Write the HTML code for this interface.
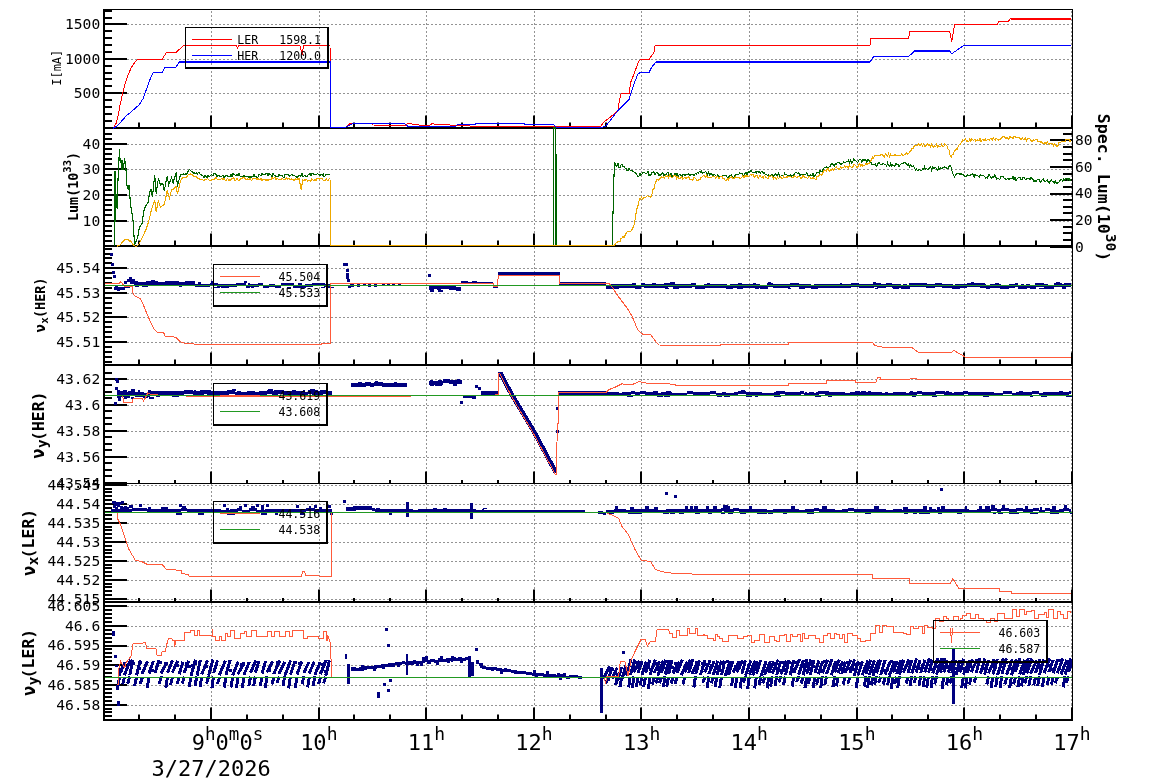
<!DOCTYPE html>
<html><head><meta charset="utf-8"><title>SuperKEKB</title>
<style>html,body{margin:0;padding:0;background:#fff;width:1154px;height:782px;overflow:hidden}svg{display:block}</style>
</head><body>
<svg width="1154" height="782" viewBox="0 0 1154 782" font-family="'DejaVu Sans Mono','Liberation Mono',monospace">
<rect width="1154" height="782" fill="#fff"/>
<g>
<line x1="211.5" y1="10" x2="211.5" y2="128.0" stroke="#939393" stroke-width="1" stroke-dasharray="2,2" stroke-dashoffset="3"/>
<line x1="319.5" y1="10" x2="319.5" y2="128.0" stroke="#939393" stroke-width="1" stroke-dasharray="2,2" stroke-dashoffset="3"/>
<line x1="426.5" y1="10" x2="426.5" y2="128.0" stroke="#939393" stroke-width="1" stroke-dasharray="2,2" stroke-dashoffset="3"/>
<line x1="534.5" y1="10" x2="534.5" y2="128.0" stroke="#939393" stroke-width="1" stroke-dasharray="2,2" stroke-dashoffset="3"/>
<line x1="641.5" y1="10" x2="641.5" y2="128.0" stroke="#939393" stroke-width="1" stroke-dasharray="2,2" stroke-dashoffset="3"/>
<line x1="749.5" y1="10" x2="749.5" y2="128.0" stroke="#939393" stroke-width="1" stroke-dasharray="2,2" stroke-dashoffset="3"/>
<line x1="857.5" y1="10" x2="857.5" y2="128.0" stroke="#939393" stroke-width="1" stroke-dasharray="2,2" stroke-dashoffset="3"/>
<line x1="964.5" y1="10" x2="964.5" y2="128.0" stroke="#939393" stroke-width="1" stroke-dasharray="2,2" stroke-dashoffset="3"/>
<line x1="1071.5" y1="10" x2="1071.5" y2="128.0" stroke="#939393" stroke-width="1" stroke-dasharray="2,2" stroke-dashoffset="3"/>
<line x1="104" y1="93.5" x2="1072" y2="93.5" stroke="#939393" stroke-width="1" stroke-dasharray="2,2" stroke-dashoffset="1"/>
<line x1="104" y1="59.5" x2="1072" y2="59.5" stroke="#939393" stroke-width="1" stroke-dasharray="2,2" stroke-dashoffset="1"/>
<line x1="104" y1="24.5" x2="1072" y2="24.5" stroke="#939393" stroke-width="1" stroke-dasharray="2,2" stroke-dashoffset="1"/>
<line x1="211.5" y1="128" x2="211.5" y2="246.0" stroke="#939393" stroke-width="1" stroke-dasharray="2,2" stroke-dashoffset="1"/>
<line x1="319.5" y1="128" x2="319.5" y2="246.0" stroke="#939393" stroke-width="1" stroke-dasharray="2,2" stroke-dashoffset="1"/>
<line x1="426.5" y1="128" x2="426.5" y2="246.0" stroke="#939393" stroke-width="1" stroke-dasharray="2,2" stroke-dashoffset="1"/>
<line x1="534.5" y1="128" x2="534.5" y2="246.0" stroke="#939393" stroke-width="1" stroke-dasharray="2,2" stroke-dashoffset="1"/>
<line x1="641.5" y1="128" x2="641.5" y2="246.0" stroke="#939393" stroke-width="1" stroke-dasharray="2,2" stroke-dashoffset="1"/>
<line x1="749.5" y1="128" x2="749.5" y2="246.0" stroke="#939393" stroke-width="1" stroke-dasharray="2,2" stroke-dashoffset="1"/>
<line x1="857.5" y1="128" x2="857.5" y2="246.0" stroke="#939393" stroke-width="1" stroke-dasharray="2,2" stroke-dashoffset="1"/>
<line x1="964.5" y1="128" x2="964.5" y2="246.0" stroke="#939393" stroke-width="1" stroke-dasharray="2,2" stroke-dashoffset="1"/>
<line x1="1071.5" y1="128" x2="1071.5" y2="246.0" stroke="#939393" stroke-width="1" stroke-dasharray="2,2" stroke-dashoffset="1"/>
<line x1="104" y1="221.5" x2="1072" y2="221.5" stroke="#939393" stroke-width="1" stroke-dasharray="2,2" stroke-dashoffset="1"/>
<line x1="104" y1="195.5" x2="1072" y2="195.5" stroke="#939393" stroke-width="1" stroke-dasharray="2,2" stroke-dashoffset="1"/>
<line x1="104" y1="169.5" x2="1072" y2="169.5" stroke="#939393" stroke-width="1" stroke-dasharray="2,2" stroke-dashoffset="1"/>
<line x1="104" y1="144.5" x2="1072" y2="144.5" stroke="#939393" stroke-width="1" stroke-dasharray="2,2" stroke-dashoffset="1"/>
<line x1="211.5" y1="246" x2="211.5" y2="365.0" stroke="#939393" stroke-width="1" stroke-dasharray="2,2" stroke-dashoffset="3"/>
<line x1="319.5" y1="246" x2="319.5" y2="365.0" stroke="#939393" stroke-width="1" stroke-dasharray="2,2" stroke-dashoffset="3"/>
<line x1="426.5" y1="246" x2="426.5" y2="365.0" stroke="#939393" stroke-width="1" stroke-dasharray="2,2" stroke-dashoffset="3"/>
<line x1="534.5" y1="246" x2="534.5" y2="365.0" stroke="#939393" stroke-width="1" stroke-dasharray="2,2" stroke-dashoffset="3"/>
<line x1="641.5" y1="246" x2="641.5" y2="365.0" stroke="#939393" stroke-width="1" stroke-dasharray="2,2" stroke-dashoffset="3"/>
<line x1="749.5" y1="246" x2="749.5" y2="365.0" stroke="#939393" stroke-width="1" stroke-dasharray="2,2" stroke-dashoffset="3"/>
<line x1="857.5" y1="246" x2="857.5" y2="365.0" stroke="#939393" stroke-width="1" stroke-dasharray="2,2" stroke-dashoffset="3"/>
<line x1="964.5" y1="246" x2="964.5" y2="365.0" stroke="#939393" stroke-width="1" stroke-dasharray="2,2" stroke-dashoffset="3"/>
<line x1="1071.5" y1="246" x2="1071.5" y2="365.0" stroke="#939393" stroke-width="1" stroke-dasharray="2,2" stroke-dashoffset="3"/>
<line x1="104" y1="342.5" x2="1072" y2="342.5" stroke="#939393" stroke-width="1" stroke-dasharray="2,2" stroke-dashoffset="1"/>
<line x1="104" y1="317.5" x2="1072" y2="317.5" stroke="#939393" stroke-width="1" stroke-dasharray="2,2" stroke-dashoffset="1"/>
<line x1="104" y1="293.5" x2="1072" y2="293.5" stroke="#939393" stroke-width="1" stroke-dasharray="2,2" stroke-dashoffset="1"/>
<line x1="104" y1="268.5" x2="1072" y2="268.5" stroke="#939393" stroke-width="1" stroke-dasharray="2,2" stroke-dashoffset="1"/>
<line x1="211.5" y1="365" x2="211.5" y2="484.0" stroke="#939393" stroke-width="1" stroke-dasharray="2,2" stroke-dashoffset="2"/>
<line x1="319.5" y1="365" x2="319.5" y2="484.0" stroke="#939393" stroke-width="1" stroke-dasharray="2,2" stroke-dashoffset="2"/>
<line x1="426.5" y1="365" x2="426.5" y2="484.0" stroke="#939393" stroke-width="1" stroke-dasharray="2,2" stroke-dashoffset="2"/>
<line x1="534.5" y1="365" x2="534.5" y2="484.0" stroke="#939393" stroke-width="1" stroke-dasharray="2,2" stroke-dashoffset="2"/>
<line x1="641.5" y1="365" x2="641.5" y2="484.0" stroke="#939393" stroke-width="1" stroke-dasharray="2,2" stroke-dashoffset="2"/>
<line x1="749.5" y1="365" x2="749.5" y2="484.0" stroke="#939393" stroke-width="1" stroke-dasharray="2,2" stroke-dashoffset="2"/>
<line x1="857.5" y1="365" x2="857.5" y2="484.0" stroke="#939393" stroke-width="1" stroke-dasharray="2,2" stroke-dashoffset="2"/>
<line x1="964.5" y1="365" x2="964.5" y2="484.0" stroke="#939393" stroke-width="1" stroke-dasharray="2,2" stroke-dashoffset="2"/>
<line x1="1071.5" y1="365" x2="1071.5" y2="484.0" stroke="#939393" stroke-width="1" stroke-dasharray="2,2" stroke-dashoffset="2"/>
<line x1="104" y1="457.5" x2="1072" y2="457.5" stroke="#939393" stroke-width="1" stroke-dasharray="2,2" stroke-dashoffset="1"/>
<line x1="104" y1="431.5" x2="1072" y2="431.5" stroke="#939393" stroke-width="1" stroke-dasharray="2,2" stroke-dashoffset="1"/>
<line x1="104" y1="405.5" x2="1072" y2="405.5" stroke="#939393" stroke-width="1" stroke-dasharray="2,2" stroke-dashoffset="1"/>
<line x1="104" y1="379.5" x2="1072" y2="379.5" stroke="#939393" stroke-width="1" stroke-dasharray="2,2" stroke-dashoffset="1"/>
<line x1="211.5" y1="484" x2="211.5" y2="602.0" stroke="#939393" stroke-width="1" stroke-dasharray="2,2" stroke-dashoffset="1"/>
<line x1="319.5" y1="484" x2="319.5" y2="602.0" stroke="#939393" stroke-width="1" stroke-dasharray="2,2" stroke-dashoffset="1"/>
<line x1="426.5" y1="484" x2="426.5" y2="602.0" stroke="#939393" stroke-width="1" stroke-dasharray="2,2" stroke-dashoffset="1"/>
<line x1="534.5" y1="484" x2="534.5" y2="602.0" stroke="#939393" stroke-width="1" stroke-dasharray="2,2" stroke-dashoffset="1"/>
<line x1="641.5" y1="484" x2="641.5" y2="602.0" stroke="#939393" stroke-width="1" stroke-dasharray="2,2" stroke-dashoffset="1"/>
<line x1="749.5" y1="484" x2="749.5" y2="602.0" stroke="#939393" stroke-width="1" stroke-dasharray="2,2" stroke-dashoffset="1"/>
<line x1="857.5" y1="484" x2="857.5" y2="602.0" stroke="#939393" stroke-width="1" stroke-dasharray="2,2" stroke-dashoffset="1"/>
<line x1="964.5" y1="484" x2="964.5" y2="602.0" stroke="#939393" stroke-width="1" stroke-dasharray="2,2" stroke-dashoffset="1"/>
<line x1="1071.5" y1="484" x2="1071.5" y2="602.0" stroke="#939393" stroke-width="1" stroke-dasharray="2,2" stroke-dashoffset="1"/>
<line x1="104" y1="599.5" x2="1072" y2="599.5" stroke="#939393" stroke-width="1" stroke-dasharray="2,2" stroke-dashoffset="1"/>
<line x1="104" y1="580.5" x2="1072" y2="580.5" stroke="#939393" stroke-width="1" stroke-dasharray="2,2" stroke-dashoffset="1"/>
<line x1="104" y1="561.5" x2="1072" y2="561.5" stroke="#939393" stroke-width="1" stroke-dasharray="2,2" stroke-dashoffset="1"/>
<line x1="104" y1="542.5" x2="1072" y2="542.5" stroke="#939393" stroke-width="1" stroke-dasharray="2,2" stroke-dashoffset="1"/>
<line x1="104" y1="523.5" x2="1072" y2="523.5" stroke="#939393" stroke-width="1" stroke-dasharray="2,2" stroke-dashoffset="1"/>
<line x1="104" y1="504.5" x2="1072" y2="504.5" stroke="#939393" stroke-width="1" stroke-dasharray="2,2" stroke-dashoffset="1"/>
<line x1="104" y1="485.5" x2="1072" y2="485.5" stroke="#939393" stroke-width="1" stroke-dasharray="2,2" stroke-dashoffset="1"/>
<line x1="211.5" y1="602" x2="211.5" y2="720.0" stroke="#939393" stroke-width="1" stroke-dasharray="2,2" stroke-dashoffset="3"/>
<line x1="319.5" y1="602" x2="319.5" y2="720.0" stroke="#939393" stroke-width="1" stroke-dasharray="2,2" stroke-dashoffset="3"/>
<line x1="426.5" y1="602" x2="426.5" y2="720.0" stroke="#939393" stroke-width="1" stroke-dasharray="2,2" stroke-dashoffset="3"/>
<line x1="534.5" y1="602" x2="534.5" y2="720.0" stroke="#939393" stroke-width="1" stroke-dasharray="2,2" stroke-dashoffset="3"/>
<line x1="641.5" y1="602" x2="641.5" y2="720.0" stroke="#939393" stroke-width="1" stroke-dasharray="2,2" stroke-dashoffset="3"/>
<line x1="749.5" y1="602" x2="749.5" y2="720.0" stroke="#939393" stroke-width="1" stroke-dasharray="2,2" stroke-dashoffset="3"/>
<line x1="857.5" y1="602" x2="857.5" y2="720.0" stroke="#939393" stroke-width="1" stroke-dasharray="2,2" stroke-dashoffset="3"/>
<line x1="964.5" y1="602" x2="964.5" y2="720.0" stroke="#939393" stroke-width="1" stroke-dasharray="2,2" stroke-dashoffset="3"/>
<line x1="1071.5" y1="602" x2="1071.5" y2="720.0" stroke="#939393" stroke-width="1" stroke-dasharray="2,2" stroke-dashoffset="3"/>
<line x1="104" y1="705.5" x2="1072" y2="705.5" stroke="#939393" stroke-width="1" stroke-dasharray="2,2" stroke-dashoffset="1"/>
<line x1="104" y1="685.5" x2="1072" y2="685.5" stroke="#939393" stroke-width="1" stroke-dasharray="2,2" stroke-dashoffset="1"/>
<line x1="104" y1="665.5" x2="1072" y2="665.5" stroke="#939393" stroke-width="1" stroke-dasharray="2,2" stroke-dashoffset="1"/>
<line x1="104" y1="646.5" x2="1072" y2="646.5" stroke="#939393" stroke-width="1" stroke-dasharray="2,2" stroke-dashoffset="1"/>
<line x1="104" y1="626.5" x2="1072" y2="626.5" stroke="#939393" stroke-width="1" stroke-dasharray="2,2" stroke-dashoffset="1"/>
<line x1="104" y1="606.5" x2="1072" y2="606.5" stroke="#939393" stroke-width="1" stroke-dasharray="2,2" stroke-dashoffset="1"/>
</g>
<g>
<rect x="104.0" y="127.0" width="8.0" height="2.0" fill="#000"/>
<rect x="104.0" y="120.0" width="8.0" height="2.0" fill="#000"/>
<rect x="104.0" y="113.0" width="8.0" height="2.0" fill="#000"/>
<rect x="104.0" y="106.0" width="8.0" height="2.0" fill="#000"/>
<rect x="104.0" y="99.0" width="8.0" height="2.0" fill="#000"/>
<rect x="104.0" y="92.0" width="8.0" height="2.0" fill="#000"/>
<rect x="104.0" y="85.0" width="8.0" height="2.0" fill="#000"/>
<rect x="104.0" y="78.0" width="8.0" height="2.0" fill="#000"/>
<rect x="104.0" y="72.0" width="8.0" height="2.0" fill="#000"/>
<rect x="104.0" y="65.0" width="8.0" height="2.0" fill="#000"/>
<rect x="104.0" y="58.0" width="8.0" height="2.0" fill="#000"/>
<rect x="104.0" y="51.0" width="8.0" height="2.0" fill="#000"/>
<rect x="104.0" y="44.0" width="8.0" height="2.0" fill="#000"/>
<rect x="104.0" y="37.0" width="8.0" height="2.0" fill="#000"/>
<rect x="104.0" y="30.0" width="8.0" height="2.0" fill="#000"/>
<rect x="104.0" y="23.0" width="8.0" height="2.0" fill="#000"/>
<rect x="104.0" y="17.0" width="8.0" height="2.0" fill="#000"/>
<rect x="104.0" y="10.0" width="8.0" height="2.0" fill="#000"/>
<rect x="104.0" y="92.0" width="23.0" height="2.0" fill="#000"/>
<rect x="104.0" y="58.0" width="23.0" height="2.0" fill="#000"/>
<rect x="104.0" y="23.0" width="23.0" height="2.0" fill="#000"/>
<rect x="138.0" y="122.5" width="2.0" height="5.0" fill="#000"/>
<rect x="174.0" y="122.5" width="2.0" height="5.0" fill="#000"/>
<rect x="210.0" y="115.5" width="2.0" height="12.0" fill="#000"/>
<rect x="246.0" y="122.5" width="2.0" height="5.0" fill="#000"/>
<rect x="282.0" y="122.5" width="2.0" height="5.0" fill="#000"/>
<rect x="318.0" y="115.5" width="2.0" height="12.0" fill="#000"/>
<rect x="353.0" y="122.5" width="2.0" height="5.0" fill="#000"/>
<rect x="389.0" y="122.5" width="2.0" height="5.0" fill="#000"/>
<rect x="425.0" y="115.5" width="2.0" height="12.0" fill="#000"/>
<rect x="461.0" y="122.5" width="2.0" height="5.0" fill="#000"/>
<rect x="497.0" y="122.5" width="2.0" height="5.0" fill="#000"/>
<rect x="533.0" y="115.5" width="2.0" height="12.0" fill="#000"/>
<rect x="569.0" y="122.5" width="2.0" height="5.0" fill="#000"/>
<rect x="605.0" y="122.5" width="2.0" height="5.0" fill="#000"/>
<rect x="640.0" y="115.5" width="2.0" height="12.0" fill="#000"/>
<rect x="676.0" y="122.5" width="2.0" height="5.0" fill="#000"/>
<rect x="712.0" y="122.5" width="2.0" height="5.0" fill="#000"/>
<rect x="748.0" y="115.5" width="2.0" height="12.0" fill="#000"/>
<rect x="784.0" y="122.5" width="2.0" height="5.0" fill="#000"/>
<rect x="820.0" y="122.5" width="2.0" height="5.0" fill="#000"/>
<rect x="856.0" y="115.5" width="2.0" height="12.0" fill="#000"/>
<rect x="891.0" y="122.5" width="2.0" height="5.0" fill="#000"/>
<rect x="927.0" y="122.5" width="2.0" height="5.0" fill="#000"/>
<rect x="963.0" y="115.5" width="2.0" height="12.0" fill="#000"/>
<rect x="999.0" y="122.5" width="2.0" height="5.0" fill="#000"/>
<rect x="1035.0" y="122.5" width="2.0" height="5.0" fill="#000"/>
<rect x="1071.0" y="115.5" width="2.0" height="12.0" fill="#000"/>
<rect x="104.0" y="245.0" width="8.0" height="2.0" fill="#000"/>
<rect x="104.0" y="240.0" width="8.0" height="2.0" fill="#000"/>
<rect x="104.0" y="235.0" width="8.0" height="2.0" fill="#000"/>
<rect x="104.0" y="230.0" width="8.0" height="2.0" fill="#000"/>
<rect x="104.0" y="225.0" width="8.0" height="2.0" fill="#000"/>
<rect x="104.0" y="220.0" width="8.0" height="2.0" fill="#000"/>
<rect x="104.0" y="214.0" width="8.0" height="2.0" fill="#000"/>
<rect x="104.0" y="209.0" width="8.0" height="2.0" fill="#000"/>
<rect x="104.0" y="204.0" width="8.0" height="2.0" fill="#000"/>
<rect x="104.0" y="199.0" width="8.0" height="2.0" fill="#000"/>
<rect x="104.0" y="194.0" width="8.0" height="2.0" fill="#000"/>
<rect x="104.0" y="189.0" width="8.0" height="2.0" fill="#000"/>
<rect x="104.0" y="184.0" width="8.0" height="2.0" fill="#000"/>
<rect x="104.0" y="179.0" width="8.0" height="2.0" fill="#000"/>
<rect x="104.0" y="174.0" width="8.0" height="2.0" fill="#000"/>
<rect x="104.0" y="168.0" width="8.0" height="2.0" fill="#000"/>
<rect x="104.0" y="163.0" width="8.0" height="2.0" fill="#000"/>
<rect x="104.0" y="158.0" width="8.0" height="2.0" fill="#000"/>
<rect x="104.0" y="153.0" width="8.0" height="2.0" fill="#000"/>
<rect x="104.0" y="148.0" width="8.0" height="2.0" fill="#000"/>
<rect x="104.0" y="143.0" width="8.0" height="2.0" fill="#000"/>
<rect x="104.0" y="138.0" width="8.0" height="2.0" fill="#000"/>
<rect x="104.0" y="133.0" width="8.0" height="2.0" fill="#000"/>
<rect x="104.0" y="127.0" width="8.0" height="2.0" fill="#000"/>
<rect x="104.0" y="220.0" width="23.0" height="2.0" fill="#000"/>
<rect x="104.0" y="194.0" width="23.0" height="2.0" fill="#000"/>
<rect x="104.0" y="168.0" width="23.0" height="2.0" fill="#000"/>
<rect x="104.0" y="143.0" width="23.0" height="2.0" fill="#000"/>
<rect x="138.0" y="240.5" width="2.0" height="5.0" fill="#000"/>
<rect x="174.0" y="240.5" width="2.0" height="5.0" fill="#000"/>
<rect x="210.0" y="233.5" width="2.0" height="12.0" fill="#000"/>
<rect x="246.0" y="240.5" width="2.0" height="5.0" fill="#000"/>
<rect x="282.0" y="240.5" width="2.0" height="5.0" fill="#000"/>
<rect x="318.0" y="233.5" width="2.0" height="12.0" fill="#000"/>
<rect x="353.0" y="240.5" width="2.0" height="5.0" fill="#000"/>
<rect x="389.0" y="240.5" width="2.0" height="5.0" fill="#000"/>
<rect x="425.0" y="233.5" width="2.0" height="12.0" fill="#000"/>
<rect x="461.0" y="240.5" width="2.0" height="5.0" fill="#000"/>
<rect x="497.0" y="240.5" width="2.0" height="5.0" fill="#000"/>
<rect x="533.0" y="233.5" width="2.0" height="12.0" fill="#000"/>
<rect x="569.0" y="240.5" width="2.0" height="5.0" fill="#000"/>
<rect x="605.0" y="240.5" width="2.0" height="5.0" fill="#000"/>
<rect x="640.0" y="233.5" width="2.0" height="12.0" fill="#000"/>
<rect x="676.0" y="240.5" width="2.0" height="5.0" fill="#000"/>
<rect x="712.0" y="240.5" width="2.0" height="5.0" fill="#000"/>
<rect x="748.0" y="233.5" width="2.0" height="12.0" fill="#000"/>
<rect x="784.0" y="240.5" width="2.0" height="5.0" fill="#000"/>
<rect x="820.0" y="240.5" width="2.0" height="5.0" fill="#000"/>
<rect x="856.0" y="233.5" width="2.0" height="12.0" fill="#000"/>
<rect x="891.0" y="240.5" width="2.0" height="5.0" fill="#000"/>
<rect x="927.0" y="240.5" width="2.0" height="5.0" fill="#000"/>
<rect x="963.0" y="233.5" width="2.0" height="12.0" fill="#000"/>
<rect x="999.0" y="240.5" width="2.0" height="5.0" fill="#000"/>
<rect x="1035.0" y="240.5" width="2.0" height="5.0" fill="#000"/>
<rect x="1071.0" y="233.5" width="2.0" height="12.0" fill="#000"/>
<rect x="104.0" y="361.0" width="8.0" height="2.0" fill="#000"/>
<rect x="104.0" y="356.0" width="8.0" height="2.0" fill="#000"/>
<rect x="104.0" y="351.0" width="8.0" height="2.0" fill="#000"/>
<rect x="104.0" y="346.0" width="8.0" height="2.0" fill="#000"/>
<rect x="104.0" y="341.0" width="8.0" height="2.0" fill="#000"/>
<rect x="104.0" y="336.0" width="8.0" height="2.0" fill="#000"/>
<rect x="104.0" y="331.0" width="8.0" height="2.0" fill="#000"/>
<rect x="104.0" y="326.0" width="8.0" height="2.0" fill="#000"/>
<rect x="104.0" y="321.0" width="8.0" height="2.0" fill="#000"/>
<rect x="104.0" y="316.0" width="8.0" height="2.0" fill="#000"/>
<rect x="104.0" y="312.0" width="8.0" height="2.0" fill="#000"/>
<rect x="104.0" y="307.0" width="8.0" height="2.0" fill="#000"/>
<rect x="104.0" y="302.0" width="8.0" height="2.0" fill="#000"/>
<rect x="104.0" y="297.0" width="8.0" height="2.0" fill="#000"/>
<rect x="104.0" y="292.0" width="8.0" height="2.0" fill="#000"/>
<rect x="104.0" y="287.0" width="8.0" height="2.0" fill="#000"/>
<rect x="104.0" y="282.0" width="8.0" height="2.0" fill="#000"/>
<rect x="104.0" y="277.0" width="8.0" height="2.0" fill="#000"/>
<rect x="104.0" y="272.0" width="8.0" height="2.0" fill="#000"/>
<rect x="104.0" y="267.0" width="8.0" height="2.0" fill="#000"/>
<rect x="104.0" y="262.0" width="8.0" height="2.0" fill="#000"/>
<rect x="104.0" y="257.0" width="8.0" height="2.0" fill="#000"/>
<rect x="104.0" y="253.0" width="8.0" height="2.0" fill="#000"/>
<rect x="104.0" y="248.0" width="8.0" height="2.0" fill="#000"/>
<rect x="104.0" y="341.0" width="23.0" height="2.0" fill="#000"/>
<rect x="104.0" y="316.0" width="23.0" height="2.0" fill="#000"/>
<rect x="104.0" y="292.0" width="23.0" height="2.0" fill="#000"/>
<rect x="104.0" y="267.0" width="23.0" height="2.0" fill="#000"/>
<rect x="138.0" y="359.5" width="2.0" height="5.0" fill="#000"/>
<rect x="174.0" y="359.5" width="2.0" height="5.0" fill="#000"/>
<rect x="210.0" y="352.5" width="2.0" height="12.0" fill="#000"/>
<rect x="246.0" y="359.5" width="2.0" height="5.0" fill="#000"/>
<rect x="282.0" y="359.5" width="2.0" height="5.0" fill="#000"/>
<rect x="318.0" y="352.5" width="2.0" height="12.0" fill="#000"/>
<rect x="353.0" y="359.5" width="2.0" height="5.0" fill="#000"/>
<rect x="389.0" y="359.5" width="2.0" height="5.0" fill="#000"/>
<rect x="425.0" y="352.5" width="2.0" height="12.0" fill="#000"/>
<rect x="461.0" y="359.5" width="2.0" height="5.0" fill="#000"/>
<rect x="497.0" y="359.5" width="2.0" height="5.0" fill="#000"/>
<rect x="533.0" y="352.5" width="2.0" height="12.0" fill="#000"/>
<rect x="569.0" y="359.5" width="2.0" height="5.0" fill="#000"/>
<rect x="605.0" y="359.5" width="2.0" height="5.0" fill="#000"/>
<rect x="640.0" y="352.5" width="2.0" height="12.0" fill="#000"/>
<rect x="676.0" y="359.5" width="2.0" height="5.0" fill="#000"/>
<rect x="712.0" y="359.5" width="2.0" height="5.0" fill="#000"/>
<rect x="748.0" y="352.5" width="2.0" height="12.0" fill="#000"/>
<rect x="784.0" y="359.5" width="2.0" height="5.0" fill="#000"/>
<rect x="820.0" y="359.5" width="2.0" height="5.0" fill="#000"/>
<rect x="856.0" y="352.5" width="2.0" height="12.0" fill="#000"/>
<rect x="891.0" y="359.5" width="2.0" height="5.0" fill="#000"/>
<rect x="927.0" y="359.5" width="2.0" height="5.0" fill="#000"/>
<rect x="963.0" y="352.5" width="2.0" height="12.0" fill="#000"/>
<rect x="999.0" y="359.5" width="2.0" height="5.0" fill="#000"/>
<rect x="1035.0" y="359.5" width="2.0" height="5.0" fill="#000"/>
<rect x="1071.0" y="352.5" width="2.0" height="12.0" fill="#000"/>
<rect x="104.0" y="482.0" width="8.0" height="2.0" fill="#000"/>
<rect x="104.0" y="475.0" width="8.0" height="2.0" fill="#000"/>
<rect x="104.0" y="469.0" width="8.0" height="2.0" fill="#000"/>
<rect x="104.0" y="462.0" width="8.0" height="2.0" fill="#000"/>
<rect x="104.0" y="456.0" width="8.0" height="2.0" fill="#000"/>
<rect x="104.0" y="449.0" width="8.0" height="2.0" fill="#000"/>
<rect x="104.0" y="443.0" width="8.0" height="2.0" fill="#000"/>
<rect x="104.0" y="436.0" width="8.0" height="2.0" fill="#000"/>
<rect x="104.0" y="430.0" width="8.0" height="2.0" fill="#000"/>
<rect x="104.0" y="423.0" width="8.0" height="2.0" fill="#000"/>
<rect x="104.0" y="417.0" width="8.0" height="2.0" fill="#000"/>
<rect x="104.0" y="410.0" width="8.0" height="2.0" fill="#000"/>
<rect x="104.0" y="404.0" width="8.0" height="2.0" fill="#000"/>
<rect x="104.0" y="397.0" width="8.0" height="2.0" fill="#000"/>
<rect x="104.0" y="391.0" width="8.0" height="2.0" fill="#000"/>
<rect x="104.0" y="384.0" width="8.0" height="2.0" fill="#000"/>
<rect x="104.0" y="378.0" width="8.0" height="2.0" fill="#000"/>
<rect x="104.0" y="372.0" width="8.0" height="2.0" fill="#000"/>
<rect x="104.0" y="482.0" width="23.0" height="2.0" fill="#000"/>
<rect x="104.0" y="456.0" width="23.0" height="2.0" fill="#000"/>
<rect x="104.0" y="430.0" width="23.0" height="2.0" fill="#000"/>
<rect x="104.0" y="404.0" width="23.0" height="2.0" fill="#000"/>
<rect x="104.0" y="378.0" width="23.0" height="2.0" fill="#000"/>
<rect x="138.0" y="480.0" width="2.0" height="3.5" fill="#000"/>
<rect x="174.0" y="480.0" width="2.0" height="3.5" fill="#000"/>
<rect x="210.0" y="471.5" width="2.0" height="12.0" fill="#000"/>
<rect x="246.0" y="480.0" width="2.0" height="3.5" fill="#000"/>
<rect x="282.0" y="480.0" width="2.0" height="3.5" fill="#000"/>
<rect x="318.0" y="471.5" width="2.0" height="12.0" fill="#000"/>
<rect x="353.0" y="480.0" width="2.0" height="3.5" fill="#000"/>
<rect x="389.0" y="480.0" width="2.0" height="3.5" fill="#000"/>
<rect x="425.0" y="471.5" width="2.0" height="12.0" fill="#000"/>
<rect x="461.0" y="480.0" width="2.0" height="3.5" fill="#000"/>
<rect x="497.0" y="480.0" width="2.0" height="3.5" fill="#000"/>
<rect x="533.0" y="471.5" width="2.0" height="12.0" fill="#000"/>
<rect x="569.0" y="480.0" width="2.0" height="3.5" fill="#000"/>
<rect x="605.0" y="480.0" width="2.0" height="3.5" fill="#000"/>
<rect x="640.0" y="471.5" width="2.0" height="12.0" fill="#000"/>
<rect x="676.0" y="480.0" width="2.0" height="3.5" fill="#000"/>
<rect x="712.0" y="480.0" width="2.0" height="3.5" fill="#000"/>
<rect x="748.0" y="471.5" width="2.0" height="12.0" fill="#000"/>
<rect x="784.0" y="480.0" width="2.0" height="3.5" fill="#000"/>
<rect x="820.0" y="480.0" width="2.0" height="3.5" fill="#000"/>
<rect x="856.0" y="471.5" width="2.0" height="12.0" fill="#000"/>
<rect x="891.0" y="480.0" width="2.0" height="3.5" fill="#000"/>
<rect x="927.0" y="480.0" width="2.0" height="3.5" fill="#000"/>
<rect x="963.0" y="471.5" width="2.0" height="12.0" fill="#000"/>
<rect x="999.0" y="480.0" width="2.0" height="3.5" fill="#000"/>
<rect x="1035.0" y="480.0" width="2.0" height="3.5" fill="#000"/>
<rect x="1071.0" y="471.5" width="2.0" height="12.0" fill="#000"/>
<rect x="104.0" y="598.0" width="8.0" height="2.0" fill="#000"/>
<rect x="104.0" y="594.0" width="8.0" height="2.0" fill="#000"/>
<rect x="104.0" y="590.0" width="8.0" height="2.0" fill="#000"/>
<rect x="104.0" y="586.0" width="8.0" height="2.0" fill="#000"/>
<rect x="104.0" y="583.0" width="8.0" height="2.0" fill="#000"/>
<rect x="104.0" y="579.0" width="8.0" height="2.0" fill="#000"/>
<rect x="104.0" y="575.0" width="8.0" height="2.0" fill="#000"/>
<rect x="104.0" y="571.0" width="8.0" height="2.0" fill="#000"/>
<rect x="104.0" y="567.0" width="8.0" height="2.0" fill="#000"/>
<rect x="104.0" y="564.0" width="8.0" height="2.0" fill="#000"/>
<rect x="104.0" y="560.0" width="8.0" height="2.0" fill="#000"/>
<rect x="104.0" y="556.0" width="8.0" height="2.0" fill="#000"/>
<rect x="104.0" y="552.0" width="8.0" height="2.0" fill="#000"/>
<rect x="104.0" y="549.0" width="8.0" height="2.0" fill="#000"/>
<rect x="104.0" y="545.0" width="8.0" height="2.0" fill="#000"/>
<rect x="104.0" y="541.0" width="8.0" height="2.0" fill="#000"/>
<rect x="104.0" y="537.0" width="8.0" height="2.0" fill="#000"/>
<rect x="104.0" y="533.0" width="8.0" height="2.0" fill="#000"/>
<rect x="104.0" y="529.0" width="8.0" height="2.0" fill="#000"/>
<rect x="104.0" y="526.0" width="8.0" height="2.0" fill="#000"/>
<rect x="104.0" y="522.0" width="8.0" height="2.0" fill="#000"/>
<rect x="104.0" y="518.0" width="8.0" height="2.0" fill="#000"/>
<rect x="104.0" y="514.0" width="8.0" height="2.0" fill="#000"/>
<rect x="104.0" y="511.0" width="8.0" height="2.0" fill="#000"/>
<rect x="104.0" y="507.0" width="8.0" height="2.0" fill="#000"/>
<rect x="104.0" y="503.0" width="8.0" height="2.0" fill="#000"/>
<rect x="104.0" y="499.0" width="8.0" height="2.0" fill="#000"/>
<rect x="104.0" y="495.0" width="8.0" height="2.0" fill="#000"/>
<rect x="104.0" y="491.0" width="8.0" height="2.0" fill="#000"/>
<rect x="104.0" y="488.0" width="8.0" height="2.0" fill="#000"/>
<rect x="104.0" y="484.0" width="8.0" height="2.0" fill="#000"/>
<rect x="104.0" y="598.0" width="23.0" height="2.0" fill="#000"/>
<rect x="104.0" y="579.0" width="23.0" height="2.0" fill="#000"/>
<rect x="104.0" y="560.0" width="23.0" height="2.0" fill="#000"/>
<rect x="104.0" y="541.0" width="23.0" height="2.0" fill="#000"/>
<rect x="104.0" y="522.0" width="23.0" height="2.0" fill="#000"/>
<rect x="104.0" y="503.0" width="23.0" height="2.0" fill="#000"/>
<rect x="104.0" y="484.0" width="23.0" height="2.0" fill="#000"/>
<rect x="138.0" y="598.0" width="2.0" height="3.5" fill="#000"/>
<rect x="174.0" y="598.0" width="2.0" height="3.5" fill="#000"/>
<rect x="210.0" y="589.5" width="2.0" height="12.0" fill="#000"/>
<rect x="246.0" y="598.0" width="2.0" height="3.5" fill="#000"/>
<rect x="282.0" y="598.0" width="2.0" height="3.5" fill="#000"/>
<rect x="318.0" y="589.5" width="2.0" height="12.0" fill="#000"/>
<rect x="353.0" y="598.0" width="2.0" height="3.5" fill="#000"/>
<rect x="389.0" y="598.0" width="2.0" height="3.5" fill="#000"/>
<rect x="425.0" y="589.5" width="2.0" height="12.0" fill="#000"/>
<rect x="461.0" y="598.0" width="2.0" height="3.5" fill="#000"/>
<rect x="497.0" y="598.0" width="2.0" height="3.5" fill="#000"/>
<rect x="533.0" y="589.5" width="2.0" height="12.0" fill="#000"/>
<rect x="569.0" y="598.0" width="2.0" height="3.5" fill="#000"/>
<rect x="605.0" y="598.0" width="2.0" height="3.5" fill="#000"/>
<rect x="640.0" y="589.5" width="2.0" height="12.0" fill="#000"/>
<rect x="676.0" y="598.0" width="2.0" height="3.5" fill="#000"/>
<rect x="712.0" y="598.0" width="2.0" height="3.5" fill="#000"/>
<rect x="748.0" y="589.5" width="2.0" height="12.0" fill="#000"/>
<rect x="784.0" y="598.0" width="2.0" height="3.5" fill="#000"/>
<rect x="820.0" y="598.0" width="2.0" height="3.5" fill="#000"/>
<rect x="856.0" y="589.5" width="2.0" height="12.0" fill="#000"/>
<rect x="891.0" y="598.0" width="2.0" height="3.5" fill="#000"/>
<rect x="927.0" y="598.0" width="2.0" height="3.5" fill="#000"/>
<rect x="963.0" y="589.5" width="2.0" height="12.0" fill="#000"/>
<rect x="999.0" y="598.0" width="2.0" height="3.5" fill="#000"/>
<rect x="1035.0" y="598.0" width="2.0" height="3.5" fill="#000"/>
<rect x="1071.0" y="589.5" width="2.0" height="12.0" fill="#000"/>
<rect x="104.0" y="719.0" width="8.0" height="2.0" fill="#000"/>
<rect x="104.0" y="715.0" width="8.0" height="2.0" fill="#000"/>
<rect x="104.0" y="711.0" width="8.0" height="2.0" fill="#000"/>
<rect x="104.0" y="708.0" width="8.0" height="2.0" fill="#000"/>
<rect x="104.0" y="704.0" width="8.0" height="2.0" fill="#000"/>
<rect x="104.0" y="700.0" width="8.0" height="2.0" fill="#000"/>
<rect x="104.0" y="696.0" width="8.0" height="2.0" fill="#000"/>
<rect x="104.0" y="692.0" width="8.0" height="2.0" fill="#000"/>
<rect x="104.0" y="688.0" width="8.0" height="2.0" fill="#000"/>
<rect x="104.0" y="684.0" width="8.0" height="2.0" fill="#000"/>
<rect x="104.0" y="680.0" width="8.0" height="2.0" fill="#000"/>
<rect x="104.0" y="676.0" width="8.0" height="2.0" fill="#000"/>
<rect x="104.0" y="672.0" width="8.0" height="2.0" fill="#000"/>
<rect x="104.0" y="668.0" width="8.0" height="2.0" fill="#000"/>
<rect x="104.0" y="664.0" width="8.0" height="2.0" fill="#000"/>
<rect x="104.0" y="660.0" width="8.0" height="2.0" fill="#000"/>
<rect x="104.0" y="656.0" width="8.0" height="2.0" fill="#000"/>
<rect x="104.0" y="652.0" width="8.0" height="2.0" fill="#000"/>
<rect x="104.0" y="648.0" width="8.0" height="2.0" fill="#000"/>
<rect x="104.0" y="645.0" width="8.0" height="2.0" fill="#000"/>
<rect x="104.0" y="641.0" width="8.0" height="2.0" fill="#000"/>
<rect x="104.0" y="637.0" width="8.0" height="2.0" fill="#000"/>
<rect x="104.0" y="633.0" width="8.0" height="2.0" fill="#000"/>
<rect x="104.0" y="629.0" width="8.0" height="2.0" fill="#000"/>
<rect x="104.0" y="625.0" width="8.0" height="2.0" fill="#000"/>
<rect x="104.0" y="621.0" width="8.0" height="2.0" fill="#000"/>
<rect x="104.0" y="617.0" width="8.0" height="2.0" fill="#000"/>
<rect x="104.0" y="613.0" width="8.0" height="2.0" fill="#000"/>
<rect x="104.0" y="609.0" width="8.0" height="2.0" fill="#000"/>
<rect x="104.0" y="605.0" width="8.0" height="2.0" fill="#000"/>
<rect x="104.0" y="601.0" width="8.0" height="2.0" fill="#000"/>
<rect x="104.0" y="704.0" width="23.0" height="2.0" fill="#000"/>
<rect x="104.0" y="684.0" width="23.0" height="2.0" fill="#000"/>
<rect x="104.0" y="664.0" width="23.0" height="2.0" fill="#000"/>
<rect x="104.0" y="645.0" width="23.0" height="2.0" fill="#000"/>
<rect x="104.0" y="625.0" width="23.0" height="2.0" fill="#000"/>
<rect x="104.0" y="605.0" width="23.0" height="2.0" fill="#000"/>
<rect x="138.0" y="714.5" width="2.0" height="5.0" fill="#000"/>
<rect x="174.0" y="714.5" width="2.0" height="5.0" fill="#000"/>
<rect x="210.0" y="707.5" width="2.0" height="12.0" fill="#000"/>
<rect x="246.0" y="714.5" width="2.0" height="5.0" fill="#000"/>
<rect x="282.0" y="714.5" width="2.0" height="5.0" fill="#000"/>
<rect x="318.0" y="707.5" width="2.0" height="12.0" fill="#000"/>
<rect x="353.0" y="714.5" width="2.0" height="5.0" fill="#000"/>
<rect x="389.0" y="714.5" width="2.0" height="5.0" fill="#000"/>
<rect x="425.0" y="707.5" width="2.0" height="12.0" fill="#000"/>
<rect x="461.0" y="714.5" width="2.0" height="5.0" fill="#000"/>
<rect x="497.0" y="714.5" width="2.0" height="5.0" fill="#000"/>
<rect x="533.0" y="707.5" width="2.0" height="12.0" fill="#000"/>
<rect x="569.0" y="714.5" width="2.0" height="5.0" fill="#000"/>
<rect x="605.0" y="714.5" width="2.0" height="5.0" fill="#000"/>
<rect x="640.0" y="707.5" width="2.0" height="12.0" fill="#000"/>
<rect x="676.0" y="714.5" width="2.0" height="5.0" fill="#000"/>
<rect x="712.0" y="714.5" width="2.0" height="5.0" fill="#000"/>
<rect x="748.0" y="707.5" width="2.0" height="12.0" fill="#000"/>
<rect x="784.0" y="714.5" width="2.0" height="5.0" fill="#000"/>
<rect x="820.0" y="714.5" width="2.0" height="5.0" fill="#000"/>
<rect x="856.0" y="707.5" width="2.0" height="12.0" fill="#000"/>
<rect x="891.0" y="714.5" width="2.0" height="5.0" fill="#000"/>
<rect x="927.0" y="714.5" width="2.0" height="5.0" fill="#000"/>
<rect x="963.0" y="707.5" width="2.0" height="12.0" fill="#000"/>
<rect x="999.0" y="714.5" width="2.0" height="5.0" fill="#000"/>
<rect x="1035.0" y="714.5" width="2.0" height="5.0" fill="#000"/>
<rect x="1071.0" y="707.5" width="2.0" height="12.0" fill="#000"/>
<rect x="1050.0" y="246.0" width="22.0" height="2.0" fill="#000"/>
<rect x="1063.0" y="239.0" width="9.0" height="2.0" fill="#000"/>
<rect x="1063.0" y="232.0" width="9.0" height="2.0" fill="#000"/>
<rect x="1063.0" y="226.0" width="9.0" height="2.0" fill="#000"/>
<rect x="1050.0" y="219.0" width="22.0" height="2.0" fill="#000"/>
<rect x="1063.0" y="212.0" width="9.0" height="2.0" fill="#000"/>
<rect x="1063.0" y="206.0" width="9.0" height="2.0" fill="#000"/>
<rect x="1063.0" y="199.0" width="9.0" height="2.0" fill="#000"/>
<rect x="1050.0" y="193.0" width="22.0" height="2.0" fill="#000"/>
<rect x="1063.0" y="186.0" width="9.0" height="2.0" fill="#000"/>
<rect x="1063.0" y="179.0" width="9.0" height="2.0" fill="#000"/>
<rect x="1063.0" y="173.0" width="9.0" height="2.0" fill="#000"/>
<rect x="1050.0" y="166.0" width="22.0" height="2.0" fill="#000"/>
<rect x="1063.0" y="159.0" width="9.0" height="2.0" fill="#000"/>
<rect x="1063.0" y="153.0" width="9.0" height="2.0" fill="#000"/>
<rect x="1063.0" y="146.0" width="9.0" height="2.0" fill="#000"/>
<rect x="1050.0" y="139.0" width="22.0" height="2.0" fill="#000"/>
<rect x="1063.0" y="133.0" width="9.0" height="2.0" fill="#000"/>
<rect x="103.0" y="9.0" width="2.0" height="712.0" fill="#000"/>
<rect x="103.0" y="9.0" width="970.0" height="1.0" fill="#000"/>
<rect x="1072.0" y="9.0" width="1.0" height="712.0" fill="#000"/>
<rect x="103.0" y="127.0" width="970.0" height="2.0" fill="#000"/>
<rect x="103.0" y="245.0" width="970.0" height="2.0" fill="#000"/>
<rect x="103.0" y="364.0" width="970.0" height="2.0" fill="#000"/>
<rect x="103.0" y="601.0" width="970.0" height="2.0" fill="#000"/>
<rect x="103.0" y="719.0" width="970.0" height="2.0" fill="#000"/>
<rect x="103.0" y="483.0" width="970.0" height="1.0" fill="#000"/>
</g>
<defs><clipPath id="pc"><rect x="105" y="10" width="967" height="710"/></clipPath></defs>
<g clip-path="url(#pc)">
<g>
<polyline points="113.5,128.0 116.5,122.5 118.4,114.0 120.2,104.3 122.6,93.3 125.0,83.6 128.1,75.1 131.1,67.8 134.8,62.3 137.8,59.3 162.1,59.3 166.4,52.6 176.1,52.6 182.8,46.0 195.0,45.6 236.5,45.6 237.5,48.0 238.5,45.6 300.0,45.6 302.0,55.0 303.5,45.6 330.0,45.6 330.6,127.0 346.0,127.0 350.0,123.5 372.0,123.5 373.0,125.0 405.0,125.5 408.0,123.5 415.0,124.5 423.0,125.5 429.0,125.5 432.0,123.8 440.0,124.5 480.0,126.5 600.0,127.0 604.0,121.9 610.9,116.7 617.9,110.6 619.6,99.3 621.3,93.3 629.1,93.3 630.8,82.0 634.3,73.3 638.6,61.2 640.4,59.5 649.0,59.5 653.9,52.5 655.1,45.7 869.9,45.7 870.9,38.5 908.8,38.5 909.5,31.3 949.7,31.3 951.7,41.9 954.6,24.9 997.5,24.9 998.5,21.3 1008.5,21.3 1010.5,18.0 1071.0,18.0" fill="none" stroke="#ff0000" stroke-width="1" shape-rendering="crispEdges"/>
<polyline points="1010.5,18.5 1071.0,18.5" fill="none" stroke="#ff0000" stroke-width="2" shape-rendering="crispEdges"/>
<polyline points="112.9,128.3 117.2,126.1 126.3,115.8 133.0,110.3 139.6,104.3 143.3,98.2 146.3,89.7 149.3,81.2 153.0,72.9 162.1,72.9 164.5,67.8 176.1,67.2 179.1,61.9 330.3,61.9 330.6,127.0 346.0,127.0 353.0,123.3 405.0,124.0 408.0,126.5 455.0,126.5 458.0,124.5 467.0,124.8 483.0,123.3 524.3,123.3 525.0,124.5 553.7,124.5 556.3,127.2 602.3,127.2 605.7,126.2 617.9,110.6 629.1,99.3 633.4,85.5 637.8,74.2 640.4,72.5 649.0,72.5 651.6,67.3 656.0,62.1 869.9,62.1 873.9,56.4 908.8,56.4 914.8,50.8 949.7,50.8 951.7,53.8 963.6,45.5 1071.0,45.5" fill="none" stroke="#0000ff" stroke-width="1" shape-rendering="crispEdges"/>
<polyline points="914.8,51.0 949.7,51.0" fill="none" stroke="#0000ff" stroke-width="2" shape-rendering="crispEdges"/>
<polyline points="179.1,62.0 330.3,62.0" fill="none" stroke="#0000ff" stroke-width="2" shape-rendering="crispEdges"/>
<polyline points="656.0,62.3 869.9,62.3" fill="none" stroke="#0000ff" stroke-width="2" shape-rendering="crispEdges"/>
</g>
<g shape-rendering="crispEdges">
<polyline points="114.3,246.0 114.3,171.8 115.0,171.8 115.8,221.8 115.8,190.0 116.5,205.6 117.2,208.5 118.0,179.0 118.7,165.9 119.4,149.0 120.2,163.0 120.9,158.5 121.6,170.3 122.4,160.0 123.1,170.3 124.6,158.5 125.8,165.9 126.8,185.0 128.3,189.4 129.0,185.0 130.5,204.1 131.9,213.0 133.4,223.2 134.1,238.0 134.9,243.8 136.4,240.9 137.8,236.5 139.3,227.6 140.8,225.1 142.2,223.2 143.7,211.5 145.2,207.1 146.6,204.3 148.1,202.6 149.6,192.4 151.0,189.4 152.5,196.8 153.6,186.0 154.7,174.7 156.2,193.8 157.3,185.4 158.4,178.4 159.5,181.8 160.6,185.0 161.7,184.0 162.8,183.5 164.3,190.9 165.8,182.8 167.2,176.2 168.7,185.0 170.1,181.3 171.6,177.6 173.1,183.5 174.1,179.1 175.1,176.1 176.1,172.5 177.5,186.5 178.5,181.9 179.5,178.0 180.5,174.7 181.9,174.2 183.4,174.0 184.4,174.8 185.4,173.9 186.4,174.7 187.9,171.7 189.3,169.6 190.8,170.9 192.2,171.8 193.2,173.0 194.2,172.9 195.2,173.2 196.3,173.0 197.4,174.0 198.5,172.5 199.6,173.2 200.7,174.9 201.8,175.1 202.9,175.9 204.0,177.6" fill="none" stroke="#006400" stroke-width="1.1" />
<polyline points="204.0,177.6 205.0,175.7 206.0,176.2 207.0,177.9 208.0,175.0 209.0,176.3 210.0,176.2 211.0,174.8 212.0,175.0 213.0,175.4 214.0,173.6 215.0,173.8 216.0,174.6 217.0,176.7 218.0,175.8 219.0,175.6 220.0,176.5 221.0,176.7 222.0,176.1 223.0,175.4 224.0,177.3 225.0,176.8 226.0,174.9 227.0,176.1 228.0,175.8 229.0,177.1 230.0,176.4 231.0,174.6 232.0,177.2 233.0,173.7 234.0,174.8 235.0,175.0 236.0,176.1 237.0,173.8 238.0,175.3 239.0,173.6 240.0,176.2 241.0,176.7 242.0,176.0 243.0,177.3 244.0,175.2 245.0,176.8 246.0,176.5 247.0,176.5 248.0,176.1 249.0,177.8 250.0,176.5 251.0,178.2 252.0,176.2 253.0,176.9 254.0,174.3 255.0,176.8 256.0,176.5 257.0,177.8 258.0,177.0 259.0,174.7 260.0,175.0 261.0,176.1 262.0,173.4 263.0,175.0 264.0,173.8 265.0,175.0 266.0,173.5 267.0,173.3 268.0,176.2 269.0,173.7 270.0,174.2 271.0,174.8 272.0,176.7 273.0,173.6 274.0,175.1 275.0,175.5 276.0,176.9 277.0,176.7 278.0,176.9 279.0,174.6 280.0,175.5 281.0,175.2 282.0,175.0 283.0,177.1 284.0,177.5 285.0,174.3 286.0,174.4 287.0,174.7 288.0,174.7 289.0,175.7 290.0,176.2 291.0,174.9 292.0,173.9 293.0,175.6 294.0,175.4 295.0,176.0 296.0,176.2 297.0,177.6 298.0,176.5 299.0,175.7 300.0,176.0 301.0,176.1 302.0,173.5 303.0,176.8 304.0,176.2 305.0,175.0 306.0,176.6 307.0,176.3 308.0,174.8 309.0,174.9 310.0,173.7 311.0,175.9 312.0,173.7 313.0,173.8 314.0,174.4 315.0,174.3 316.0,175.1 317.0,174.0 318.0,173.9 319.0,174.5 320.0,176.0 321.0,174.3 322.1,175.3 323.1,173.8 324.1,177.1 325.1,176.0 326.2,174.0 327.2,174.3 328.2,174.6 329.3,174.6 330.3,175.0" fill="none" stroke="#006400" stroke-width="1.1" />
<polyline points="117.2,246.8 118.3,245.3 119.4,245.5 120.5,244.8 121.6,243.0 122.7,242.1 123.8,240.6 124.9,239.7 126.0,239.4 127.1,239.5 128.2,239.8 129.4,241.1 130.5,240.9 131.9,242.6 133.4,245.3 134.5,245.3 135.6,246.8 136.8,246.5 138.1,244.8 139.3,243.8 140.4,241.0 141.5,239.5 142.6,236.4 143.7,235.0 144.8,232.1 145.9,229.9 147.0,226.7 148.1,223.2 149.6,217.7 151.0,211.5 152.2,207.2 153.5,203.4 154.7,199.7 156.2,211.5 157.3,205.8 158.4,201.2 159.5,204.6 160.6,207.1 161.8,206.2 163.1,205.5 164.3,204.1 165.8,197.2 167.2,190.9 168.3,194.1 169.4,198.2 170.5,194.3 171.6,189.4 172.7,189.5 173.8,188.5 175.0,187.7 176.1,186.5 177.5,193.8 178.5,189.9 179.5,185.4 180.5,180.6 181.9,178.4 183.0,177.8 184.2,178.0 185.3,177.6 186.4,177.6 187.6,175.6 188.8,174.4 190.0,174.0 191.0,174.1 192.1,174.5 193.1,175.6 194.2,176.5 195.2,176.2 196.4,176.7 197.6,178.1 198.7,178.7 199.9,179.2 201.1,179.1 202.6,179.6 204.0,180.6" fill="none" stroke="#eea800" stroke-width="1.1" />
<polyline points="204.0,180.6 205.0,179.5 206.0,179.3 207.0,179.0 208.0,178.8 209.0,180.1 210.0,180.8 211.0,180.4 212.0,179.0 213.0,179.4 214.0,179.7 215.0,178.5 216.0,177.2 217.0,179.2 218.0,180.1 219.0,179.7 220.0,179.7 221.0,178.8 222.0,177.9 223.0,180.0 224.0,178.5 225.0,180.2 226.0,180.8 227.0,178.9 228.0,179.0 229.0,181.0 230.0,179.5 231.0,180.2 232.0,178.2 233.0,178.0 234.0,178.0 235.0,180.5 236.0,180.1 237.0,177.8 238.0,180.1 239.0,180.5 240.0,179.4 241.0,178.3 242.0,178.9 243.0,177.4 244.0,176.9 245.0,178.5 246.0,180.2 247.0,179.1 248.0,178.8 249.0,180.2 250.0,178.6 251.0,180.2 252.0,180.1 253.0,178.1 254.0,178.3 255.0,178.5 256.0,178.4 257.0,179.6 258.0,178.5 259.0,179.2 260.0,179.5 261.0,178.2 262.0,180.8 263.0,178.9 264.0,179.3 265.0,179.7 266.0,180.7 267.0,179.1 268.0,180.7 269.0,179.3 270.0,179.4 271.0,179.3 272.0,177.6 273.0,179.0 274.0,178.1 275.0,177.4 276.0,180.1 277.0,178.0 278.0,179.0 279.0,179.8 280.0,179.0 281.0,179.2 282.1,178.4 283.1,179.1 284.1,179.2 285.1,180.0 286.2,177.7 287.2,179.2 288.2,178.1 289.2,178.2 290.3,179.9 291.3,179.0 292.3,179.2 293.3,179.9 294.4,180.4 295.4,178.8 296.4,179.4 297.4,179.0 298.5,179.0 299.5,179.0 300.5,187.0 301.5,189.5 302.5,180.0 303.5,180.6 304.6,179.8 305.6,180.0 306.7,179.8 307.7,181.3 308.8,180.4 309.8,181.0 310.8,181.2 311.9,178.8 312.9,179.8 314.0,181.0 315.0,179.5 316.0,180.7 317.0,178.3 318.1,178.2 319.1,179.3 320.1,178.0 321.1,178.6 322.1,178.0 323.2,180.1 324.2,180.5 325.2,180.8 326.2,178.3 327.2,180.2 328.3,180.0 329.3,178.3 330.3,179.5" fill="none" stroke="#eea800" stroke-width="1.1" />
<polyline points="330.5,179.5 330.5,246.0" fill="none" stroke="#eea800" stroke-width="1.1" />
<polyline points="553.5,246.0 553.5,128.0 555.5,128.0 555.5,246.0" fill="none" stroke="#006400" stroke-width="1.1" shape-rendering="crispEdges"/>
<polyline points="556.5,246.0 556.5,154.0" fill="none" stroke="#006400" stroke-width="1.1" shape-rendering="crispEdges"/>
<polyline points="612.1,246.0 614.4,161.9" fill="none" stroke="#006400" stroke-width="1.1" />
<polyline points="614.4,161.9 616.0,166.0 617.0,166.0 618.0,163.0 619.0,167.4 620.0,168.0 621.0,164.9 622.0,164.0 623.0,167.1 624.0,166.3 625.0,168.0 626.0,168.3 627.0,170.8 628.0,170.5 629.0,168.2 630.0,170.0 631.0,170.2 632.0,171.1 633.0,170.9 634.0,172.0 635.3,172.2 636.5,174.1 637.8,176.3 638.8,176.7 639.9,173.4 640.9,175.1 641.9,174.2 642.9,172.0 644.0,172.8 645.0,173.0 646.0,173.6 647.0,173.2 648.0,171.5 649.0,175.2 650.0,174.5 651.0,175.3 652.0,171.9 653.0,172.6 654.0,171.8 655.0,174.8 656.0,172.8 657.0,172.3 658.0,173.6 659.0,175.6 660.0,174.0 661.0,175.3 662.0,173.1 663.0,172.8 664.0,175.9 665.0,174.6 666.0,175.1 667.0,172.8 668.0,172.7 669.0,175.3 670.0,174.3 671.0,172.9 672.0,176.4 673.0,175.3 674.0,176.0 675.0,173.2 676.0,176.3 677.0,173.2 678.0,176.5 679.0,174.9 680.0,174.5 681.0,175.4 682.0,177.0 683.0,174.4 684.0,173.9 685.0,175.5 686.0,174.4 687.0,174.0 688.0,174.2 689.0,173.8 690.0,175.7 691.0,174.2 692.1,174.4 693.1,174.1 694.2,175.7 695.2,173.6 696.2,174.1 697.3,172.6 698.3,173.0 699.3,171.4 700.4,172.1 701.4,170.9 702.5,173.5 703.5,172.3 704.5,172.7 705.6,171.5 706.6,172.9 707.6,174.9 708.7,171.8 709.7,174.9 710.7,173.6 711.7,174.1 712.8,175.6 713.8,174.1 714.8,174.8 715.9,175.7 716.9,177.1 717.9,174.8 719.0,177.0 720.0,176.7 721.0,176.6 722.0,175.9 723.1,175.9 724.1,175.0 725.1,175.5 726.2,175.5 727.2,177.4 728.2,178.1 729.3,175.9 730.3,175.3 731.4,174.8 732.4,177.6 733.5,177.4 734.5,176.4 735.5,174.6 736.6,174.2 737.6,174.1 738.7,174.6 739.7,173.1 740.8,174.0 741.8,173.1 742.8,175.6 743.9,175.4 744.9,173.5 746.0,172.0 747.0,174.6 748.1,171.8 749.1,172.3 750.1,171.8 751.1,170.5 752.1,172.2 753.2,172.6 754.2,172.9 755.2,171.8 756.2,173.1 757.2,171.2 758.2,172.3 759.3,171.7 760.3,173.1 761.3,171.8 762.3,171.8 763.3,173.0 764.3,172.9 765.4,174.4 766.4,174.3 767.4,175.2 768.4,175.0 769.4,175.3 770.4,176.1 771.5,174.2 772.5,174.1 773.5,176.8 774.5,175.0 775.5,173.6 776.5,175.8 777.5,175.5 778.6,173.0 779.6,176.2 780.6,176.4 781.6,175.3 782.6,175.7 783.6,175.9 784.6,173.2 785.6,174.7 786.7,174.6 787.7,175.9 788.7,175.8 789.7,175.8 790.7,174.8 791.7,176.0 792.7,175.1 793.8,175.1 794.8,173.3 795.8,172.4 796.8,172.8 797.8,173.7 798.8,172.6 799.8,175.5 800.8,174.4 801.9,174.6 802.9,174.6 803.9,174.8 804.9,174.0 805.9,174.1 806.9,172.4 807.9,175.7 808.9,175.7 810.0,174.9 811.0,175.2 812.0,175.8 813.0,173.6 814.0,176.5 815.0,175.7 816.0,173.9 817.0,172.3 818.1,172.2 819.1,173.2 820.1,170.3 821.1,171.6 822.1,171.7 823.2,168.9 824.2,167.6 825.2,167.2 826.2,166.9 827.2,167.4 828.2,167.5 829.3,166.7 830.3,166.5 831.3,164.0 832.3,164.0 833.3,164.2 834.3,165.9 835.4,163.9 836.4,164.7 837.4,162.2 838.4,162.2 839.4,162.8 840.4,164.1 841.4,164.0 842.5,163.7 843.5,161.9 844.5,162.5 845.5,162.2 846.5,161.9 847.5,161.7 848.5,160.2 849.5,163.1 850.5,160.1 851.6,163.1 852.6,162.8 853.6,158.9 854.6,160.5 855.6,160.5 856.6,161.8 857.7,162.4 858.7,160.3 859.8,159.6 860.8,159.3 861.8,162.3 862.9,159.3 863.9,160.8 864.9,159.1 866.0,160.6 867.0,162.3 868.1,159.0 869.1,160.5 870.1,162.7 871.1,162.3 872.2,164.7 873.2,164.8 874.2,164.9 875.2,163.8 876.3,166.5 877.3,164.8 878.3,163.0 879.4,162.9 880.4,164.9 881.4,164.7 882.5,164.1 883.5,163.5 884.5,164.3 885.6,164.2 886.6,166.3 887.6,162.9 888.7,165.9 889.7,166.3 890.7,163.4 891.8,166.6 892.8,164.9 893.8,165.7 894.9,166.4 895.9,163.8 897.0,164.1 898.0,164.1 899.0,166.4 900.1,164.7 901.1,163.7 902.1,163.9 903.2,163.2 904.2,162.2 905.3,162.4 906.3,163.9 907.3,165.7 908.3,164.0 909.3,167.1 910.3,164.9 911.3,165.5 912.4,166.9 913.4,166.2 914.4,167.4 915.4,170.2 916.4,168.9 917.4,170.4 918.4,170.1 919.4,169.4 920.5,170.5 921.5,170.6 922.5,169.0 923.5,169.6 924.5,166.9 925.5,169.6 926.5,168.5 927.5,169.7 928.6,169.2 929.6,167.8 930.6,166.8 931.6,170.3 932.6,167.1 933.6,168.4 934.6,167.9 935.7,167.7 936.7,169.5 937.7,170.4 938.7,167.5 939.7,169.1 940.7,167.6 941.7,168.6 942.7,168.0 943.8,167.0 944.8,167.0 945.8,167.2 946.8,168.3 947.9,169.0 949.1,166.5 950.2,165.6 951.3,167.6 952.5,173.5 953.6,175.0 954.6,177.0 955.7,174.9 956.7,173.6 957.7,173.9 958.8,173.5 959.8,174.6 960.8,173.6 961.8,174.2 962.9,174.3 963.9,175.6 964.9,176.9 966.0,176.4 967.0,175.0 968.0,175.1 969.1,175.6 970.1,175.0 971.1,174.9 972.1,173.8 973.2,174.7 974.2,177.5 975.2,174.1 976.3,175.7 977.3,175.7 978.3,176.3 979.3,177.3 980.4,174.8 981.4,175.1 982.4,175.1 983.4,175.8 984.4,176.1 985.5,178.2 986.5,177.8 987.5,178.0 988.5,174.7 989.6,174.8 990.6,177.6 991.6,178.4 992.6,176.8 993.6,177.4 994.7,175.1 995.7,176.7 996.7,179.0 997.7,178.6 998.7,178.8 999.8,179.4 1000.8,176.6 1001.8,176.1 1002.8,176.4 1003.9,177.9 1004.9,178.6 1005.9,179.8 1006.9,179.0 1007.9,178.7 1009.0,179.3 1010.0,178.1 1011.0,178.4 1012.0,178.6 1013.0,176.6 1014.0,179.6 1015.0,177.5 1016.0,180.3 1017.0,179.2 1018.0,177.9 1019.0,177.2 1020.0,177.7 1021.0,179.3 1022.0,179.6 1023.0,177.3 1024.0,177.1 1025.0,179.0 1026.0,179.3 1027.0,178.5 1028.0,179.0 1029.0,178.0 1030.0,179.6 1031.0,177.4 1032.1,178.7 1033.1,179.4 1034.1,181.5 1035.1,180.4 1036.1,181.5 1037.1,180.0 1038.1,179.1 1039.1,179.3 1040.2,182.2 1041.2,181.3 1042.2,179.9 1043.2,178.8 1044.2,180.9 1045.2,181.7 1046.2,180.8 1047.3,180.2 1048.3,182.0 1049.3,183.2 1050.3,180.5 1051.3,179.8 1052.3,181.2 1053.3,181.6 1054.3,182.8 1055.4,180.9 1056.4,183.5 1057.4,183.3 1058.4,182.5 1059.5,181.6 1060.6,179.5 1061.7,179.7 1062.7,181.5 1063.8,178.8 1064.8,180.7 1065.8,178.3 1066.9,178.2 1067.9,180.3 1068.9,178.3 1070.0,180.9 1071.0,179.0" fill="none" stroke="#006400" stroke-width="1.1" />
<polyline points="613.7,246.0 614.7,245.0 615.8,243.0 616.8,242.2 617.8,241.9 618.8,241.8 619.9,241.9 620.9,238.2 621.9,238.1 622.9,236.5 624.0,238.2 625.0,235.6 626.0,233.4 627.0,232.1 628.0,231.1 629.0,231.2 630.0,232.0 631.0,230.9 632.0,229.4 633.0,227.6 634.1,224.5 635.1,219.4 636.2,212.6 637.3,207.3 638.3,205.0 639.4,198.7 640.4,199.4 641.4,196.8 642.5,198.8 643.5,197.7 644.5,197.5 645.5,197.3 646.5,196.6 647.5,195.8 648.6,196.6 649.6,196.7 650.6,197.1 651.7,195.7 652.7,190.0 653.8,189.9 654.9,184.4 655.9,181.9 657.0,179.5 658.1,180.2 659.1,179.9 660.2,178.2 661.3,176.5 662.3,177.6 663.4,176.9 664.5,178.4 665.5,175.6 666.6,176.3 667.6,175.9 668.6,177.8 669.6,175.0 670.6,176.4 671.7,177.8 672.7,177.8 673.7,175.4 674.7,175.5 675.7,175.7 676.7,178.7 677.7,176.5 678.7,178.3 679.8,178.9 680.8,177.1 681.8,177.0 682.8,179.4 683.8,178.3 684.8,177.2 685.8,178.9 686.8,177.6 687.9,177.6 688.9,176.7 689.9,179.4 690.9,180.0 691.9,179.2 692.9,180.3 693.9,177.3 694.9,178.1 696.0,179.0 697.0,180.8 698.0,180.8 699.0,179.0 700.0,179.5 701.2,177.4 702.3,176.7 703.5,175.7 704.5,175.8 705.6,177.4 706.6,175.1 707.6,177.3 708.7,177.2 709.7,177.7 710.7,177.6 711.7,177.2 712.8,176.4 713.8,176.5 714.8,176.8 715.9,178.4 716.9,176.1 717.9,176.7 719.0,178.7 720.0,177.1 721.0,176.7 722.0,176.7 723.1,178.6 724.1,178.0 725.1,180.3 726.2,180.2 727.2,179.0 728.2,180.5 729.3,177.9 730.3,177.1 731.4,177.0 732.4,178.2 733.5,178.8 734.5,177.7 735.5,176.8 736.6,177.3 737.6,177.8 738.7,177.9 739.7,178.0 740.8,178.1 741.8,177.4 742.8,175.4 743.9,177.6 744.9,175.6 746.0,176.4 747.0,175.6 748.1,176.7 749.1,175.7 750.1,174.7 751.1,175.0 752.1,175.0 753.2,174.8 754.2,177.3 755.2,176.4 756.2,175.6 757.2,175.9 758.2,178.0 759.3,176.4 760.3,175.5 761.3,177.6 762.3,177.1 763.3,178.3 764.3,175.4 765.4,176.7 766.4,177.9 767.4,178.1 768.4,178.4 769.4,175.5 770.4,176.4 771.5,175.9 772.5,176.2 773.5,178.9 774.5,177.4 775.5,177.7 776.5,178.9 777.5,177.0 778.6,178.6 779.6,177.2 780.6,176.6 781.6,178.3 782.6,178.9 783.6,176.1 784.6,177.7 785.6,177.8 786.7,176.4 787.7,177.0 788.7,176.2 789.7,176.4 790.7,176.6 791.7,177.7 792.7,177.9 793.8,176.4 794.8,175.7 795.8,176.8 796.8,178.0 797.8,176.3 798.8,176.8 799.8,176.4 800.8,178.4 801.9,177.6 802.9,175.9 803.9,176.0 804.9,177.4 805.9,177.2 806.9,177.9 807.9,178.4 808.9,176.6 810.0,177.1 811.0,179.0 812.0,178.2 813.0,177.9 814.0,178.2 815.0,179.0 816.0,179.7 817.0,176.7 818.1,176.7 819.1,175.2 820.1,174.5 821.1,175.2 822.1,174.8 823.2,171.8 824.2,170.4 825.2,170.6 826.2,171.2 827.2,169.3 828.2,168.4 829.3,171.3 830.3,169.5 831.3,170.7 832.3,169.1 833.3,170.5 834.3,168.9 835.4,167.8 836.4,167.1 837.4,168.7 838.4,168.9 839.4,169.6 840.4,166.7 841.4,168.3 842.5,167.3 843.5,167.6 844.5,166.2 845.5,167.2 846.5,166.3 847.5,167.0 848.5,168.2 849.5,165.2 850.5,166.4 851.6,167.3 852.6,167.7 853.6,164.9 854.6,164.5 855.6,165.6 856.6,167.0 857.7,167.0 858.7,165.1 859.8,163.6 860.8,166.4 861.8,164.4 862.9,166.1 863.9,165.0 864.9,165.5 866.0,163.1 867.0,165.1 868.1,163.1 869.1,163.9 870.2,161.3 871.4,160.5 872.5,157.1 873.6,157.9 874.8,155.5 875.9,155.3 877.0,155.6 878.2,155.7 879.3,155.4 880.3,155.0 881.4,154.1 882.4,154.5 883.4,156.2 884.4,156.8 885.5,153.8 886.5,155.6 887.5,156.3 888.5,153.8 889.6,156.5 890.6,154.1 891.6,155.7 892.6,155.6 893.7,155.8 894.7,154.7 895.7,155.1 896.7,155.7 897.8,155.1 898.8,155.9 899.8,155.2 900.8,155.2 901.9,153.8 902.9,155.4 904.0,155.2 905.2,154.2 906.3,152.8 907.4,154.0 908.6,153.5 909.7,152.0 910.8,150.7 911.9,148.7 913.0,148.6 914.2,146.2 915.3,145.2 916.4,145.3 917.4,145.1 918.4,143.9 919.4,145.1 920.5,145.3 921.5,143.7 922.5,145.8 923.5,143.9 924.5,146.1 925.5,146.2 926.5,145.3 927.5,143.8 928.6,145.3 929.6,144.9 930.6,146.8 931.6,144.1 932.6,146.5 933.6,147.0 934.6,146.1 935.7,146.4 936.7,144.3 937.7,146.9 938.7,145.3 939.7,146.9 940.7,146.7 941.7,144.2 942.7,146.3 943.8,146.8 944.8,143.8 945.8,144.8 946.8,145.3 947.9,149.1 949.0,150.0 950.1,155.5 951.2,157.1 952.2,154.6 953.2,154.8 954.3,150.8 955.3,150.3 956.3,149.0 957.4,149.2 958.5,145.5 959.5,144.4 960.5,144.0 961.6,142.1 962.7,139.9 963.7,140.2 964.7,139.1 965.7,139.0 966.8,141.6 967.8,140.7 968.8,141.4 969.8,138.9 970.8,140.9 971.8,138.6 972.9,140.0 973.9,140.3 974.9,139.4 975.9,141.1 976.9,140.0 977.9,140.0 979.0,141.0 980.0,138.3 981.0,141.3 982.0,140.0 983.0,139.2 984.0,140.5 985.1,138.7 986.1,141.1 987.1,139.7 988.1,138.9 989.1,140.3 990.1,139.1 991.2,138.2 992.2,140.1 993.2,137.7 994.2,139.2 995.2,140.2 996.3,138.2 997.4,139.4 998.4,140.5 999.5,139.1 1000.5,139.2 1001.6,138.0 1002.6,136.8 1003.6,136.8 1004.7,137.1 1005.8,138.6 1006.8,137.9 1007.9,138.1 1008.9,139.3 1010.0,136.6 1011.0,137.8 1012.0,137.0 1013.1,138.5 1014.1,136.5 1015.1,136.5 1016.2,137.8 1017.2,137.1 1018.2,138.0 1019.2,137.7 1020.3,139.0 1021.3,139.1 1022.3,137.9 1023.4,139.5 1024.4,139.1 1025.4,138.0 1026.5,140.8 1027.5,138.6 1028.5,138.4 1029.5,138.3 1030.6,140.3 1031.6,141.1 1032.6,141.0 1033.7,139.8 1034.7,140.2 1035.7,139.7 1036.8,139.1 1037.8,141.5 1038.9,141.5 1039.9,141.0 1040.9,142.3 1042.0,141.8 1043.0,143.8 1044.0,143.3 1045.1,142.0 1046.1,144.4 1047.2,141.8 1048.2,143.6 1049.3,144.0 1050.3,143.9 1051.4,143.6 1052.5,143.3 1053.5,146.0 1054.6,143.7 1055.6,145.9 1056.7,146.0 1057.7,146.5 1058.7,142.9 1059.7,142.1 1060.7,142.5 1061.7,141.2 1062.7,141.1 1063.8,141.5 1064.8,141.9 1065.8,139.6 1066.9,140.0 1067.9,139.9 1068.9,138.9 1070.0,141.6 1071.0,140.2" fill="none" stroke="#eea800" stroke-width="1.1" />
<polyline points="331.0,245.5 613.7,245.5" fill="none" stroke="#eea800" stroke-width="1.2" shape-rendering="crispEdges"/>
</g>
<g shape-rendering="crispEdges">
<rect x="109.8" y="252.9" width="3.0" height="3.0" fill="#000080"/>
<rect x="110.8" y="263.3" width="3.0" height="3.0" fill="#000080"/>
<rect x="111.9" y="270.5" width="3.0" height="3.0" fill="#000080"/>
<rect x="112.9" y="274.7" width="3.0" height="3.0" fill="#000080"/>
<rect x="115.0" y="286.1" width="3.0" height="3.0" fill="#000080"/>
<rect x="114.0" y="287.0" width="3.0" height="3.0" fill="#000080"/>
<rect x="116.5" y="287.5" width="3.0" height="3.0" fill="#000080"/>
<rect x="118.5" y="286.5" width="3.0" height="3.0" fill="#000080"/>
<rect x="128.5" y="276.8" width="3.0" height="3.0" fill="#000080"/>
<rect x="126.5" y="278.5" width="3.0" height="3.0" fill="#000080"/>
<rect x="123.5" y="280.5" width="3.0" height="3.0" fill="#000080"/>
<rect x="117.0" y="287.0" width="8.0" height="3.0" fill="#000080"/>
<rect x="124.7" y="285.0" width="3.3" height="3.0" fill="#000080"/>
<rect x="127.7" y="285.0" width="2.6" height="3.0" fill="#000080"/>
<rect x="130.0" y="280.0" width="3.8" height="4.3" fill="#000080"/>
<rect x="132.1" y="278.5" width="3.2" height="2.1" fill="#000080"/>
<rect x="133.5" y="281.0" width="4.0" height="4.3" fill="#000080"/>
<rect x="134.7" y="285.8" width="4.7" height="1.2" fill="#000080"/>
<rect x="137.2" y="282.0" width="8.0" height="4.3" fill="#000080"/>
<rect x="141.5" y="285.8" width="6.6" height="1.2" fill="#000080"/>
<rect x="145.0" y="282.0" width="3.8" height="4.3" fill="#000080"/>
<rect x="145.5" y="280.5" width="3.1" height="2.1" fill="#000080"/>
<rect x="148.5" y="281.0" width="9.0" height="4.3" fill="#000080"/>
<rect x="150.5" y="279.5" width="4.0" height="2.1" fill="#000080"/>
<rect x="157.1" y="282.0" width="8.4" height="4.3" fill="#000080"/>
<rect x="165.2" y="281.0" width="7.5" height="4.3" fill="#000080"/>
<rect x="172.4" y="281.0" width="6.7" height="4.3" fill="#000080"/>
<rect x="178.9" y="282.0" width="6.8" height="4.3" fill="#000080"/>
<rect x="179.0" y="285.8" width="3.4" height="1.2" fill="#000080"/>
<rect x="185.4" y="281.0" width="8.9" height="4.3" fill="#000080"/>
<rect x="193.9" y="281.0" width="1.4" height="4.3" fill="#000080"/>
<rect x="195.0" y="283.6" width="7.5" height="3.0" fill="#000080"/>
<rect x="197.5" y="282.4" width="3.4" height="1.8" fill="#000080"/>
<rect x="202.2" y="283.6" width="8.2" height="3.0" fill="#000080"/>
<rect x="210.1" y="282.6" width="7.6" height="3.0" fill="#000080"/>
<rect x="211.0" y="281.4" width="2.8" height="1.8" fill="#000080"/>
<rect x="213.8" y="286.6" width="6.2" height="1.4" fill="#000080"/>
<rect x="217.4" y="283.6" width="7.1" height="3.0" fill="#000080"/>
<rect x="220.6" y="286.6" width="5.6" height="1.4" fill="#000080"/>
<rect x="224.2" y="283.6" width="5.1" height="3.0" fill="#000080"/>
<rect x="224.9" y="286.6" width="4.1" height="1.4" fill="#000080"/>
<rect x="228.9" y="283.6" width="7.6" height="3.0" fill="#000080"/>
<rect x="236.2" y="282.6" width="6.9" height="3.0" fill="#000080"/>
<rect x="242.8" y="282.6" width="3.5" height="3.0" fill="#000080"/>
<rect x="243.8" y="281.4" width="2.7" height="1.8" fill="#000080"/>
<rect x="246.0" y="284.6" width="3.6" height="3.0" fill="#000080"/>
<rect x="247.7" y="283.4" width="2.7" height="1.8" fill="#000080"/>
<rect x="249.3" y="283.6" width="4.3" height="3.0" fill="#000080"/>
<rect x="251.1" y="286.6" width="3.2" height="1.4" fill="#000080"/>
<rect x="253.3" y="283.6" width="5.4" height="3.0" fill="#000080"/>
<rect x="258.4" y="282.6" width="4.4" height="3.0" fill="#000080"/>
<rect x="262.5" y="284.6" width="6.4" height="3.0" fill="#000080"/>
<rect x="263.3" y="286.6" width="5.8" height="1.4" fill="#000080"/>
<rect x="268.6" y="283.6" width="6.3" height="3.0" fill="#000080"/>
<rect x="274.6" y="284.6" width="6.2" height="3.0" fill="#000080"/>
<rect x="280.6" y="282.6" width="5.4" height="3.0" fill="#000080"/>
<rect x="285.7" y="282.6" width="7.8" height="3.0" fill="#000080"/>
<rect x="286.6" y="286.6" width="4.1" height="1.4" fill="#000080"/>
<rect x="293.2" y="284.6" width="8.7" height="3.0" fill="#000080"/>
<rect x="298.1" y="283.4" width="4.1" height="1.8" fill="#000080"/>
<rect x="301.6" y="284.6" width="4.1" height="3.0" fill="#000080"/>
<rect x="305.3" y="283.6" width="7.2" height="3.0" fill="#000080"/>
<rect x="312.2" y="282.6" width="8.5" height="3.0" fill="#000080"/>
<rect x="320.4" y="282.6" width="4.3" height="3.0" fill="#000080"/>
<rect x="321.0" y="286.6" width="4.3" height="1.4" fill="#000080"/>
<rect x="324.4" y="283.6" width="6.9" height="3.0" fill="#000080"/>
<rect x="327.4" y="286.6" width="6.3" height="1.4" fill="#000080"/>
<rect x="342.9" y="263.4" width="3.0" height="3.0" fill="#000080"/>
<rect x="345.0" y="263.4" width="3.0" height="3.0" fill="#000080"/>
<rect x="346.1" y="269.1" width="3.0" height="3.0" fill="#000080"/>
<rect x="346.1" y="272.5" width="3.0" height="3.0" fill="#000080"/>
<rect x="346.1" y="275.5" width="3.0" height="3.0" fill="#000080"/>
<rect x="346.5" y="278.8" width="3.0" height="3.0" fill="#000080"/>
<rect x="347.7" y="285.2" width="3.0" height="3.0" fill="#000080"/>
<rect x="349.5" y="283.5" width="3.0" height="3.0" fill="#000080"/>
<rect x="350.7" y="283.7" width="3.0" height="3.0" fill="#000080"/>
<rect x="357.4" y="283.7" width="3.0" height="3.0" fill="#000080"/>
<rect x="362.7" y="283.3" width="3.0" height="3.0" fill="#000080"/>
<rect x="368.0" y="284.0" width="3.0" height="3.0" fill="#000080"/>
<rect x="374.0" y="284.0" width="3.0" height="3.0" fill="#000080"/>
<rect x="381.5" y="283.2" width="3.0" height="3.0" fill="#000080"/>
<rect x="386.8" y="283.2" width="3.0" height="3.0" fill="#000080"/>
<rect x="391.8" y="283.1" width="3.0" height="3.0" fill="#000080"/>
<rect x="398.1" y="283.3" width="3.0" height="3.0" fill="#000080"/>
<rect x="427.9" y="274.0" width="3.0" height="3.0" fill="#000080"/>
<rect x="429.0" y="286.0" width="4.9" height="4.0" fill="#000080"/>
<rect x="429.6" y="290.0" width="4.6" height="1.5" fill="#000080"/>
<rect x="433.6" y="285.0" width="3.5" height="4.0" fill="#000080"/>
<rect x="436.8" y="286.0" width="4.6" height="4.0" fill="#000080"/>
<rect x="438.4" y="290.0" width="4.6" height="1.5" fill="#000080"/>
<rect x="441.2" y="285.0" width="7.7" height="4.0" fill="#000080"/>
<rect x="448.6" y="286.0" width="7.2" height="4.0" fill="#000080"/>
<rect x="455.5" y="287.0" width="5.8" height="4.0" fill="#000080"/>
<rect x="461.0" y="280.5" width="7.1" height="2.5" fill="#000080"/>
<rect x="467.8" y="281.5" width="4.9" height="2.5" fill="#000080"/>
<rect x="472.4" y="280.5" width="4.8" height="2.5" fill="#000080"/>
<rect x="476.9" y="281.5" width="7.1" height="2.5" fill="#000080"/>
<rect x="483.6" y="281.5" width="6.2" height="2.5" fill="#000080"/>
<rect x="489.5" y="281.5" width="3.8" height="2.5" fill="#000080"/>
<rect x="493.0" y="285.5" width="5.3" height="2.5" fill="#000080"/>
<rect x="498.0" y="284.5" width="0.3" height="2.5" fill="#000080"/>
<rect x="498.0" y="272.2" width="8.7" height="2.6" fill="#000080"/>
<rect x="506.4" y="272.2" width="3.9" height="2.6" fill="#000080"/>
<rect x="510.1" y="272.2" width="4.8" height="2.6" fill="#000080"/>
<rect x="514.6" y="272.2" width="4.6" height="2.6" fill="#000080"/>
<rect x="518.9" y="272.2" width="7.6" height="2.6" fill="#000080"/>
<rect x="526.2" y="272.2" width="9.0" height="2.6" fill="#000080"/>
<rect x="534.9" y="272.2" width="4.5" height="2.6" fill="#000080"/>
<rect x="539.1" y="272.2" width="5.4" height="2.6" fill="#000080"/>
<rect x="544.2" y="272.2" width="8.4" height="2.6" fill="#000080"/>
<rect x="552.3" y="272.2" width="6.0" height="2.6" fill="#000080"/>
<rect x="558.0" y="272.2" width="1.8" height="2.6" fill="#000080"/>
<rect x="559.0" y="282.2" width="6.2" height="2.6" fill="#000080"/>
<rect x="564.9" y="282.2" width="3.4" height="2.6" fill="#000080"/>
<rect x="568.0" y="282.2" width="8.1" height="2.6" fill="#000080"/>
<rect x="575.7" y="282.2" width="5.5" height="2.6" fill="#000080"/>
<rect x="580.9" y="282.2" width="5.4" height="2.6" fill="#000080"/>
<rect x="586.0" y="282.2" width="7.8" height="2.6" fill="#000080"/>
<rect x="593.4" y="282.2" width="6.0" height="2.6" fill="#000080"/>
<rect x="599.2" y="282.2" width="7.1" height="2.6" fill="#000080"/>
<rect x="606.0" y="285.2" width="4.4" height="3.8" fill="#000080"/>
<rect x="608.4" y="288.0" width="4.4" height="1.0" fill="#000080"/>
<rect x="610.1" y="284.2" width="3.6" height="3.8" fill="#000080"/>
<rect x="610.3" y="288.0" width="6.7" height="1.0" fill="#000080"/>
<rect x="613.4" y="284.2" width="7.1" height="3.8" fill="#000080"/>
<rect x="614.7" y="288.0" width="4.6" height="1.0" fill="#000080"/>
<rect x="620.2" y="284.2" width="9.0" height="3.8" fill="#000080"/>
<rect x="628.9" y="284.2" width="6.1" height="3.8" fill="#000080"/>
<rect x="631.6" y="283.0" width="4.5" height="1.8" fill="#000080"/>
<rect x="634.7" y="285.2" width="6.1" height="3.8" fill="#000080"/>
<rect x="640.5" y="283.2" width="4.2" height="3.8" fill="#000080"/>
<rect x="644.4" y="284.2" width="6.6" height="3.8" fill="#000080"/>
<rect x="650.7" y="284.2" width="8.0" height="3.8" fill="#000080"/>
<rect x="652.4" y="283.0" width="3.1" height="1.8" fill="#000080"/>
<rect x="658.4" y="284.2" width="4.4" height="3.8" fill="#000080"/>
<rect x="662.5" y="284.2" width="5.4" height="3.8" fill="#000080"/>
<rect x="664.0" y="283.0" width="4.1" height="1.8" fill="#000080"/>
<rect x="665.3" y="288.0" width="3.6" height="1.0" fill="#000080"/>
<rect x="667.7" y="283.2" width="5.1" height="3.8" fill="#000080"/>
<rect x="670.0" y="282.0" width="4.8" height="1.8" fill="#000080"/>
<rect x="672.5" y="284.2" width="4.1" height="3.8" fill="#000080"/>
<rect x="672.5" y="288.0" width="6.8" height="1.0" fill="#000080"/>
<rect x="676.3" y="284.2" width="7.2" height="3.8" fill="#000080"/>
<rect x="683.3" y="284.2" width="8.4" height="3.8" fill="#000080"/>
<rect x="691.4" y="283.2" width="4.2" height="3.8" fill="#000080"/>
<rect x="695.3" y="285.2" width="8.6" height="3.8" fill="#000080"/>
<rect x="699.8" y="288.0" width="5.2" height="1.0" fill="#000080"/>
<rect x="703.6" y="284.2" width="7.1" height="3.8" fill="#000080"/>
<rect x="706.5" y="283.0" width="3.8" height="1.8" fill="#000080"/>
<rect x="710.5" y="284.2" width="5.9" height="3.8" fill="#000080"/>
<rect x="716.1" y="284.2" width="4.7" height="3.8" fill="#000080"/>
<rect x="720.5" y="284.2" width="6.2" height="3.8" fill="#000080"/>
<rect x="726.4" y="285.2" width="4.3" height="3.8" fill="#000080"/>
<rect x="728.4" y="288.0" width="4.9" height="1.0" fill="#000080"/>
<rect x="730.4" y="284.2" width="6.7" height="3.8" fill="#000080"/>
<rect x="736.8" y="284.2" width="5.8" height="3.8" fill="#000080"/>
<rect x="738.0" y="283.0" width="4.1" height="1.8" fill="#000080"/>
<rect x="736.9" y="288.0" width="5.9" height="1.0" fill="#000080"/>
<rect x="742.3" y="284.2" width="9.3" height="3.8" fill="#000080"/>
<rect x="751.3" y="284.2" width="8.7" height="3.8" fill="#000080"/>
<rect x="753.4" y="283.0" width="2.8" height="1.8" fill="#000080"/>
<rect x="754.6" y="288.0" width="4.4" height="1.0" fill="#000080"/>
<rect x="759.7" y="285.2" width="8.0" height="3.8" fill="#000080"/>
<rect x="767.3" y="283.2" width="5.9" height="3.8" fill="#000080"/>
<rect x="767.5" y="282.0" width="3.2" height="1.8" fill="#000080"/>
<rect x="772.9" y="284.2" width="6.3" height="3.8" fill="#000080"/>
<rect x="778.9" y="284.2" width="6.3" height="3.8" fill="#000080"/>
<rect x="784.9" y="284.2" width="5.3" height="3.8" fill="#000080"/>
<rect x="787.9" y="288.0" width="3.4" height="1.0" fill="#000080"/>
<rect x="789.9" y="283.2" width="9.3" height="3.8" fill="#000080"/>
<rect x="798.9" y="284.2" width="6.6" height="3.8" fill="#000080"/>
<rect x="799.1" y="288.0" width="6.3" height="1.0" fill="#000080"/>
<rect x="805.2" y="284.2" width="6.2" height="3.8" fill="#000080"/>
<rect x="811.0" y="285.2" width="7.0" height="3.8" fill="#000080"/>
<rect x="813.7" y="284.0" width="4.2" height="1.8" fill="#000080"/>
<rect x="817.7" y="284.2" width="3.8" height="3.8" fill="#000080"/>
<rect x="821.2" y="284.2" width="7.9" height="3.8" fill="#000080"/>
<rect x="828.8" y="284.2" width="5.8" height="3.8" fill="#000080"/>
<rect x="834.3" y="284.2" width="5.5" height="3.8" fill="#000080"/>
<rect x="839.5" y="284.2" width="4.8" height="3.8" fill="#000080"/>
<rect x="839.6" y="283.0" width="2.6" height="1.8" fill="#000080"/>
<rect x="844.1" y="284.2" width="6.8" height="3.8" fill="#000080"/>
<rect x="850.5" y="283.2" width="8.2" height="3.8" fill="#000080"/>
<rect x="858.5" y="284.2" width="6.0" height="3.8" fill="#000080"/>
<rect x="864.2" y="284.2" width="9.3" height="3.8" fill="#000080"/>
<rect x="873.1" y="283.2" width="3.9" height="3.8" fill="#000080"/>
<rect x="873.4" y="282.0" width="2.5" height="1.8" fill="#000080"/>
<rect x="874.6" y="288.0" width="3.5" height="1.0" fill="#000080"/>
<rect x="876.7" y="284.2" width="9.1" height="3.8" fill="#000080"/>
<rect x="877.4" y="283.0" width="3.7" height="1.8" fill="#000080"/>
<rect x="885.5" y="283.2" width="6.7" height="3.8" fill="#000080"/>
<rect x="891.9" y="284.2" width="3.6" height="3.8" fill="#000080"/>
<rect x="893.2" y="288.0" width="5.8" height="1.0" fill="#000080"/>
<rect x="895.2" y="284.2" width="6.1" height="3.8" fill="#000080"/>
<rect x="895.4" y="288.0" width="3.2" height="1.0" fill="#000080"/>
<rect x="901.0" y="285.2" width="8.6" height="3.8" fill="#000080"/>
<rect x="902.6" y="284.0" width="4.3" height="1.8" fill="#000080"/>
<rect x="909.3" y="283.2" width="8.5" height="3.8" fill="#000080"/>
<rect x="917.5" y="283.2" width="9.0" height="3.8" fill="#000080"/>
<rect x="926.2" y="284.2" width="9.1" height="3.8" fill="#000080"/>
<rect x="935.0" y="283.2" width="7.1" height="3.8" fill="#000080"/>
<rect x="941.7" y="284.2" width="6.0" height="3.8" fill="#000080"/>
<rect x="947.5" y="284.2" width="5.1" height="3.8" fill="#000080"/>
<rect x="952.2" y="285.2" width="8.1" height="3.8" fill="#000080"/>
<rect x="955.1" y="284.0" width="4.9" height="1.8" fill="#000080"/>
<rect x="960.0" y="284.2" width="6.9" height="3.8" fill="#000080"/>
<rect x="966.6" y="283.2" width="4.8" height="3.8" fill="#000080"/>
<rect x="971.1" y="283.2" width="8.7" height="3.8" fill="#000080"/>
<rect x="971.1" y="282.0" width="3.2" height="1.8" fill="#000080"/>
<rect x="979.5" y="284.2" width="6.8" height="3.8" fill="#000080"/>
<rect x="980.0" y="283.0" width="4.7" height="1.8" fill="#000080"/>
<rect x="986.0" y="285.2" width="4.2" height="3.8" fill="#000080"/>
<rect x="989.9" y="284.2" width="5.4" height="3.8" fill="#000080"/>
<rect x="995.0" y="284.2" width="5.6" height="3.8" fill="#000080"/>
<rect x="995.2" y="283.0" width="3.5" height="1.8" fill="#000080"/>
<rect x="1000.3" y="285.2" width="8.9" height="3.8" fill="#000080"/>
<rect x="1008.8" y="284.2" width="6.1" height="3.8" fill="#000080"/>
<rect x="1014.6" y="283.2" width="3.7" height="3.8" fill="#000080"/>
<rect x="1017.9" y="285.2" width="8.6" height="3.8" fill="#000080"/>
<rect x="1020.5" y="284.0" width="3.0" height="1.8" fill="#000080"/>
<rect x="1026.3" y="284.2" width="3.9" height="3.8" fill="#000080"/>
<rect x="1029.8" y="285.2" width="5.7" height="3.8" fill="#000080"/>
<rect x="1035.2" y="283.2" width="8.8" height="3.8" fill="#000080"/>
<rect x="1038.5" y="288.0" width="6.1" height="1.0" fill="#000080"/>
<rect x="1043.8" y="285.2" width="4.2" height="3.8" fill="#000080"/>
<rect x="1044.4" y="284.0" width="4.0" height="1.8" fill="#000080"/>
<rect x="1044.2" y="288.0" width="6.5" height="1.0" fill="#000080"/>
<rect x="1047.7" y="285.2" width="6.7" height="3.8" fill="#000080"/>
<rect x="1054.1" y="283.2" width="8.0" height="3.8" fill="#000080"/>
<rect x="1056.2" y="282.0" width="4.0" height="1.8" fill="#000080"/>
<rect x="1061.8" y="284.2" width="4.1" height="3.8" fill="#000080"/>
<rect x="1064.0" y="283.0" width="3.4" height="1.8" fill="#000080"/>
<rect x="1061.8" y="288.0" width="4.5" height="1.0" fill="#000080"/>
<rect x="1065.6" y="283.2" width="5.7" height="3.8" fill="#000080"/>
<rect x="115.0" y="378.1" width="3.0" height="3.0" fill="#000080"/>
<rect x="116.0" y="380.0" width="3.0" height="3.0" fill="#000080"/>
<rect x="115.4" y="387.4" width="3.0" height="3.0" fill="#000080"/>
<rect x="113.9" y="402.0" width="3.0" height="3.0" fill="#000080"/>
<rect x="118.1" y="397.9" width="3.0" height="3.0" fill="#000080"/>
<rect x="116.5" y="389.5" width="3.0" height="3.0" fill="#000080"/>
<rect x="119.5" y="390.5" width="3.0" height="3.0" fill="#000080"/>
<rect x="123.5" y="395.5" width="3.0" height="3.0" fill="#000080"/>
<rect x="126.5" y="394.5" width="3.0" height="3.0" fill="#000080"/>
<rect x="121.5" y="392.5" width="3.0" height="3.0" fill="#000080"/>
<rect x="117.0" y="392.5" width="3.7" height="5.0" fill="#000080"/>
<rect x="120.4" y="391.5" width="7.5" height="5.0" fill="#000080"/>
<rect x="122.8" y="390.0" width="4.1" height="2.1" fill="#000080"/>
<rect x="127.6" y="390.5" width="7.3" height="5.0" fill="#000080"/>
<rect x="131.2" y="389.0" width="3.4" height="2.1" fill="#000080"/>
<rect x="130.7" y="396.5" width="3.7" height="2.5" fill="#000080"/>
<rect x="134.6" y="391.5" width="9.0" height="5.0" fill="#000080"/>
<rect x="137.5" y="390.0" width="2.6" height="2.1" fill="#000080"/>
<rect x="143.3" y="392.5" width="4.8" height="5.0" fill="#000080"/>
<rect x="147.8" y="391.5" width="2.5" height="5.0" fill="#000080"/>
<rect x="148.3" y="390.0" width="2.5" height="2.1" fill="#000080"/>
<rect x="148.8" y="396.5" width="5.4" height="2.5" fill="#000080"/>
<rect x="150.0" y="391.3" width="5.9" height="3.7" fill="#000080"/>
<rect x="155.6" y="391.3" width="5.6" height="3.7" fill="#000080"/>
<rect x="156.4" y="395.6" width="3.6" height="1.6" fill="#000080"/>
<rect x="161.0" y="391.3" width="7.4" height="3.7" fill="#000080"/>
<rect x="168.1" y="391.3" width="8.1" height="3.7" fill="#000080"/>
<rect x="172.4" y="395.6" width="6.5" height="1.6" fill="#000080"/>
<rect x="175.8" y="391.3" width="8.6" height="3.7" fill="#000080"/>
<rect x="184.2" y="390.3" width="8.9" height="3.7" fill="#000080"/>
<rect x="192.7" y="391.3" width="6.0" height="3.7" fill="#000080"/>
<rect x="193.5" y="390.1" width="2.8" height="1.8" fill="#000080"/>
<rect x="198.4" y="391.3" width="5.3" height="3.7" fill="#000080"/>
<rect x="199.8" y="390.1" width="4.7" height="1.8" fill="#000080"/>
<rect x="203.4" y="390.3" width="4.2" height="3.7" fill="#000080"/>
<rect x="204.1" y="395.6" width="6.4" height="1.6" fill="#000080"/>
<rect x="207.3" y="391.3" width="5.3" height="3.7" fill="#000080"/>
<rect x="207.7" y="390.1" width="3.6" height="1.8" fill="#000080"/>
<rect x="212.3" y="392.3" width="4.2" height="3.7" fill="#000080"/>
<rect x="214.4" y="391.1" width="4.2" height="1.8" fill="#000080"/>
<rect x="213.5" y="395.6" width="4.1" height="1.6" fill="#000080"/>
<rect x="216.3" y="391.3" width="4.8" height="3.7" fill="#000080"/>
<rect x="220.8" y="391.3" width="4.9" height="3.7" fill="#000080"/>
<rect x="221.6" y="395.6" width="6.6" height="1.6" fill="#000080"/>
<rect x="225.4" y="391.3" width="3.6" height="3.7" fill="#000080"/>
<rect x="226.7" y="390.1" width="3.6" height="1.8" fill="#000080"/>
<rect x="228.7" y="390.3" width="6.4" height="3.7" fill="#000080"/>
<rect x="231.8" y="389.1" width="3.8" height="1.8" fill="#000080"/>
<rect x="230.3" y="395.6" width="6.6" height="1.6" fill="#000080"/>
<rect x="234.8" y="392.3" width="4.6" height="3.7" fill="#000080"/>
<rect x="237.0" y="391.1" width="3.8" height="1.8" fill="#000080"/>
<rect x="235.2" y="395.6" width="5.4" height="1.6" fill="#000080"/>
<rect x="239.1" y="392.3" width="8.3" height="3.7" fill="#000080"/>
<rect x="247.1" y="391.3" width="4.4" height="3.7" fill="#000080"/>
<rect x="251.1" y="392.3" width="8.2" height="3.7" fill="#000080"/>
<rect x="251.2" y="391.1" width="4.2" height="1.8" fill="#000080"/>
<rect x="259.0" y="391.3" width="8.3" height="3.7" fill="#000080"/>
<rect x="267.0" y="390.3" width="5.0" height="3.7" fill="#000080"/>
<rect x="268.2" y="389.1" width="4.4" height="1.8" fill="#000080"/>
<rect x="268.9" y="395.6" width="4.0" height="1.6" fill="#000080"/>
<rect x="271.7" y="391.3" width="6.7" height="3.7" fill="#000080"/>
<rect x="274.4" y="390.1" width="3.9" height="1.8" fill="#000080"/>
<rect x="278.1" y="390.3" width="5.4" height="3.7" fill="#000080"/>
<rect x="279.2" y="395.6" width="4.0" height="1.6" fill="#000080"/>
<rect x="283.2" y="391.3" width="8.3" height="3.7" fill="#000080"/>
<rect x="291.2" y="391.3" width="6.8" height="3.7" fill="#000080"/>
<rect x="291.6" y="390.1" width="4.3" height="1.8" fill="#000080"/>
<rect x="297.7" y="392.3" width="3.5" height="3.7" fill="#000080"/>
<rect x="298.1" y="391.1" width="2.7" height="1.8" fill="#000080"/>
<rect x="300.8" y="391.3" width="4.3" height="3.7" fill="#000080"/>
<rect x="302.8" y="390.1" width="2.6" height="1.8" fill="#000080"/>
<rect x="302.5" y="395.6" width="3.8" height="1.6" fill="#000080"/>
<rect x="304.8" y="392.3" width="3.4" height="3.7" fill="#000080"/>
<rect x="308.0" y="390.3" width="4.7" height="3.7" fill="#000080"/>
<rect x="310.3" y="389.1" width="4.3" height="1.8" fill="#000080"/>
<rect x="308.3" y="395.6" width="5.0" height="1.6" fill="#000080"/>
<rect x="312.4" y="391.3" width="6.3" height="3.7" fill="#000080"/>
<rect x="312.8" y="390.1" width="4.7" height="1.8" fill="#000080"/>
<rect x="318.4" y="391.3" width="4.7" height="3.7" fill="#000080"/>
<rect x="319.9" y="390.1" width="4.4" height="1.8" fill="#000080"/>
<rect x="320.6" y="395.6" width="6.8" height="1.6" fill="#000080"/>
<rect x="322.8" y="390.3" width="5.6" height="3.7" fill="#000080"/>
<rect x="328.1" y="391.3" width="3.5" height="3.7" fill="#000080"/>
<rect x="331.3" y="391.3" width="1.0" height="3.7" fill="#000080"/>
<rect x="350.8" y="383.0" width="6.7" height="3.5" fill="#000080"/>
<rect x="357.2" y="383.0" width="8.4" height="3.5" fill="#000080"/>
<rect x="357.9" y="381.5" width="4.2" height="2.1" fill="#000080"/>
<rect x="365.3" y="382.0" width="5.4" height="3.5" fill="#000080"/>
<rect x="370.4" y="383.0" width="3.4" height="3.5" fill="#000080"/>
<rect x="373.5" y="382.0" width="3.7" height="3.5" fill="#000080"/>
<rect x="374.8" y="380.5" width="3.1" height="2.1" fill="#000080"/>
<rect x="376.9" y="382.0" width="5.8" height="3.5" fill="#000080"/>
<rect x="382.4" y="383.0" width="8.9" height="3.5" fill="#000080"/>
<rect x="391.0" y="383.0" width="8.6" height="3.5" fill="#000080"/>
<rect x="394.2" y="381.5" width="3.2" height="2.1" fill="#000080"/>
<rect x="399.3" y="383.0" width="7.4" height="3.5" fill="#000080"/>
<rect x="406.4" y="383.0" width="0.9" height="3.5" fill="#000080"/>
<rect x="429.4" y="381.0" width="4.8" height="3.5" fill="#000080"/>
<rect x="430.0" y="380.0" width="2.6" height="1.6" fill="#000080"/>
<rect x="430.3" y="383.5" width="3.7" height="2.5" fill="#000080"/>
<rect x="433.9" y="381.0" width="3.7" height="3.5" fill="#000080"/>
<rect x="435.1" y="383.5" width="6.7" height="2.5" fill="#000080"/>
<rect x="437.3" y="381.0" width="5.9" height="3.5" fill="#000080"/>
<rect x="438.3" y="380.0" width="3.5" height="1.6" fill="#000080"/>
<rect x="438.1" y="383.5" width="3.4" height="2.5" fill="#000080"/>
<rect x="442.9" y="379.0" width="6.6" height="3.5" fill="#000080"/>
<rect x="449.2" y="380.0" width="7.2" height="3.5" fill="#000080"/>
<rect x="452.9" y="383.5" width="4.2" height="2.5" fill="#000080"/>
<rect x="456.1" y="380.0" width="5.7" height="3.5" fill="#000080"/>
<rect x="457.2" y="379.0" width="3.0" height="1.6" fill="#000080"/>
<rect x="460.0" y="401.0" width="3.0" height="3.0" fill="#000080"/>
<rect x="463.0" y="394.5" width="9.1" height="3.0" fill="#000080"/>
<rect x="471.8" y="395.5" width="3.4" height="3.0" fill="#000080"/>
<rect x="474.9" y="395.5" width="1.4" height="3.0" fill="#000080"/>
<rect x="475.0" y="384.9" width="3.0" height="3.0" fill="#000080"/>
<rect x="477.5" y="386.5" width="3.0" height="3.0" fill="#000080"/>
<rect x="480.7" y="391.3" width="5.2" height="3.2" fill="#000080"/>
<rect x="485.6" y="391.3" width="6.2" height="3.2" fill="#000080"/>
<rect x="491.6" y="391.3" width="7.0" height="3.2" fill="#000080"/>
<rect x="498.3" y="372.0" width="5.0" height="3.0" fill="#000080"/>
<polyline points="500.5,373.6 512.0,395.1 534.1,431.9 555.8,472.4" fill="none" stroke="#000080" stroke-width="4.6" />
<rect x="556.1" y="407.4" width="3.0" height="3.0" fill="#000080"/>
<rect x="556.1" y="429.8" width="3.0" height="3.0" fill="#000080"/>
<rect x="557.6" y="391.3" width="4.3" height="3.7" fill="#000080"/>
<rect x="561.6" y="391.3" width="3.7" height="3.7" fill="#000080"/>
<rect x="565.0" y="391.3" width="8.5" height="3.7" fill="#000080"/>
<rect x="573.2" y="391.3" width="5.9" height="3.7" fill="#000080"/>
<rect x="578.8" y="391.3" width="3.7" height="3.7" fill="#000080"/>
<rect x="582.2" y="391.3" width="5.6" height="3.7" fill="#000080"/>
<rect x="587.5" y="391.3" width="5.9" height="3.7" fill="#000080"/>
<rect x="593.2" y="391.3" width="7.7" height="3.7" fill="#000080"/>
<rect x="600.6" y="391.3" width="4.0" height="3.7" fill="#000080"/>
<rect x="604.2" y="391.3" width="1.8" height="3.7" fill="#000080"/>
<rect x="605.7" y="392.0" width="9.1" height="3.0" fill="#000080"/>
<rect x="614.5" y="392.0" width="4.1" height="3.0" fill="#000080"/>
<rect x="618.3" y="393.0" width="8.2" height="3.0" fill="#000080"/>
<rect x="622.4" y="391.8" width="4.8" height="1.8" fill="#000080"/>
<rect x="626.2" y="392.0" width="4.9" height="3.0" fill="#000080"/>
<rect x="627.4" y="395.6" width="5.2" height="1.4" fill="#000080"/>
<rect x="630.8" y="391.0" width="4.0" height="3.0" fill="#000080"/>
<rect x="634.5" y="392.0" width="5.8" height="3.0" fill="#000080"/>
<rect x="640.0" y="391.0" width="5.6" height="3.0" fill="#000080"/>
<rect x="645.3" y="392.0" width="5.4" height="3.0" fill="#000080"/>
<rect x="650.4" y="392.0" width="5.6" height="3.0" fill="#000080"/>
<rect x="652.8" y="390.8" width="5.0" height="1.8" fill="#000080"/>
<rect x="655.7" y="393.0" width="5.1" height="3.0" fill="#000080"/>
<rect x="657.4" y="395.6" width="5.3" height="1.4" fill="#000080"/>
<rect x="660.5" y="392.0" width="3.8" height="3.0" fill="#000080"/>
<rect x="664.1" y="392.0" width="8.3" height="3.0" fill="#000080"/>
<rect x="666.1" y="390.8" width="4.8" height="1.8" fill="#000080"/>
<rect x="664.3" y="395.6" width="5.3" height="1.4" fill="#000080"/>
<rect x="672.1" y="393.0" width="6.3" height="3.0" fill="#000080"/>
<rect x="678.1" y="393.0" width="9.3" height="3.0" fill="#000080"/>
<rect x="687.1" y="391.0" width="5.9" height="3.0" fill="#000080"/>
<rect x="692.7" y="392.0" width="5.4" height="3.0" fill="#000080"/>
<rect x="697.8" y="392.0" width="3.9" height="3.0" fill="#000080"/>
<rect x="701.4" y="392.0" width="8.9" height="3.0" fill="#000080"/>
<rect x="709.9" y="391.0" width="6.2" height="3.0" fill="#000080"/>
<rect x="715.9" y="393.0" width="6.8" height="3.0" fill="#000080"/>
<rect x="717.3" y="395.6" width="4.5" height="1.4" fill="#000080"/>
<rect x="722.4" y="392.0" width="3.8" height="3.0" fill="#000080"/>
<rect x="724.2" y="395.6" width="5.8" height="1.4" fill="#000080"/>
<rect x="725.8" y="393.0" width="8.2" height="3.0" fill="#000080"/>
<rect x="733.7" y="392.0" width="4.2" height="3.0" fill="#000080"/>
<rect x="737.7" y="391.0" width="8.7" height="3.0" fill="#000080"/>
<rect x="740.8" y="389.8" width="4.0" height="1.8" fill="#000080"/>
<rect x="746.0" y="392.0" width="9.3" height="3.0" fill="#000080"/>
<rect x="746.1" y="395.6" width="5.8" height="1.4" fill="#000080"/>
<rect x="755.0" y="392.0" width="6.6" height="3.0" fill="#000080"/>
<rect x="755.1" y="395.6" width="3.1" height="1.4" fill="#000080"/>
<rect x="761.3" y="393.0" width="4.4" height="3.0" fill="#000080"/>
<rect x="765.4" y="393.0" width="8.7" height="3.0" fill="#000080"/>
<rect x="773.8" y="392.0" width="5.8" height="3.0" fill="#000080"/>
<rect x="775.5" y="390.8" width="3.8" height="1.8" fill="#000080"/>
<rect x="774.0" y="395.6" width="6.8" height="1.4" fill="#000080"/>
<rect x="779.2" y="391.0" width="6.2" height="3.0" fill="#000080"/>
<rect x="785.2" y="392.0" width="3.7" height="3.0" fill="#000080"/>
<rect x="788.5" y="392.0" width="4.2" height="3.0" fill="#000080"/>
<rect x="792.4" y="392.0" width="4.9" height="3.0" fill="#000080"/>
<rect x="797.0" y="392.0" width="3.7" height="3.0" fill="#000080"/>
<rect x="800.4" y="391.0" width="3.6" height="3.0" fill="#000080"/>
<rect x="803.7" y="393.0" width="5.9" height="3.0" fill="#000080"/>
<rect x="804.5" y="391.8" width="2.9" height="1.8" fill="#000080"/>
<rect x="809.3" y="392.0" width="4.3" height="3.0" fill="#000080"/>
<rect x="813.4" y="393.0" width="5.1" height="3.0" fill="#000080"/>
<rect x="815.9" y="391.8" width="4.9" height="1.8" fill="#000080"/>
<rect x="815.3" y="395.6" width="5.7" height="1.4" fill="#000080"/>
<rect x="818.2" y="391.0" width="6.8" height="3.0" fill="#000080"/>
<rect x="824.7" y="392.0" width="6.2" height="3.0" fill="#000080"/>
<rect x="825.3" y="390.8" width="3.4" height="1.8" fill="#000080"/>
<rect x="827.8" y="395.6" width="4.6" height="1.4" fill="#000080"/>
<rect x="830.6" y="392.0" width="5.5" height="3.0" fill="#000080"/>
<rect x="835.8" y="392.0" width="5.7" height="3.0" fill="#000080"/>
<rect x="841.2" y="393.0" width="8.8" height="3.0" fill="#000080"/>
<rect x="842.2" y="391.8" width="3.2" height="1.8" fill="#000080"/>
<rect x="849.7" y="392.0" width="3.5" height="3.0" fill="#000080"/>
<rect x="852.9" y="392.0" width="7.5" height="3.0" fill="#000080"/>
<rect x="855.3" y="390.8" width="4.5" height="1.8" fill="#000080"/>
<rect x="860.1" y="392.0" width="6.1" height="3.0" fill="#000080"/>
<rect x="861.4" y="390.8" width="4.3" height="1.8" fill="#000080"/>
<rect x="865.9" y="392.0" width="9.1" height="3.0" fill="#000080"/>
<rect x="868.4" y="390.8" width="3.0" height="1.8" fill="#000080"/>
<rect x="874.7" y="392.0" width="7.4" height="3.0" fill="#000080"/>
<rect x="881.7" y="393.0" width="9.2" height="3.0" fill="#000080"/>
<rect x="885.0" y="391.8" width="3.0" height="1.8" fill="#000080"/>
<rect x="890.7" y="393.0" width="4.0" height="3.0" fill="#000080"/>
<rect x="892.6" y="391.8" width="4.3" height="1.8" fill="#000080"/>
<rect x="894.4" y="393.0" width="3.5" height="3.0" fill="#000080"/>
<rect x="894.4" y="391.8" width="4.3" height="1.8" fill="#000080"/>
<rect x="897.6" y="392.0" width="8.0" height="3.0" fill="#000080"/>
<rect x="905.2" y="393.0" width="4.0" height="3.0" fill="#000080"/>
<rect x="908.9" y="392.0" width="7.9" height="3.0" fill="#000080"/>
<rect x="910.3" y="390.8" width="3.1" height="1.8" fill="#000080"/>
<rect x="912.1" y="395.6" width="4.1" height="1.4" fill="#000080"/>
<rect x="916.5" y="391.0" width="5.7" height="3.0" fill="#000080"/>
<rect x="921.9" y="392.0" width="8.5" height="3.0" fill="#000080"/>
<rect x="930.0" y="392.0" width="5.5" height="3.0" fill="#000080"/>
<rect x="932.2" y="395.6" width="4.9" height="1.4" fill="#000080"/>
<rect x="935.2" y="391.0" width="9.3" height="3.0" fill="#000080"/>
<rect x="944.2" y="392.0" width="4.4" height="3.0" fill="#000080"/>
<rect x="945.7" y="390.8" width="3.0" height="1.8" fill="#000080"/>
<rect x="948.3" y="393.0" width="5.7" height="3.0" fill="#000080"/>
<rect x="949.0" y="391.8" width="3.3" height="1.8" fill="#000080"/>
<rect x="953.8" y="392.0" width="3.5" height="3.0" fill="#000080"/>
<rect x="957.0" y="392.0" width="6.7" height="3.0" fill="#000080"/>
<rect x="963.4" y="391.0" width="4.8" height="3.0" fill="#000080"/>
<rect x="967.9" y="392.0" width="8.9" height="3.0" fill="#000080"/>
<rect x="976.5" y="392.0" width="5.0" height="3.0" fill="#000080"/>
<rect x="981.2" y="392.0" width="7.5" height="3.0" fill="#000080"/>
<rect x="982.6" y="395.6" width="6.1" height="1.4" fill="#000080"/>
<rect x="988.4" y="392.0" width="5.4" height="3.0" fill="#000080"/>
<rect x="993.5" y="393.0" width="9.3" height="3.0" fill="#000080"/>
<rect x="1002.5" y="391.0" width="3.8" height="3.0" fill="#000080"/>
<rect x="1006.0" y="391.0" width="6.3" height="3.0" fill="#000080"/>
<rect x="1012.0" y="393.0" width="4.5" height="3.0" fill="#000080"/>
<rect x="1016.3" y="392.0" width="6.2" height="3.0" fill="#000080"/>
<rect x="1018.8" y="390.8" width="4.5" height="1.8" fill="#000080"/>
<rect x="1022.2" y="392.0" width="6.6" height="3.0" fill="#000080"/>
<rect x="1028.5" y="392.0" width="3.7" height="3.0" fill="#000080"/>
<rect x="1029.8" y="395.6" width="3.5" height="1.4" fill="#000080"/>
<rect x="1031.8" y="391.0" width="7.4" height="3.0" fill="#000080"/>
<rect x="1039.0" y="393.0" width="4.8" height="3.0" fill="#000080"/>
<rect x="1040.7" y="395.6" width="5.8" height="1.4" fill="#000080"/>
<rect x="1043.4" y="392.0" width="4.1" height="3.0" fill="#000080"/>
<rect x="1047.2" y="392.0" width="7.1" height="3.0" fill="#000080"/>
<rect x="1054.0" y="392.0" width="4.3" height="3.0" fill="#000080"/>
<rect x="1058.0" y="392.0" width="7.9" height="3.0" fill="#000080"/>
<rect x="1059.3" y="390.8" width="3.4" height="1.8" fill="#000080"/>
<rect x="1065.6" y="392.0" width="3.7" height="3.0" fill="#000080"/>
<rect x="1066.2" y="395.6" width="6.9" height="1.4" fill="#000080"/>
<rect x="1069.0" y="391.0" width="2.3" height="3.0" fill="#000080"/>
<rect x="112.9" y="501.1" width="3.0" height="3.0" fill="#000080"/>
<rect x="110.7" y="509.4" width="3.0" height="3.0" fill="#000080"/>
<rect x="121.0" y="501.3" width="3.0" height="3.0" fill="#000080"/>
<rect x="120.5" y="509.3" width="3.0" height="3.0" fill="#000080"/>
<rect x="118.4" y="501.5" width="3.0" height="3.0" fill="#000080"/>
<rect x="117.3" y="504.4" width="3.0" height="3.0" fill="#000080"/>
<rect x="113.2" y="505.4" width="3.0" height="3.0" fill="#000080"/>
<rect x="110.6" y="508.8" width="3.0" height="3.0" fill="#000080"/>
<rect x="119.5" y="506.1" width="3.0" height="3.0" fill="#000080"/>
<rect x="123.6" y="506.4" width="3.0" height="3.0" fill="#000080"/>
<rect x="114.0" y="502.7" width="3.0" height="3.0" fill="#000080"/>
<rect x="112.4" y="500.7" width="3.0" height="3.0" fill="#000080"/>
<rect x="121.3" y="508.1" width="3.0" height="3.0" fill="#000080"/>
<rect x="114.6" y="502.2" width="3.0" height="3.0" fill="#000080"/>
<rect x="112.0" y="509.0" width="7.1" height="3.0" fill="#000080"/>
<rect x="114.9" y="506.5" width="3.3" height="3.1" fill="#000080"/>
<rect x="118.8" y="509.0" width="5.6" height="3.0" fill="#000080"/>
<rect x="120.0" y="506.5" width="3.9" height="3.1" fill="#000080"/>
<rect x="124.1" y="509.0" width="8.3" height="3.0" fill="#000080"/>
<rect x="124.6" y="506.5" width="4.5" height="3.1" fill="#000080"/>
<rect x="132.1" y="508.0" width="9.3" height="3.0" fill="#000080"/>
<rect x="141.1" y="508.0" width="6.3" height="3.0" fill="#000080"/>
<rect x="147.1" y="509.0" width="6.9" height="3.0" fill="#000080"/>
<rect x="148.0" y="506.5" width="2.8" height="3.1" fill="#000080"/>
<rect x="153.7" y="509.0" width="5.7" height="3.0" fill="#000080"/>
<rect x="159.1" y="509.0" width="4.6" height="3.0" fill="#000080"/>
<rect x="161.3" y="506.5" width="4.6" height="3.1" fill="#000080"/>
<rect x="163.4" y="509.0" width="5.9" height="3.0" fill="#000080"/>
<rect x="163.6" y="506.5" width="4.3" height="3.1" fill="#000080"/>
<rect x="168.9" y="509.0" width="3.7" height="3.0" fill="#000080"/>
<rect x="172.3" y="509.0" width="8.7" height="3.0" fill="#000080"/>
<rect x="176.4" y="512.8" width="5.7" height="1.8" fill="#000080"/>
<rect x="180.7" y="508.0" width="6.7" height="3.0" fill="#000080"/>
<rect x="182.0" y="505.5" width="3.7" height="3.1" fill="#000080"/>
<rect x="187.2" y="509.0" width="8.8" height="3.0" fill="#000080"/>
<rect x="195.6" y="509.0" width="7.0" height="3.0" fill="#000080"/>
<rect x="198.3" y="512.8" width="5.3" height="1.8" fill="#000080"/>
<rect x="202.3" y="509.0" width="5.8" height="3.0" fill="#000080"/>
<rect x="207.8" y="509.0" width="5.1" height="3.0" fill="#000080"/>
<rect x="212.6" y="509.0" width="8.4" height="3.0" fill="#000080"/>
<rect x="220.7" y="510.0" width="3.8" height="3.0" fill="#000080"/>
<rect x="224.2" y="510.0" width="5.8" height="3.0" fill="#000080"/>
<rect x="225.7" y="507.5" width="3.2" height="3.1" fill="#000080"/>
<rect x="227.4" y="512.8" width="3.8" height="1.8" fill="#000080"/>
<rect x="229.7" y="509.0" width="7.8" height="3.0" fill="#000080"/>
<rect x="230.2" y="512.8" width="5.1" height="1.8" fill="#000080"/>
<rect x="237.2" y="508.0" width="4.8" height="3.0" fill="#000080"/>
<rect x="238.5" y="505.5" width="3.9" height="3.1" fill="#000080"/>
<rect x="241.8" y="510.0" width="7.7" height="3.0" fill="#000080"/>
<rect x="249.2" y="508.0" width="7.4" height="3.0" fill="#000080"/>
<rect x="251.3" y="505.5" width="3.8" height="3.1" fill="#000080"/>
<rect x="256.2" y="510.0" width="9.0" height="3.0" fill="#000080"/>
<rect x="260.6" y="507.5" width="3.5" height="3.1" fill="#000080"/>
<rect x="261.2" y="512.8" width="5.3" height="1.8" fill="#000080"/>
<rect x="264.9" y="509.0" width="7.9" height="3.0" fill="#000080"/>
<rect x="272.6" y="509.0" width="5.7" height="3.0" fill="#000080"/>
<rect x="274.5" y="512.8" width="3.9" height="1.8" fill="#000080"/>
<rect x="278.0" y="509.0" width="5.1" height="3.0" fill="#000080"/>
<rect x="282.8" y="509.0" width="7.0" height="3.0" fill="#000080"/>
<rect x="289.5" y="509.0" width="8.5" height="3.0" fill="#000080"/>
<rect x="297.8" y="509.0" width="8.1" height="3.0" fill="#000080"/>
<rect x="299.5" y="512.8" width="5.9" height="1.8" fill="#000080"/>
<rect x="305.6" y="508.0" width="9.0" height="3.0" fill="#000080"/>
<rect x="308.7" y="505.5" width="2.7" height="3.1" fill="#000080"/>
<rect x="314.3" y="509.0" width="8.1" height="3.0" fill="#000080"/>
<rect x="318.5" y="506.5" width="3.1" height="3.1" fill="#000080"/>
<rect x="322.1" y="509.0" width="7.5" height="3.0" fill="#000080"/>
<rect x="329.3" y="509.0" width="2.7" height="3.0" fill="#000080"/>
<rect x="329.6" y="512.8" width="3.6" height="1.8" fill="#000080"/>
<rect x="314.4" y="504.7" width="3.0" height="3.0" fill="#000080"/>
<rect x="260.8" y="504.7" width="3.0" height="3.0" fill="#000080"/>
<rect x="244.1" y="503.5" width="3.0" height="3.0" fill="#000080"/>
<rect x="327.9" y="504.5" width="3.0" height="3.0" fill="#000080"/>
<rect x="178.6" y="503.9" width="3.0" height="3.0" fill="#000080"/>
<rect x="128.6" y="505.0" width="3.0" height="3.0" fill="#000080"/>
<rect x="223.4" y="504.0" width="3.0" height="3.0" fill="#000080"/>
<rect x="130.0" y="504.7" width="3.0" height="3.0" fill="#000080"/>
<rect x="138.8" y="504.2" width="3.0" height="3.0" fill="#000080"/>
<rect x="255.7" y="504.2" width="3.0" height="3.0" fill="#000080"/>
<rect x="296.3" y="504.9" width="3.0" height="3.0" fill="#000080"/>
<rect x="265.5" y="503.9" width="3.0" height="3.0" fill="#000080"/>
<rect x="342.9" y="500.1" width="3.0" height="3.0" fill="#000080"/>
<rect x="346.0" y="507.0" width="4.7" height="3.5" fill="#000080"/>
<rect x="350.4" y="507.0" width="5.5" height="3.5" fill="#000080"/>
<rect x="353.1" y="506.0" width="4.0" height="1.6" fill="#000080"/>
<rect x="355.5" y="506.0" width="3.6" height="3.5" fill="#000080"/>
<rect x="358.8" y="506.0" width="7.7" height="3.5" fill="#000080"/>
<rect x="366.2" y="506.0" width="5.6" height="3.5" fill="#000080"/>
<rect x="371.5" y="505.0" width="0.5" height="3.5" fill="#000080"/>
<rect x="371.7" y="507.5" width="3.4" height="3.0" fill="#000080"/>
<rect x="374.8" y="508.5" width="7.1" height="3.0" fill="#000080"/>
<rect x="375.9" y="507.5" width="3.8" height="1.6" fill="#000080"/>
<rect x="377.1" y="511.5" width="5.1" height="1.5" fill="#000080"/>
<rect x="381.6" y="508.5" width="9.0" height="3.0" fill="#000080"/>
<rect x="390.4" y="508.5" width="3.9" height="3.0" fill="#000080"/>
<rect x="393.9" y="508.5" width="7.1" height="3.0" fill="#000080"/>
<rect x="400.7" y="508.5" width="4.7" height="3.0" fill="#000080"/>
<rect x="405.2" y="508.5" width="7.9" height="3.0" fill="#000080"/>
<rect x="412.7" y="509.5" width="5.4" height="3.0" fill="#000080"/>
<rect x="417.8" y="508.5" width="7.5" height="3.0" fill="#000080"/>
<rect x="425.1" y="508.5" width="6.3" height="3.0" fill="#000080"/>
<rect x="431.1" y="508.5" width="4.2" height="3.0" fill="#000080"/>
<rect x="433.1" y="507.5" width="3.6" height="1.6" fill="#000080"/>
<rect x="435.0" y="508.5" width="6.7" height="3.0" fill="#000080"/>
<rect x="441.4" y="508.5" width="4.2" height="3.0" fill="#000080"/>
<rect x="442.7" y="507.5" width="4.1" height="1.6" fill="#000080"/>
<rect x="445.3" y="508.5" width="3.7" height="3.0" fill="#000080"/>
<rect x="445.6" y="511.5" width="5.3" height="1.5" fill="#000080"/>
<rect x="448.7" y="508.5" width="9.2" height="3.0" fill="#000080"/>
<rect x="457.6" y="508.5" width="7.6" height="3.0" fill="#000080"/>
<rect x="465.0" y="508.5" width="4.4" height="3.0" fill="#000080"/>
<rect x="469.0" y="508.5" width="7.1" height="3.0" fill="#000080"/>
<rect x="470.6" y="511.5" width="3.8" height="1.5" fill="#000080"/>
<rect x="475.8" y="509.5" width="6.9" height="3.0" fill="#000080"/>
<rect x="478.7" y="511.5" width="6.9" height="1.5" fill="#000080"/>
<rect x="482.4" y="508.5" width="1.8" height="3.0" fill="#000080"/>
<rect x="483.1" y="507.5" width="3.9" height="1.6" fill="#000080"/>
<rect x="405.5" y="502.2" width="3.0" height="14.5" fill="#000080"/>
<rect x="469.5" y="502.9" width="3.0" height="16.0" fill="#000080"/>
<rect x="388.5" y="511.5" width="3.0" height="3.0" fill="#000080"/>
<rect x="483.9" y="510.0" width="3.3" height="3.2" fill="#000080"/>
<rect x="486.9" y="510.0" width="4.9" height="3.2" fill="#000080"/>
<rect x="491.6" y="510.0" width="7.2" height="3.2" fill="#000080"/>
<rect x="498.4" y="510.0" width="3.4" height="3.2" fill="#000080"/>
<rect x="501.5" y="510.0" width="5.2" height="3.2" fill="#000080"/>
<rect x="506.4" y="510.0" width="3.5" height="3.2" fill="#000080"/>
<rect x="509.6" y="510.0" width="5.2" height="3.2" fill="#000080"/>
<rect x="514.5" y="510.0" width="8.5" height="3.2" fill="#000080"/>
<rect x="522.7" y="510.0" width="3.5" height="3.2" fill="#000080"/>
<rect x="525.9" y="510.0" width="6.2" height="3.2" fill="#000080"/>
<rect x="531.8" y="510.0" width="7.0" height="3.2" fill="#000080"/>
<rect x="538.5" y="510.0" width="8.1" height="3.2" fill="#000080"/>
<rect x="546.3" y="510.0" width="4.3" height="3.2" fill="#000080"/>
<rect x="550.3" y="510.0" width="8.5" height="3.2" fill="#000080"/>
<rect x="558.5" y="510.0" width="8.1" height="3.2" fill="#000080"/>
<rect x="566.3" y="510.0" width="3.8" height="3.2" fill="#000080"/>
<rect x="569.8" y="510.0" width="7.0" height="3.2" fill="#000080"/>
<rect x="576.5" y="510.0" width="8.0" height="3.2" fill="#000080"/>
<rect x="584.1" y="510.0" width="1.1" height="3.2" fill="#000080"/>
<rect x="597.7" y="511.0" width="5.7" height="3.0" fill="#000080"/>
<rect x="603.1" y="512.0" width="2.9" height="3.0" fill="#000080"/>
<rect x="605.7" y="510.0" width="8.9" height="3.4" fill="#000080"/>
<rect x="607.8" y="512.6" width="5.8" height="1.6" fill="#000080"/>
<rect x="614.3" y="509.0" width="8.3" height="3.4" fill="#000080"/>
<rect x="615.0" y="506.0" width="2.9" height="3.6" fill="#000080"/>
<rect x="622.3" y="509.0" width="3.8" height="3.4" fill="#000080"/>
<rect x="625.8" y="510.0" width="6.8" height="3.4" fill="#000080"/>
<rect x="629.6" y="507.0" width="3.9" height="3.6" fill="#000080"/>
<rect x="628.2" y="512.6" width="6.3" height="1.6" fill="#000080"/>
<rect x="632.3" y="509.0" width="6.2" height="3.4" fill="#000080"/>
<rect x="635.1" y="512.6" width="6.9" height="1.6" fill="#000080"/>
<rect x="638.2" y="509.0" width="6.0" height="3.4" fill="#000080"/>
<rect x="643.9" y="509.0" width="4.9" height="3.4" fill="#000080"/>
<rect x="645.2" y="506.0" width="4.1" height="3.6" fill="#000080"/>
<rect x="648.6" y="509.0" width="5.5" height="3.4" fill="#000080"/>
<rect x="653.7" y="510.0" width="8.9" height="3.4" fill="#000080"/>
<rect x="654.0" y="507.0" width="3.8" height="3.6" fill="#000080"/>
<rect x="662.4" y="510.0" width="4.4" height="3.4" fill="#000080"/>
<rect x="662.8" y="512.6" width="6.0" height="1.6" fill="#000080"/>
<rect x="666.4" y="509.0" width="8.8" height="3.4" fill="#000080"/>
<rect x="670.1" y="512.6" width="4.8" height="1.6" fill="#000080"/>
<rect x="675.0" y="509.0" width="8.5" height="3.4" fill="#000080"/>
<rect x="678.9" y="512.6" width="4.8" height="1.6" fill="#000080"/>
<rect x="683.1" y="509.0" width="5.2" height="3.4" fill="#000080"/>
<rect x="685.3" y="506.0" width="2.7" height="3.6" fill="#000080"/>
<rect x="688.1" y="509.0" width="5.7" height="3.4" fill="#000080"/>
<rect x="689.9" y="506.0" width="3.5" height="3.6" fill="#000080"/>
<rect x="693.5" y="509.0" width="9.0" height="3.4" fill="#000080"/>
<rect x="693.6" y="506.0" width="4.3" height="3.6" fill="#000080"/>
<rect x="695.3" y="512.6" width="4.3" height="1.6" fill="#000080"/>
<rect x="702.2" y="509.0" width="5.9" height="3.4" fill="#000080"/>
<rect x="705.5" y="506.0" width="3.0" height="3.6" fill="#000080"/>
<rect x="707.7" y="509.0" width="4.2" height="3.4" fill="#000080"/>
<rect x="708.4" y="512.6" width="3.4" height="1.6" fill="#000080"/>
<rect x="711.7" y="509.0" width="3.3" height="3.4" fill="#000080"/>
<rect x="712.9" y="506.0" width="4.0" height="3.6" fill="#000080"/>
<rect x="714.7" y="509.0" width="6.8" height="3.4" fill="#000080"/>
<rect x="721.2" y="508.0" width="3.6" height="3.4" fill="#000080"/>
<rect x="722.9" y="505.0" width="5.0" height="3.6" fill="#000080"/>
<rect x="721.2" y="512.6" width="3.4" height="1.6" fill="#000080"/>
<rect x="724.4" y="509.0" width="9.1" height="3.4" fill="#000080"/>
<rect x="726.0" y="506.0" width="3.8" height="3.6" fill="#000080"/>
<rect x="728.4" y="512.6" width="4.9" height="1.6" fill="#000080"/>
<rect x="733.3" y="508.0" width="5.7" height="3.4" fill="#000080"/>
<rect x="738.7" y="509.0" width="7.6" height="3.4" fill="#000080"/>
<rect x="739.7" y="512.6" width="6.2" height="1.6" fill="#000080"/>
<rect x="746.0" y="509.0" width="7.4" height="3.4" fill="#000080"/>
<rect x="748.5" y="506.0" width="3.9" height="3.6" fill="#000080"/>
<rect x="753.1" y="509.0" width="7.7" height="3.4" fill="#000080"/>
<rect x="757.0" y="512.6" width="3.5" height="1.6" fill="#000080"/>
<rect x="760.5" y="509.0" width="6.2" height="3.4" fill="#000080"/>
<rect x="761.3" y="512.6" width="5.2" height="1.6" fill="#000080"/>
<rect x="766.4" y="510.0" width="7.1" height="3.4" fill="#000080"/>
<rect x="767.8" y="512.6" width="5.0" height="1.6" fill="#000080"/>
<rect x="773.2" y="509.0" width="8.8" height="3.4" fill="#000080"/>
<rect x="781.7" y="509.0" width="9.1" height="3.4" fill="#000080"/>
<rect x="782.6" y="512.6" width="4.1" height="1.6" fill="#000080"/>
<rect x="790.5" y="509.0" width="3.7" height="3.4" fill="#000080"/>
<rect x="790.6" y="506.0" width="4.5" height="3.6" fill="#000080"/>
<rect x="793.9" y="509.0" width="4.9" height="3.4" fill="#000080"/>
<rect x="798.5" y="510.0" width="6.6" height="3.4" fill="#000080"/>
<rect x="804.8" y="509.0" width="9.3" height="3.4" fill="#000080"/>
<rect x="807.1" y="512.6" width="6.9" height="1.6" fill="#000080"/>
<rect x="813.8" y="508.0" width="5.6" height="3.4" fill="#000080"/>
<rect x="819.1" y="509.0" width="8.7" height="3.4" fill="#000080"/>
<rect x="821.6" y="506.0" width="5.0" height="3.6" fill="#000080"/>
<rect x="827.5" y="509.0" width="7.7" height="3.4" fill="#000080"/>
<rect x="834.9" y="510.0" width="3.8" height="3.4" fill="#000080"/>
<rect x="838.4" y="510.0" width="3.6" height="3.4" fill="#000080"/>
<rect x="841.7" y="509.0" width="6.6" height="3.4" fill="#000080"/>
<rect x="848.0" y="508.0" width="6.1" height="3.4" fill="#000080"/>
<rect x="853.8" y="509.0" width="9.3" height="3.4" fill="#000080"/>
<rect x="862.8" y="509.0" width="8.5" height="3.4" fill="#000080"/>
<rect x="865.4" y="512.6" width="5.5" height="1.6" fill="#000080"/>
<rect x="871.0" y="509.0" width="7.4" height="3.4" fill="#000080"/>
<rect x="874.4" y="506.0" width="4.2" height="3.6" fill="#000080"/>
<rect x="878.1" y="509.0" width="7.9" height="3.4" fill="#000080"/>
<rect x="885.7" y="510.0" width="7.6" height="3.4" fill="#000080"/>
<rect x="893.0" y="509.0" width="9.3" height="3.4" fill="#000080"/>
<rect x="902.0" y="510.0" width="6.4" height="3.4" fill="#000080"/>
<rect x="903.3" y="507.0" width="4.2" height="3.6" fill="#000080"/>
<rect x="904.4" y="512.6" width="3.7" height="1.6" fill="#000080"/>
<rect x="908.1" y="509.0" width="9.0" height="3.4" fill="#000080"/>
<rect x="912.6" y="512.6" width="4.7" height="1.6" fill="#000080"/>
<rect x="916.8" y="509.0" width="5.8" height="3.4" fill="#000080"/>
<rect x="919.0" y="512.6" width="5.1" height="1.6" fill="#000080"/>
<rect x="922.3" y="509.0" width="5.1" height="3.4" fill="#000080"/>
<rect x="923.1" y="506.0" width="3.6" height="3.6" fill="#000080"/>
<rect x="924.1" y="512.6" width="5.9" height="1.6" fill="#000080"/>
<rect x="927.1" y="510.0" width="4.3" height="3.4" fill="#000080"/>
<rect x="928.7" y="507.0" width="3.4" height="3.6" fill="#000080"/>
<rect x="931.1" y="509.0" width="4.7" height="3.4" fill="#000080"/>
<rect x="935.6" y="510.0" width="4.8" height="3.4" fill="#000080"/>
<rect x="937.1" y="507.0" width="2.6" height="3.6" fill="#000080"/>
<rect x="937.5" y="512.6" width="4.1" height="1.6" fill="#000080"/>
<rect x="940.1" y="509.0" width="5.2" height="3.4" fill="#000080"/>
<rect x="941.4" y="506.0" width="3.8" height="3.6" fill="#000080"/>
<rect x="945.0" y="509.0" width="3.8" height="3.4" fill="#000080"/>
<rect x="948.6" y="509.0" width="7.0" height="3.4" fill="#000080"/>
<rect x="955.3" y="509.0" width="5.6" height="3.4" fill="#000080"/>
<rect x="956.5" y="512.6" width="5.6" height="1.6" fill="#000080"/>
<rect x="960.5" y="509.0" width="8.2" height="3.4" fill="#000080"/>
<rect x="964.5" y="506.0" width="2.8" height="3.6" fill="#000080"/>
<rect x="968.4" y="510.0" width="9.2" height="3.4" fill="#000080"/>
<rect x="977.2" y="509.0" width="5.3" height="3.4" fill="#000080"/>
<rect x="978.6" y="506.0" width="3.5" height="3.6" fill="#000080"/>
<rect x="982.2" y="509.0" width="8.9" height="3.4" fill="#000080"/>
<rect x="985.1" y="506.0" width="4.8" height="3.6" fill="#000080"/>
<rect x="990.8" y="508.0" width="5.9" height="3.4" fill="#000080"/>
<rect x="991.1" y="505.0" width="3.5" height="3.6" fill="#000080"/>
<rect x="993.4" y="512.6" width="3.0" height="1.6" fill="#000080"/>
<rect x="996.5" y="509.0" width="4.7" height="3.4" fill="#000080"/>
<rect x="998.2" y="512.6" width="5.2" height="1.6" fill="#000080"/>
<rect x="1000.8" y="508.0" width="7.9" height="3.4" fill="#000080"/>
<rect x="1001.9" y="505.0" width="2.7" height="3.6" fill="#000080"/>
<rect x="1008.5" y="509.0" width="3.9" height="3.4" fill="#000080"/>
<rect x="1009.4" y="512.6" width="6.3" height="1.6" fill="#000080"/>
<rect x="1012.1" y="509.0" width="4.5" height="3.4" fill="#000080"/>
<rect x="1013.8" y="512.6" width="4.7" height="1.6" fill="#000080"/>
<rect x="1016.3" y="508.0" width="6.8" height="3.4" fill="#000080"/>
<rect x="1022.8" y="509.0" width="4.2" height="3.4" fill="#000080"/>
<rect x="1025.1" y="506.0" width="3.0" height="3.6" fill="#000080"/>
<rect x="1026.6" y="509.0" width="6.4" height="3.4" fill="#000080"/>
<rect x="1029.8" y="512.6" width="5.2" height="1.6" fill="#000080"/>
<rect x="1032.8" y="508.0" width="6.4" height="3.4" fill="#000080"/>
<rect x="1033.7" y="512.6" width="4.5" height="1.6" fill="#000080"/>
<rect x="1038.8" y="510.0" width="5.9" height="3.4" fill="#000080"/>
<rect x="1039.5" y="507.0" width="2.6" height="3.6" fill="#000080"/>
<rect x="1044.5" y="508.0" width="5.5" height="3.4" fill="#000080"/>
<rect x="1049.7" y="509.0" width="4.1" height="3.4" fill="#000080"/>
<rect x="1051.8" y="506.0" width="3.9" height="3.6" fill="#000080"/>
<rect x="1050.4" y="512.6" width="5.1" height="1.6" fill="#000080"/>
<rect x="1053.5" y="510.0" width="5.8" height="3.4" fill="#000080"/>
<rect x="1054.3" y="512.6" width="4.8" height="1.6" fill="#000080"/>
<rect x="1059.0" y="509.0" width="4.5" height="3.4" fill="#000080"/>
<rect x="1063.2" y="508.0" width="6.0" height="3.4" fill="#000080"/>
<rect x="1063.9" y="505.0" width="3.0" height="3.6" fill="#000080"/>
<rect x="1068.9" y="509.0" width="2.4" height="3.4" fill="#000080"/>
<rect x="1069.7" y="512.6" width="3.7" height="1.6" fill="#000080"/>
<rect x="664.5" y="491.8" width="3.0" height="3.0" fill="#000080"/>
<rect x="673.8" y="495.0" width="3.0" height="3.0" fill="#000080"/>
<rect x="940.3" y="488.3" width="3.0" height="3.0" fill="#000080"/>
<line x1="124.5" y1="663.3" x2="120.0" y2="673.0" stroke="#000080" stroke-width="3" stroke-linecap="square"/>
<line x1="119.2" y1="678.5" x2="118.0" y2="685.6" stroke="#000080" stroke-width="3" stroke-linecap="square"/>
<rect x="120.3" y="668.5" width="3.0" height="3.0" fill="#000080"/>
<rect x="123.2" y="662.5" width="3.0" height="3.0" fill="#000080"/>
<line x1="129.9" y1="661.2" x2="125.0" y2="673.7" stroke="#000080" stroke-width="3" stroke-linecap="square"/>
<line x1="124.2" y1="678.5" x2="123.0" y2="683.0" stroke="#000080" stroke-width="3" stroke-linecap="square"/>
<line x1="132.7" y1="661.1" x2="130.1" y2="673.4" stroke="#000080" stroke-width="3" stroke-linecap="square"/>
<line x1="129.3" y1="677.9" x2="128.1" y2="682.3" stroke="#000080" stroke-width="3" stroke-linecap="square"/>
<rect x="131.8" y="662.0" width="3.0" height="3.0" fill="#000080"/>
<line x1="139.8" y1="661.8" x2="136.9" y2="673.9" stroke="#000080" stroke-width="3" stroke-linecap="square"/>
<line x1="136.1" y1="679.0" x2="134.9" y2="684.3" stroke="#000080" stroke-width="3" stroke-linecap="square"/>
<rect x="137.9" y="666.6" width="3.0" height="3.0" fill="#000080"/>
<rect x="138.6" y="661.4" width="3.0" height="3.0" fill="#000080"/>
<line x1="146.9" y1="662.8" x2="142.7" y2="672.5" stroke="#000080" stroke-width="3" stroke-linecap="square"/>
<line x1="141.9" y1="678.7" x2="140.7" y2="682.5" stroke="#000080" stroke-width="3" stroke-linecap="square"/>
<line x1="152.9" y1="662.3" x2="149.5" y2="672.0" stroke="#000080" stroke-width="3" stroke-linecap="square"/>
<line x1="148.7" y1="678.2" x2="147.5" y2="686.8" stroke="#000080" stroke-width="3" stroke-linecap="square"/>
<rect x="151.0" y="668.7" width="3.0" height="3.0" fill="#000080"/>
<line x1="158.7" y1="661.2" x2="155.5" y2="671.5" stroke="#000080" stroke-width="3" stroke-linecap="square"/>
<rect x="158.7" y="660.8" width="3.0" height="3.0" fill="#000080"/>
<line x1="166.5" y1="663.4" x2="161.6" y2="672.2" stroke="#000080" stroke-width="3" stroke-linecap="square"/>
<line x1="160.8" y1="677.6" x2="159.6" y2="682.6" stroke="#000080" stroke-width="3" stroke-linecap="square"/>
<rect x="164.1" y="662.2" width="3.0" height="3.0" fill="#000080"/>
<line x1="172.0" y1="661.7" x2="168.1" y2="671.2" stroke="#000080" stroke-width="3" stroke-linecap="square"/>
<line x1="167.3" y1="678.3" x2="166.1" y2="686.1" stroke="#000080" stroke-width="3" stroke-linecap="square"/>
<line x1="177.1" y1="662.3" x2="172.9" y2="671.3" stroke="#000080" stroke-width="3" stroke-linecap="square"/>
<line x1="172.1" y1="678.4" x2="170.9" y2="683.5" stroke="#000080" stroke-width="3" stroke-linecap="square"/>
<rect x="175.1" y="662.1" width="3.0" height="3.0" fill="#000080"/>
<rect x="176.2" y="663.7" width="3.0" height="3.0" fill="#000080"/>
<line x1="182.5" y1="663.2" x2="179.6" y2="672.7" stroke="#000080" stroke-width="3" stroke-linecap="square"/>
<line x1="178.8" y1="678.8" x2="177.6" y2="682.5" stroke="#000080" stroke-width="3" stroke-linecap="square"/>
<line x1="188.4" y1="662.2" x2="184.6" y2="671.6" stroke="#000080" stroke-width="3" stroke-linecap="square"/>
<line x1="183.8" y1="678.1" x2="182.6" y2="682.2" stroke="#000080" stroke-width="3" stroke-linecap="square"/>
<rect x="184.9" y="661.7" width="3.0" height="3.0" fill="#000080"/>
<rect x="187.6" y="665.3" width="3.0" height="3.0" fill="#000080"/>
<line x1="195.1" y1="661.0" x2="191.4" y2="674.3" stroke="#000080" stroke-width="3" stroke-linecap="square"/>
<line x1="190.6" y1="678.4" x2="189.4" y2="685.5" stroke="#000080" stroke-width="3" stroke-linecap="square"/>
<rect x="193.9" y="662.0" width="3.0" height="3.0" fill="#000080"/>
<rect x="191.0" y="664.2" width="3.0" height="3.0" fill="#000080"/>
<line x1="200.0" y1="661.7" x2="197.3" y2="674.1" stroke="#000080" stroke-width="3" stroke-linecap="square"/>
<line x1="196.5" y1="677.9" x2="195.3" y2="684.4" stroke="#000080" stroke-width="3" stroke-linecap="square"/>
<line x1="207.1" y1="661.6" x2="202.2" y2="673.1" stroke="#000080" stroke-width="3" stroke-linecap="square"/>
<line x1="201.4" y1="678.4" x2="200.2" y2="685.6" stroke="#000080" stroke-width="3" stroke-linecap="square"/>
<rect x="204.9" y="664.9" width="3.0" height="3.0" fill="#000080"/>
<line x1="212.5" y1="661.0" x2="209.0" y2="674.3" stroke="#000080" stroke-width="3" stroke-linecap="square"/>
<line x1="208.2" y1="677.6" x2="207.0" y2="682.1" stroke="#000080" stroke-width="3" stroke-linecap="square"/>
<line x1="217.1" y1="661.9" x2="214.1" y2="671.5" stroke="#000080" stroke-width="3" stroke-linecap="square"/>
<line x1="213.3" y1="678.0" x2="212.1" y2="686.9" stroke="#000080" stroke-width="3" stroke-linecap="square"/>
<line x1="224.7" y1="662.2" x2="219.9" y2="673.7" stroke="#000080" stroke-width="3" stroke-linecap="square"/>
<line x1="219.1" y1="678.5" x2="217.9" y2="682.6" stroke="#000080" stroke-width="3" stroke-linecap="square"/>
<line x1="229.8" y1="661.2" x2="226.4" y2="673.5" stroke="#000080" stroke-width="3" stroke-linecap="square"/>
<line x1="225.6" y1="678.9" x2="224.4" y2="686.0" stroke="#000080" stroke-width="3" stroke-linecap="square"/>
<rect x="229.2" y="669.4" width="3.0" height="3.0" fill="#000080"/>
<line x1="237.7" y1="662.9" x2="233.2" y2="673.9" stroke="#000080" stroke-width="3" stroke-linecap="square"/>
<line x1="232.4" y1="678.2" x2="231.2" y2="686.1" stroke="#000080" stroke-width="3" stroke-linecap="square"/>
<line x1="243.5" y1="663.4" x2="238.6" y2="672.9" stroke="#000080" stroke-width="3" stroke-linecap="square"/>
<line x1="237.8" y1="679.0" x2="236.6" y2="686.7" stroke="#000080" stroke-width="3" stroke-linecap="square"/>
<rect x="241.5" y="662.7" width="3.0" height="3.0" fill="#000080"/>
<rect x="240.0" y="662.7" width="3.0" height="3.0" fill="#000080"/>
<line x1="248.8" y1="663.3" x2="244.5" y2="673.4" stroke="#000080" stroke-width="3" stroke-linecap="square"/>
<line x1="243.7" y1="678.7" x2="242.5" y2="686.4" stroke="#000080" stroke-width="3" stroke-linecap="square"/>
<line x1="255.2" y1="662.0" x2="251.1" y2="671.3" stroke="#000080" stroke-width="3" stroke-linecap="square"/>
<line x1="250.3" y1="678.0" x2="249.1" y2="684.6" stroke="#000080" stroke-width="3" stroke-linecap="square"/>
<line x1="258.6" y1="662.2" x2="255.9" y2="671.1" stroke="#000080" stroke-width="3" stroke-linecap="square"/>
<line x1="255.1" y1="678.1" x2="253.9" y2="684.8" stroke="#000080" stroke-width="3" stroke-linecap="square"/>
<rect x="256.2" y="663.9" width="3.0" height="3.0" fill="#000080"/>
<line x1="265.2" y1="662.5" x2="262.5" y2="672.0" stroke="#000080" stroke-width="3" stroke-linecap="square"/>
<line x1="261.7" y1="678.6" x2="260.5" y2="684.2" stroke="#000080" stroke-width="3" stroke-linecap="square"/>
<line x1="272.1" y1="662.7" x2="267.5" y2="671.1" stroke="#000080" stroke-width="3" stroke-linecap="square"/>
<line x1="266.7" y1="677.9" x2="265.5" y2="686.7" stroke="#000080" stroke-width="3" stroke-linecap="square"/>
<rect x="267.9" y="669.0" width="3.0" height="3.0" fill="#000080"/>
<line x1="279.2" y1="662.0" x2="274.3" y2="672.7" stroke="#000080" stroke-width="3" stroke-linecap="square"/>
<line x1="273.5" y1="679.0" x2="272.3" y2="683.1" stroke="#000080" stroke-width="3" stroke-linecap="square"/>
<rect x="275.9" y="660.5" width="3.0" height="3.0" fill="#000080"/>
<line x1="284.0" y1="663.4" x2="279.4" y2="672.6" stroke="#000080" stroke-width="3" stroke-linecap="square"/>
<line x1="278.6" y1="678.0" x2="277.4" y2="681.6" stroke="#000080" stroke-width="3" stroke-linecap="square"/>
<line x1="290.1" y1="661.9" x2="285.3" y2="674.3" stroke="#000080" stroke-width="3" stroke-linecap="square"/>
<line x1="284.5" y1="677.6" x2="283.3" y2="684.4" stroke="#000080" stroke-width="3" stroke-linecap="square"/>
<line x1="294.4" y1="662.7" x2="290.9" y2="673.2" stroke="#000080" stroke-width="3" stroke-linecap="square"/>
<line x1="290.1" y1="678.5" x2="288.9" y2="687.0" stroke="#000080" stroke-width="3" stroke-linecap="square"/>
<rect x="294.3" y="661.0" width="3.0" height="3.0" fill="#000080"/>
<line x1="301.2" y1="662.7" x2="297.5" y2="673.0" stroke="#000080" stroke-width="3" stroke-linecap="square"/>
<line x1="296.7" y1="678.8" x2="295.5" y2="686.2" stroke="#000080" stroke-width="3" stroke-linecap="square"/>
<rect x="298.3" y="661.8" width="3.0" height="3.0" fill="#000080"/>
<line x1="308.4" y1="663.2" x2="304.4" y2="671.5" stroke="#000080" stroke-width="3" stroke-linecap="square"/>
<line x1="303.6" y1="677.6" x2="302.4" y2="682.9" stroke="#000080" stroke-width="3" stroke-linecap="square"/>
<line x1="313.7" y1="662.9" x2="309.8" y2="672.0" stroke="#000080" stroke-width="3" stroke-linecap="square"/>
<line x1="309.0" y1="679.0" x2="307.8" y2="685.9" stroke="#000080" stroke-width="3" stroke-linecap="square"/>
<line x1="319.6" y1="663.4" x2="315.4" y2="673.5" stroke="#000080" stroke-width="3" stroke-linecap="square"/>
<line x1="314.6" y1="677.7" x2="313.4" y2="684.2" stroke="#000080" stroke-width="3" stroke-linecap="square"/>
<line x1="325.6" y1="661.3" x2="321.0" y2="672.8" stroke="#000080" stroke-width="3" stroke-linecap="square"/>
<line x1="320.2" y1="678.6" x2="319.0" y2="682.6" stroke="#000080" stroke-width="3" stroke-linecap="square"/>
<rect x="320.7" y="663.3" width="3.0" height="3.0" fill="#000080"/>
<rect x="324.3" y="669.6" width="3.0" height="3.0" fill="#000080"/>
<line x1="329.1" y1="661.8" x2="326.1" y2="674.3" stroke="#000080" stroke-width="3" stroke-linecap="square"/>
<line x1="325.3" y1="678.2" x2="324.1" y2="681.8" stroke="#000080" stroke-width="3" stroke-linecap="square"/>
<rect x="327.2" y="664.2" width="3.0" height="3.0" fill="#000080"/>
<line x1="630.6" y1="661.0" x2="627.0" y2="674.2" stroke="#000080" stroke-width="3" stroke-linecap="square"/>
<line x1="634.5" y1="660.9" x2="630.8" y2="673.6" stroke="#000080" stroke-width="3" stroke-linecap="square"/>
<line x1="630.0" y1="678.5" x2="628.8" y2="686.0" stroke="#000080" stroke-width="3" stroke-linecap="square"/>
<rect x="631.7" y="668.7" width="3.0" height="3.0" fill="#000080"/>
<rect x="631.5" y="666.0" width="3.0" height="3.0" fill="#000080"/>
<line x1="639.1" y1="662.4" x2="634.5" y2="671.1" stroke="#000080" stroke-width="3" stroke-linecap="square"/>
<line x1="633.7" y1="678.0" x2="632.5" y2="686.7" stroke="#000080" stroke-width="3" stroke-linecap="square"/>
<rect x="635.0" y="660.7" width="3.0" height="3.0" fill="#000080"/>
<rect x="637.0" y="666.4" width="3.0" height="3.0" fill="#000080"/>
<line x1="641.7" y1="662.5" x2="638.5" y2="671.4" stroke="#000080" stroke-width="3" stroke-linecap="square"/>
<line x1="637.7" y1="679.0" x2="636.5" y2="685.8" stroke="#000080" stroke-width="3" stroke-linecap="square"/>
<line x1="645.7" y1="662.9" x2="642.4" y2="673.6" stroke="#000080" stroke-width="3" stroke-linecap="square"/>
<line x1="641.6" y1="678.7" x2="640.4" y2="683.8" stroke="#000080" stroke-width="3" stroke-linecap="square"/>
<rect x="645.4" y="665.1" width="3.0" height="3.0" fill="#000080"/>
<rect x="644.6" y="668.6" width="3.0" height="3.0" fill="#000080"/>
<line x1="649.4" y1="661.3" x2="645.9" y2="671.2" stroke="#000080" stroke-width="3" stroke-linecap="square"/>
<line x1="645.1" y1="678.8" x2="643.9" y2="685.8" stroke="#000080" stroke-width="3" stroke-linecap="square"/>
<rect x="647.0" y="665.5" width="3.0" height="3.0" fill="#000080"/>
<rect x="648.8" y="667.5" width="3.0" height="3.0" fill="#000080"/>
<line x1="654.9" y1="660.9" x2="650.5" y2="673.4" stroke="#000080" stroke-width="3" stroke-linecap="square"/>
<line x1="649.7" y1="678.8" x2="648.5" y2="687.2" stroke="#000080" stroke-width="3" stroke-linecap="square"/>
<line x1="659.1" y1="662.7" x2="654.8" y2="671.5" stroke="#000080" stroke-width="3" stroke-linecap="square"/>
<line x1="654.0" y1="678.4" x2="652.8" y2="683.1" stroke="#000080" stroke-width="3" stroke-linecap="square"/>
<rect x="656.7" y="667.8" width="3.0" height="3.0" fill="#000080"/>
<rect x="655.2" y="662.1" width="3.0" height="3.0" fill="#000080"/>
<line x1="662.8" y1="662.2" x2="658.3" y2="674.4" stroke="#000080" stroke-width="3" stroke-linecap="square"/>
<line x1="657.5" y1="678.5" x2="656.3" y2="682.0" stroke="#000080" stroke-width="3" stroke-linecap="square"/>
<rect x="657.8" y="666.0" width="3.0" height="3.0" fill="#000080"/>
<line x1="665.4" y1="661.2" x2="661.8" y2="671.2" stroke="#000080" stroke-width="3" stroke-linecap="square"/>
<line x1="661.0" y1="678.7" x2="659.8" y2="681.9" stroke="#000080" stroke-width="3" stroke-linecap="square"/>
<rect x="662.2" y="666.0" width="3.0" height="3.0" fill="#000080"/>
<line x1="668.7" y1="661.3" x2="665.6" y2="673.0" stroke="#000080" stroke-width="3" stroke-linecap="square"/>
<line x1="664.8" y1="677.8" x2="663.6" y2="685.8" stroke="#000080" stroke-width="3" stroke-linecap="square"/>
<rect x="665.3" y="667.4" width="3.0" height="3.0" fill="#000080"/>
<line x1="671.6" y1="661.8" x2="669.0" y2="672.5" stroke="#000080" stroke-width="3" stroke-linecap="square"/>
<line x1="668.2" y1="678.6" x2="667.0" y2="685.1" stroke="#000080" stroke-width="3" stroke-linecap="square"/>
<rect x="670.5" y="665.6" width="3.0" height="3.0" fill="#000080"/>
<rect x="672.0" y="669.5" width="3.0" height="3.0" fill="#000080"/>
<line x1="678.5" y1="662.9" x2="673.6" y2="672.2" stroke="#000080" stroke-width="3" stroke-linecap="square"/>
<line x1="672.8" y1="678.2" x2="671.6" y2="682.0" stroke="#000080" stroke-width="3" stroke-linecap="square"/>
<rect x="675.8" y="666.7" width="3.0" height="3.0" fill="#000080"/>
<rect x="674.4" y="661.8" width="3.0" height="3.0" fill="#000080"/>
<line x1="681.8" y1="661.2" x2="677.5" y2="671.7" stroke="#000080" stroke-width="3" stroke-linecap="square"/>
<line x1="676.7" y1="678.2" x2="675.5" y2="682.3" stroke="#000080" stroke-width="3" stroke-linecap="square"/>
<rect x="678.0" y="665.3" width="3.0" height="3.0" fill="#000080"/>
<line x1="686.8" y1="662.9" x2="681.9" y2="673.6" stroke="#000080" stroke-width="3" stroke-linecap="square"/>
<line x1="689.9" y1="661.0" x2="685.3" y2="671.0" stroke="#000080" stroke-width="3" stroke-linecap="square"/>
<line x1="684.5" y1="678.4" x2="683.3" y2="683.0" stroke="#000080" stroke-width="3" stroke-linecap="square"/>
<rect x="685.4" y="666.0" width="3.0" height="3.0" fill="#000080"/>
<line x1="692.5" y1="660.6" x2="689.1" y2="671.6" stroke="#000080" stroke-width="3" stroke-linecap="square"/>
<rect x="689.0" y="661.0" width="3.0" height="3.0" fill="#000080"/>
<line x1="697.6" y1="662.4" x2="692.6" y2="672.6" stroke="#000080" stroke-width="3" stroke-linecap="square"/>
<rect x="695.4" y="661.2" width="3.0" height="3.0" fill="#000080"/>
<line x1="699.1" y1="661.9" x2="696.1" y2="672.8" stroke="#000080" stroke-width="3" stroke-linecap="square"/>
<line x1="695.3" y1="677.5" x2="694.1" y2="686.0" stroke="#000080" stroke-width="3" stroke-linecap="square"/>
<line x1="704.4" y1="661.6" x2="700.9" y2="673.6" stroke="#000080" stroke-width="3" stroke-linecap="square"/>
<rect x="700.5" y="662.0" width="3.0" height="3.0" fill="#000080"/>
<line x1="709.7" y1="661.4" x2="705.2" y2="671.0" stroke="#000080" stroke-width="3" stroke-linecap="square"/>
<line x1="704.4" y1="678.2" x2="703.2" y2="681.5" stroke="#000080" stroke-width="3" stroke-linecap="square"/>
<rect x="704.9" y="663.1" width="3.0" height="3.0" fill="#000080"/>
<line x1="713.5" y1="662.7" x2="709.4" y2="672.7" stroke="#000080" stroke-width="3" stroke-linecap="square"/>
<line x1="708.6" y1="677.9" x2="707.4" y2="686.3" stroke="#000080" stroke-width="3" stroke-linecap="square"/>
<rect x="709.4" y="665.6" width="3.0" height="3.0" fill="#000080"/>
<rect x="709.7" y="664.3" width="3.0" height="3.0" fill="#000080"/>
<line x1="717.3" y1="662.1" x2="713.7" y2="673.5" stroke="#000080" stroke-width="3" stroke-linecap="square"/>
<line x1="712.9" y1="678.6" x2="711.7" y2="681.9" stroke="#000080" stroke-width="3" stroke-linecap="square"/>
<rect x="714.8" y="666.4" width="3.0" height="3.0" fill="#000080"/>
<line x1="721.0" y1="662.1" x2="717.3" y2="673.4" stroke="#000080" stroke-width="3" stroke-linecap="square"/>
<line x1="716.5" y1="678.9" x2="715.3" y2="685.5" stroke="#000080" stroke-width="3" stroke-linecap="square"/>
<rect x="717.8" y="669.4" width="3.0" height="3.0" fill="#000080"/>
<rect x="718.4" y="667.5" width="3.0" height="3.0" fill="#000080"/>
<line x1="724.5" y1="662.1" x2="721.9" y2="673.6" stroke="#000080" stroke-width="3" stroke-linecap="square"/>
<line x1="721.1" y1="679.0" x2="719.9" y2="686.8" stroke="#000080" stroke-width="3" stroke-linecap="square"/>
<rect x="721.6" y="662.3" width="3.0" height="3.0" fill="#000080"/>
<line x1="729.7" y1="662.2" x2="725.6" y2="674.3" stroke="#000080" stroke-width="3" stroke-linecap="square"/>
<rect x="725.7" y="660.2" width="3.0" height="3.0" fill="#000080"/>
<line x1="732.0" y1="662.9" x2="729.0" y2="673.5" stroke="#000080" stroke-width="3" stroke-linecap="square"/>
<rect x="730.6" y="661.0" width="3.0" height="3.0" fill="#000080"/>
<line x1="738.4" y1="662.8" x2="733.7" y2="671.0" stroke="#000080" stroke-width="3" stroke-linecap="square"/>
<line x1="732.9" y1="678.7" x2="731.7" y2="684.7" stroke="#000080" stroke-width="3" stroke-linecap="square"/>
<rect x="735.6" y="667.6" width="3.0" height="3.0" fill="#000080"/>
<rect x="733.5" y="665.2" width="3.0" height="3.0" fill="#000080"/>
<line x1="741.9" y1="661.5" x2="737.5" y2="671.0" stroke="#000080" stroke-width="3" stroke-linecap="square"/>
<line x1="736.7" y1="678.7" x2="735.5" y2="686.6" stroke="#000080" stroke-width="3" stroke-linecap="square"/>
<rect x="737.5" y="666.2" width="3.0" height="3.0" fill="#000080"/>
<rect x="738.7" y="661.0" width="3.0" height="3.0" fill="#000080"/>
<line x1="745.1" y1="661.9" x2="742.3" y2="672.2" stroke="#000080" stroke-width="3" stroke-linecap="square"/>
<line x1="741.5" y1="678.8" x2="740.3" y2="686.9" stroke="#000080" stroke-width="3" stroke-linecap="square"/>
<rect x="743.3" y="662.9" width="3.0" height="3.0" fill="#000080"/>
<line x1="750.3" y1="662.0" x2="745.9" y2="674.4" stroke="#000080" stroke-width="3" stroke-linecap="square"/>
<line x1="745.1" y1="677.6" x2="743.9" y2="681.3" stroke="#000080" stroke-width="3" stroke-linecap="square"/>
<rect x="747.4" y="664.3" width="3.0" height="3.0" fill="#000080"/>
<line x1="754.6" y1="662.0" x2="749.8" y2="673.3" stroke="#000080" stroke-width="3" stroke-linecap="square"/>
<line x1="749.0" y1="678.7" x2="747.8" y2="687.2" stroke="#000080" stroke-width="3" stroke-linecap="square"/>
<line x1="756.7" y1="662.2" x2="753.2" y2="674.0" stroke="#000080" stroke-width="3" stroke-linecap="square"/>
<rect x="756.4" y="664.2" width="3.0" height="3.0" fill="#000080"/>
<line x1="760.2" y1="661.3" x2="756.9" y2="672.2" stroke="#000080" stroke-width="3" stroke-linecap="square"/>
<line x1="756.1" y1="678.2" x2="754.9" y2="687.0" stroke="#000080" stroke-width="3" stroke-linecap="square"/>
<line x1="765.7" y1="662.6" x2="761.4" y2="674.5" stroke="#000080" stroke-width="3" stroke-linecap="square"/>
<line x1="760.6" y1="677.9" x2="759.4" y2="683.3" stroke="#000080" stroke-width="3" stroke-linecap="square"/>
<rect x="761.8" y="668.4" width="3.0" height="3.0" fill="#000080"/>
<line x1="769.9" y1="662.4" x2="765.2" y2="673.7" stroke="#000080" stroke-width="3" stroke-linecap="square"/>
<line x1="764.4" y1="678.3" x2="763.2" y2="681.9" stroke="#000080" stroke-width="3" stroke-linecap="square"/>
<rect x="767.2" y="663.5" width="3.0" height="3.0" fill="#000080"/>
<line x1="773.2" y1="662.9" x2="769.3" y2="671.6" stroke="#000080" stroke-width="3" stroke-linecap="square"/>
<line x1="768.5" y1="678.3" x2="767.3" y2="686.9" stroke="#000080" stroke-width="3" stroke-linecap="square"/>
<rect x="772.5" y="666.6" width="3.0" height="3.0" fill="#000080"/>
<line x1="777.5" y1="661.0" x2="772.8" y2="672.0" stroke="#000080" stroke-width="3" stroke-linecap="square"/>
<line x1="772.0" y1="677.9" x2="770.8" y2="685.2" stroke="#000080" stroke-width="3" stroke-linecap="square"/>
<rect x="774.0" y="666.5" width="3.0" height="3.0" fill="#000080"/>
<line x1="780.3" y1="662.4" x2="777.2" y2="673.6" stroke="#000080" stroke-width="3" stroke-linecap="square"/>
<line x1="776.4" y1="677.5" x2="775.2" y2="684.7" stroke="#000080" stroke-width="3" stroke-linecap="square"/>
<rect x="777.7" y="669.2" width="3.0" height="3.0" fill="#000080"/>
<line x1="785.6" y1="662.1" x2="781.4" y2="673.1" stroke="#000080" stroke-width="3" stroke-linecap="square"/>
<line x1="780.6" y1="677.6" x2="779.4" y2="681.0" stroke="#000080" stroke-width="3" stroke-linecap="square"/>
<rect x="782.3" y="661.4" width="3.0" height="3.0" fill="#000080"/>
<rect x="782.9" y="669.2" width="3.0" height="3.0" fill="#000080"/>
<line x1="788.7" y1="661.2" x2="785.8" y2="673.7" stroke="#000080" stroke-width="3" stroke-linecap="square"/>
<line x1="785.0" y1="678.0" x2="783.8" y2="683.4" stroke="#000080" stroke-width="3" stroke-linecap="square"/>
<rect x="788.2" y="660.9" width="3.0" height="3.0" fill="#000080"/>
<line x1="793.1" y1="661.4" x2="790.5" y2="673.9" stroke="#000080" stroke-width="3" stroke-linecap="square"/>
<rect x="793.4" y="667.6" width="3.0" height="3.0" fill="#000080"/>
<line x1="799.0" y1="660.5" x2="794.3" y2="671.7" stroke="#000080" stroke-width="3" stroke-linecap="square"/>
<line x1="793.5" y1="678.5" x2="792.3" y2="685.0" stroke="#000080" stroke-width="3" stroke-linecap="square"/>
<rect x="794.3" y="660.9" width="3.0" height="3.0" fill="#000080"/>
<line x1="803.0" y1="661.5" x2="799.1" y2="673.3" stroke="#000080" stroke-width="3" stroke-linecap="square"/>
<line x1="798.3" y1="677.6" x2="797.1" y2="680.7" stroke="#000080" stroke-width="3" stroke-linecap="square"/>
<rect x="802.5" y="663.5" width="3.0" height="3.0" fill="#000080"/>
<line x1="806.7" y1="660.8" x2="803.5" y2="673.8" stroke="#000080" stroke-width="3" stroke-linecap="square"/>
<line x1="802.7" y1="678.3" x2="801.5" y2="682.0" stroke="#000080" stroke-width="3" stroke-linecap="square"/>
<rect x="806.2" y="662.7" width="3.0" height="3.0" fill="#000080"/>
<rect x="806.1" y="662.1" width="3.0" height="3.0" fill="#000080"/>
<line x1="810.6" y1="661.0" x2="807.2" y2="672.3" stroke="#000080" stroke-width="3" stroke-linecap="square"/>
<line x1="806.4" y1="678.2" x2="805.2" y2="686.4" stroke="#000080" stroke-width="3" stroke-linecap="square"/>
<rect x="809.3" y="667.9" width="3.0" height="3.0" fill="#000080"/>
<rect x="806.8" y="664.2" width="3.0" height="3.0" fill="#000080"/>
<line x1="813.4" y1="661.6" x2="810.6" y2="673.5" stroke="#000080" stroke-width="3" stroke-linecap="square"/>
<line x1="809.8" y1="678.2" x2="808.6" y2="682.3" stroke="#000080" stroke-width="3" stroke-linecap="square"/>
<rect x="811.9" y="661.1" width="3.0" height="3.0" fill="#000080"/>
<rect x="811.6" y="664.5" width="3.0" height="3.0" fill="#000080"/>
<line x1="818.5" y1="661.9" x2="815.4" y2="671.3" stroke="#000080" stroke-width="3" stroke-linecap="square"/>
<line x1="814.6" y1="678.3" x2="813.4" y2="686.6" stroke="#000080" stroke-width="3" stroke-linecap="square"/>
<line x1="822.0" y1="662.9" x2="818.9" y2="672.8" stroke="#000080" stroke-width="3" stroke-linecap="square"/>
<line x1="818.1" y1="678.8" x2="816.9" y2="683.1" stroke="#000080" stroke-width="3" stroke-linecap="square"/>
<rect x="819.4" y="668.8" width="3.0" height="3.0" fill="#000080"/>
<rect x="821.3" y="660.7" width="3.0" height="3.0" fill="#000080"/>
<line x1="827.1" y1="661.3" x2="822.9" y2="671.7" stroke="#000080" stroke-width="3" stroke-linecap="square"/>
<line x1="822.1" y1="677.7" x2="820.9" y2="686.6" stroke="#000080" stroke-width="3" stroke-linecap="square"/>
<rect x="823.1" y="660.1" width="3.0" height="3.0" fill="#000080"/>
<line x1="831.4" y1="660.6" x2="827.0" y2="672.6" stroke="#000080" stroke-width="3" stroke-linecap="square"/>
<line x1="826.2" y1="677.9" x2="825.0" y2="683.8" stroke="#000080" stroke-width="3" stroke-linecap="square"/>
<rect x="829.1" y="661.4" width="3.0" height="3.0" fill="#000080"/>
<line x1="835.2" y1="662.4" x2="831.8" y2="674.0" stroke="#000080" stroke-width="3" stroke-linecap="square"/>
<rect x="832.2" y="665.7" width="3.0" height="3.0" fill="#000080"/>
<line x1="838.8" y1="661.0" x2="835.2" y2="671.1" stroke="#000080" stroke-width="3" stroke-linecap="square"/>
<line x1="834.4" y1="677.8" x2="833.2" y2="685.3" stroke="#000080" stroke-width="3" stroke-linecap="square"/>
<rect x="838.5" y="663.8" width="3.0" height="3.0" fill="#000080"/>
<line x1="842.2" y1="662.9" x2="838.6" y2="671.8" stroke="#000080" stroke-width="3" stroke-linecap="square"/>
<line x1="837.8" y1="678.9" x2="836.6" y2="684.9" stroke="#000080" stroke-width="3" stroke-linecap="square"/>
<rect x="838.9" y="667.9" width="3.0" height="3.0" fill="#000080"/>
<line x1="845.2" y1="663.0" x2="842.2" y2="672.6" stroke="#000080" stroke-width="3" stroke-linecap="square"/>
<rect x="843.3" y="663.3" width="3.0" height="3.0" fill="#000080"/>
<line x1="850.1" y1="661.4" x2="845.5" y2="671.6" stroke="#000080" stroke-width="3" stroke-linecap="square"/>
<line x1="844.7" y1="678.4" x2="843.5" y2="683.0" stroke="#000080" stroke-width="3" stroke-linecap="square"/>
<rect x="847.3" y="666.8" width="3.0" height="3.0" fill="#000080"/>
<rect x="846.0" y="661.1" width="3.0" height="3.0" fill="#000080"/>
<line x1="854.1" y1="660.9" x2="850.3" y2="671.5" stroke="#000080" stroke-width="3" stroke-linecap="square"/>
<line x1="849.5" y1="678.8" x2="848.3" y2="682.2" stroke="#000080" stroke-width="3" stroke-linecap="square"/>
<rect x="850.5" y="665.6" width="3.0" height="3.0" fill="#000080"/>
<rect x="851.5" y="668.4" width="3.0" height="3.0" fill="#000080"/>
<line x1="857.8" y1="662.7" x2="854.7" y2="674.3" stroke="#000080" stroke-width="3" stroke-linecap="square"/>
<rect x="854.4" y="668.7" width="3.0" height="3.0" fill="#000080"/>
<rect x="854.2" y="662.8" width="3.0" height="3.0" fill="#000080"/>
<line x1="862.0" y1="662.9" x2="858.4" y2="674.0" stroke="#000080" stroke-width="3" stroke-linecap="square"/>
<line x1="857.6" y1="678.8" x2="856.4" y2="686.6" stroke="#000080" stroke-width="3" stroke-linecap="square"/>
<rect x="858.4" y="662.3" width="3.0" height="3.0" fill="#000080"/>
<line x1="867.5" y1="662.0" x2="862.7" y2="673.8" stroke="#000080" stroke-width="3" stroke-linecap="square"/>
<rect x="862.6" y="668.5" width="3.0" height="3.0" fill="#000080"/>
<rect x="863.0" y="666.6" width="3.0" height="3.0" fill="#000080"/>
<line x1="870.3" y1="661.1" x2="866.5" y2="672.3" stroke="#000080" stroke-width="3" stroke-linecap="square"/>
<line x1="865.7" y1="677.6" x2="864.5" y2="685.1" stroke="#000080" stroke-width="3" stroke-linecap="square"/>
<rect x="867.8" y="666.4" width="3.0" height="3.0" fill="#000080"/>
<line x1="874.0" y1="661.7" x2="869.8" y2="673.4" stroke="#000080" stroke-width="3" stroke-linecap="square"/>
<line x1="869.0" y1="677.8" x2="867.8" y2="686.5" stroke="#000080" stroke-width="3" stroke-linecap="square"/>
<rect x="871.0" y="669.1" width="3.0" height="3.0" fill="#000080"/>
<line x1="878.2" y1="661.5" x2="873.4" y2="674.4" stroke="#000080" stroke-width="3" stroke-linecap="square"/>
<line x1="872.6" y1="678.6" x2="871.4" y2="683.8" stroke="#000080" stroke-width="3" stroke-linecap="square"/>
<line x1="880.1" y1="661.1" x2="876.9" y2="671.8" stroke="#000080" stroke-width="3" stroke-linecap="square"/>
<line x1="876.1" y1="677.7" x2="874.9" y2="683.1" stroke="#000080" stroke-width="3" stroke-linecap="square"/>
<rect x="876.7" y="665.5" width="3.0" height="3.0" fill="#000080"/>
<line x1="884.7" y1="661.4" x2="881.1" y2="673.5" stroke="#000080" stroke-width="3" stroke-linecap="square"/>
<line x1="880.3" y1="678.2" x2="879.1" y2="681.3" stroke="#000080" stroke-width="3" stroke-linecap="square"/>
<rect x="882.1" y="669.1" width="3.0" height="3.0" fill="#000080"/>
<line x1="889.7" y1="662.6" x2="885.6" y2="673.2" stroke="#000080" stroke-width="3" stroke-linecap="square"/>
<line x1="884.8" y1="678.9" x2="883.6" y2="683.1" stroke="#000080" stroke-width="3" stroke-linecap="square"/>
<rect x="886.1" y="667.8" width="3.0" height="3.0" fill="#000080"/>
<line x1="893.8" y1="662.6" x2="889.9" y2="674.1" stroke="#000080" stroke-width="3" stroke-linecap="square"/>
<line x1="889.1" y1="677.5" x2="887.9" y2="683.7" stroke="#000080" stroke-width="3" stroke-linecap="square"/>
<rect x="889.6" y="660.0" width="3.0" height="3.0" fill="#000080"/>
<line x1="896.5" y1="662.2" x2="893.4" y2="671.0" stroke="#000080" stroke-width="3" stroke-linecap="square"/>
<line x1="892.6" y1="678.6" x2="891.4" y2="687.5" stroke="#000080" stroke-width="3" stroke-linecap="square"/>
<rect x="893.4" y="668.9" width="3.0" height="3.0" fill="#000080"/>
<line x1="900.3" y1="661.3" x2="897.0" y2="672.8" stroke="#000080" stroke-width="3" stroke-linecap="square"/>
<line x1="896.2" y1="678.2" x2="895.0" y2="682.8" stroke="#000080" stroke-width="3" stroke-linecap="square"/>
<rect x="896.8" y="661.5" width="3.0" height="3.0" fill="#000080"/>
<rect x="899.0" y="666.6" width="3.0" height="3.0" fill="#000080"/>
<line x1="903.4" y1="661.3" x2="900.0" y2="673.1" stroke="#000080" stroke-width="3" stroke-linecap="square"/>
<line x1="899.2" y1="677.8" x2="898.0" y2="686.4" stroke="#000080" stroke-width="3" stroke-linecap="square"/>
<rect x="899.7" y="660.3" width="3.0" height="3.0" fill="#000080"/>
<line x1="908.4" y1="661.1" x2="903.9" y2="671.3" stroke="#000080" stroke-width="3" stroke-linecap="square"/>
<rect x="905.8" y="660.6" width="3.0" height="3.0" fill="#000080"/>
<line x1="911.2" y1="661.3" x2="908.5" y2="671.3" stroke="#000080" stroke-width="3" stroke-linecap="square"/>
<line x1="907.7" y1="678.3" x2="906.5" y2="682.2" stroke="#000080" stroke-width="3" stroke-linecap="square"/>
<rect x="910.3" y="659.8" width="3.0" height="3.0" fill="#000080"/>
<line x1="916.0" y1="659.9" x2="912.2" y2="672.0" stroke="#000080" stroke-width="3" stroke-linecap="square"/>
<line x1="911.4" y1="677.5" x2="910.2" y2="684.9" stroke="#000080" stroke-width="3" stroke-linecap="square"/>
<rect x="912.8" y="664.9" width="3.0" height="3.0" fill="#000080"/>
<line x1="919.7" y1="661.6" x2="916.4" y2="671.2" stroke="#000080" stroke-width="3" stroke-linecap="square"/>
<line x1="915.6" y1="677.9" x2="914.4" y2="681.8" stroke="#000080" stroke-width="3" stroke-linecap="square"/>
<rect x="919.0" y="666.7" width="3.0" height="3.0" fill="#000080"/>
<line x1="924.5" y1="661.3" x2="921.2" y2="671.6" stroke="#000080" stroke-width="3" stroke-linecap="square"/>
<line x1="920.4" y1="677.6" x2="919.2" y2="684.2" stroke="#000080" stroke-width="3" stroke-linecap="square"/>
<rect x="920.9" y="663.7" width="3.0" height="3.0" fill="#000080"/>
<rect x="924.4" y="667.1" width="3.0" height="3.0" fill="#000080"/>
<line x1="929.0" y1="659.8" x2="925.3" y2="670.9" stroke="#000080" stroke-width="3" stroke-linecap="square"/>
<line x1="924.5" y1="678.0" x2="923.3" y2="685.3" stroke="#000080" stroke-width="3" stroke-linecap="square"/>
<rect x="927.9" y="659.8" width="3.0" height="3.0" fill="#000080"/>
<rect x="926.3" y="663.4" width="3.0" height="3.0" fill="#000080"/>
<line x1="932.2" y1="661.0" x2="928.9" y2="671.3" stroke="#000080" stroke-width="3" stroke-linecap="square"/>
<line x1="928.1" y1="678.6" x2="926.9" y2="686.2" stroke="#000080" stroke-width="3" stroke-linecap="square"/>
<rect x="930.2" y="667.6" width="3.0" height="3.0" fill="#000080"/>
<line x1="937.3" y1="659.6" x2="933.2" y2="672.1" stroke="#000080" stroke-width="3" stroke-linecap="square"/>
<line x1="932.4" y1="677.6" x2="931.2" y2="686.4" stroke="#000080" stroke-width="3" stroke-linecap="square"/>
<rect x="934.6" y="664.7" width="3.0" height="3.0" fill="#000080"/>
<line x1="941.4" y1="659.5" x2="937.0" y2="673.1" stroke="#000080" stroke-width="3" stroke-linecap="square"/>
<line x1="936.2" y1="677.6" x2="935.0" y2="683.0" stroke="#000080" stroke-width="3" stroke-linecap="square"/>
<rect x="940.4" y="659.3" width="3.0" height="3.0" fill="#000080"/>
<rect x="939.6" y="660.1" width="3.0" height="3.0" fill="#000080"/>
<line x1="944.3" y1="659.5" x2="940.5" y2="671.1" stroke="#000080" stroke-width="3" stroke-linecap="square"/>
<rect x="940.7" y="666.1" width="3.0" height="3.0" fill="#000080"/>
<rect x="941.3" y="660.0" width="3.0" height="3.0" fill="#000080"/>
<line x1="947.3" y1="661.7" x2="944.2" y2="670.9" stroke="#000080" stroke-width="3" stroke-linecap="square"/>
<line x1="943.4" y1="678.8" x2="942.2" y2="687.3" stroke="#000080" stroke-width="3" stroke-linecap="square"/>
<rect x="947.5" y="664.5" width="3.0" height="3.0" fill="#000080"/>
<rect x="945.5" y="665.6" width="3.0" height="3.0" fill="#000080"/>
<line x1="953.5" y1="659.6" x2="948.6" y2="671.2" stroke="#000080" stroke-width="3" stroke-linecap="square"/>
<line x1="947.8" y1="678.7" x2="946.6" y2="683.8" stroke="#000080" stroke-width="3" stroke-linecap="square"/>
<rect x="949.1" y="663.3" width="3.0" height="3.0" fill="#000080"/>
<line x1="955.1" y1="661.4" x2="952.1" y2="671.6" stroke="#000080" stroke-width="3" stroke-linecap="square"/>
<line x1="951.3" y1="678.0" x2="950.1" y2="682.1" stroke="#000080" stroke-width="3" stroke-linecap="square"/>
<rect x="954.9" y="667.0" width="3.0" height="3.0" fill="#000080"/>
<rect x="951.7" y="666.1" width="3.0" height="3.0" fill="#000080"/>
<line x1="959.7" y1="661.5" x2="956.4" y2="673.8" stroke="#000080" stroke-width="3" stroke-linecap="square"/>
<rect x="957.4" y="662.4" width="3.0" height="3.0" fill="#000080"/>
<line x1="963.3" y1="660.2" x2="960.3" y2="670.9" stroke="#000080" stroke-width="3" stroke-linecap="square"/>
<rect x="962.3" y="667.2" width="3.0" height="3.0" fill="#000080"/>
<line x1="968.9" y1="661.6" x2="963.9" y2="673.3" stroke="#000080" stroke-width="3" stroke-linecap="square"/>
<line x1="963.1" y1="678.6" x2="961.9" y2="686.5" stroke="#000080" stroke-width="3" stroke-linecap="square"/>
<rect x="966.1" y="662.4" width="3.0" height="3.0" fill="#000080"/>
<line x1="972.0" y1="660.6" x2="967.5" y2="671.7" stroke="#000080" stroke-width="3" stroke-linecap="square"/>
<line x1="966.7" y1="678.8" x2="965.5" y2="686.9" stroke="#000080" stroke-width="3" stroke-linecap="square"/>
<rect x="970.7" y="665.9" width="3.0" height="3.0" fill="#000080"/>
<line x1="976.5" y1="660.9" x2="971.8" y2="670.7" stroke="#000080" stroke-width="3" stroke-linecap="square"/>
<line x1="971.0" y1="678.2" x2="969.8" y2="683.2" stroke="#000080" stroke-width="3" stroke-linecap="square"/>
<line x1="979.6" y1="659.8" x2="976.5" y2="671.7" stroke="#000080" stroke-width="3" stroke-linecap="square"/>
<line x1="975.7" y1="678.0" x2="974.5" y2="681.1" stroke="#000080" stroke-width="3" stroke-linecap="square"/>
<rect x="976.3" y="659.4" width="3.0" height="3.0" fill="#000080"/>
<line x1="984.5" y1="659.8" x2="980.9" y2="672.1" stroke="#000080" stroke-width="3" stroke-linecap="square"/>
<rect x="983.0" y="667.3" width="3.0" height="3.0" fill="#000080"/>
<line x1="988.3" y1="661.5" x2="985.0" y2="673.1" stroke="#000080" stroke-width="3" stroke-linecap="square"/>
<rect x="984.9" y="664.4" width="3.0" height="3.0" fill="#000080"/>
<line x1="993.8" y1="660.5" x2="989.1" y2="672.0" stroke="#000080" stroke-width="3" stroke-linecap="square"/>
<line x1="988.3" y1="677.8" x2="987.1" y2="683.0" stroke="#000080" stroke-width="3" stroke-linecap="square"/>
<rect x="992.4" y="665.4" width="3.0" height="3.0" fill="#000080"/>
<rect x="992.3" y="659.1" width="3.0" height="3.0" fill="#000080"/>
<line x1="996.9" y1="660.4" x2="993.3" y2="673.0" stroke="#000080" stroke-width="3" stroke-linecap="square"/>
<line x1="992.5" y1="678.3" x2="991.3" y2="686.2" stroke="#000080" stroke-width="3" stroke-linecap="square"/>
<rect x="993.7" y="665.9" width="3.0" height="3.0" fill="#000080"/>
<line x1="1002.9" y1="659.8" x2="997.9" y2="673.6" stroke="#000080" stroke-width="3" stroke-linecap="square"/>
<line x1="997.1" y1="678.1" x2="995.9" y2="685.3" stroke="#000080" stroke-width="3" stroke-linecap="square"/>
<rect x="998.6" y="661.9" width="3.0" height="3.0" fill="#000080"/>
<line x1="1006.1" y1="659.8" x2="1002.3" y2="672.4" stroke="#000080" stroke-width="3" stroke-linecap="square"/>
<line x1="1001.5" y1="677.7" x2="1000.3" y2="686.5" stroke="#000080" stroke-width="3" stroke-linecap="square"/>
<rect x="1005.0" y="660.5" width="3.0" height="3.0" fill="#000080"/>
<line x1="1011.7" y1="660.7" x2="1007.1" y2="673.2" stroke="#000080" stroke-width="3" stroke-linecap="square"/>
<line x1="1006.3" y1="678.9" x2="1005.1" y2="683.1" stroke="#000080" stroke-width="3" stroke-linecap="square"/>
<rect x="1008.6" y="667.3" width="3.0" height="3.0" fill="#000080"/>
<line x1="1015.8" y1="660.6" x2="1011.9" y2="673.8" stroke="#000080" stroke-width="3" stroke-linecap="square"/>
<line x1="1011.1" y1="678.4" x2="1009.9" y2="686.3" stroke="#000080" stroke-width="3" stroke-linecap="square"/>
<rect x="1013.8" y="661.3" width="3.0" height="3.0" fill="#000080"/>
<rect x="1013.1" y="663.7" width="3.0" height="3.0" fill="#000080"/>
<line x1="1019.3" y1="659.5" x2="1015.9" y2="670.5" stroke="#000080" stroke-width="3" stroke-linecap="square"/>
<line x1="1015.1" y1="678.6" x2="1013.9" y2="683.0" stroke="#000080" stroke-width="3" stroke-linecap="square"/>
<rect x="1017.5" y="660.5" width="3.0" height="3.0" fill="#000080"/>
<rect x="1019.0" y="660.7" width="3.0" height="3.0" fill="#000080"/>
<line x1="1024.4" y1="661.1" x2="1020.1" y2="673.1" stroke="#000080" stroke-width="3" stroke-linecap="square"/>
<line x1="1019.3" y1="677.9" x2="1018.1" y2="685.9" stroke="#000080" stroke-width="3" stroke-linecap="square"/>
<rect x="1023.4" y="663.0" width="3.0" height="3.0" fill="#000080"/>
<line x1="1027.8" y1="659.5" x2="1023.6" y2="673.3" stroke="#000080" stroke-width="3" stroke-linecap="square"/>
<line x1="1022.8" y1="678.2" x2="1021.6" y2="685.0" stroke="#000080" stroke-width="3" stroke-linecap="square"/>
<rect x="1026.1" y="661.1" width="3.0" height="3.0" fill="#000080"/>
<line x1="1031.2" y1="659.7" x2="1027.2" y2="671.9" stroke="#000080" stroke-width="3" stroke-linecap="square"/>
<line x1="1026.4" y1="677.7" x2="1025.2" y2="682.1" stroke="#000080" stroke-width="3" stroke-linecap="square"/>
<rect x="1027.5" y="661.8" width="3.0" height="3.0" fill="#000080"/>
<rect x="1027.4" y="663.4" width="3.0" height="3.0" fill="#000080"/>
<line x1="1036.0" y1="661.7" x2="1031.2" y2="672.2" stroke="#000080" stroke-width="3" stroke-linecap="square"/>
<line x1="1030.4" y1="677.8" x2="1029.2" y2="684.3" stroke="#000080" stroke-width="3" stroke-linecap="square"/>
<rect x="1031.4" y="659.5" width="3.0" height="3.0" fill="#000080"/>
<line x1="1039.6" y1="660.3" x2="1036.0" y2="671.7" stroke="#000080" stroke-width="3" stroke-linecap="square"/>
<line x1="1035.2" y1="678.5" x2="1034.0" y2="683.9" stroke="#000080" stroke-width="3" stroke-linecap="square"/>
<rect x="1039.0" y="664.2" width="3.0" height="3.0" fill="#000080"/>
<rect x="1038.9" y="665.7" width="3.0" height="3.0" fill="#000080"/>
<line x1="1043.4" y1="660.9" x2="1039.9" y2="673.7" stroke="#000080" stroke-width="3" stroke-linecap="square"/>
<line x1="1039.1" y1="677.9" x2="1037.9" y2="684.3" stroke="#000080" stroke-width="3" stroke-linecap="square"/>
<line x1="1049.3" y1="659.7" x2="1044.6" y2="671.8" stroke="#000080" stroke-width="3" stroke-linecap="square"/>
<line x1="1043.8" y1="678.4" x2="1042.6" y2="685.4" stroke="#000080" stroke-width="3" stroke-linecap="square"/>
<rect x="1047.9" y="664.0" width="3.0" height="3.0" fill="#000080"/>
<rect x="1044.9" y="659.9" width="3.0" height="3.0" fill="#000080"/>
<line x1="1052.7" y1="661.3" x2="1049.4" y2="670.6" stroke="#000080" stroke-width="3" stroke-linecap="square"/>
<line x1="1048.6" y1="678.2" x2="1047.4" y2="683.4" stroke="#000080" stroke-width="3" stroke-linecap="square"/>
<rect x="1051.0" y="667.6" width="3.0" height="3.0" fill="#000080"/>
<line x1="1057.1" y1="660.5" x2="1053.7" y2="671.7" stroke="#000080" stroke-width="3" stroke-linecap="square"/>
<line x1="1052.9" y1="678.7" x2="1051.7" y2="683.2" stroke="#000080" stroke-width="3" stroke-linecap="square"/>
<rect x="1054.7" y="662.2" width="3.0" height="3.0" fill="#000080"/>
<line x1="1062.4" y1="660.0" x2="1057.8" y2="671.7" stroke="#000080" stroke-width="3" stroke-linecap="square"/>
<line x1="1057.0" y1="678.5" x2="1055.8" y2="681.7" stroke="#000080" stroke-width="3" stroke-linecap="square"/>
<rect x="1057.5" y="666.5" width="3.0" height="3.0" fill="#000080"/>
<rect x="1058.2" y="659.3" width="3.0" height="3.0" fill="#000080"/>
<line x1="1066.3" y1="661.1" x2="1061.5" y2="673.0" stroke="#000080" stroke-width="3" stroke-linecap="square"/>
<rect x="1064.7" y="659.7" width="3.0" height="3.0" fill="#000080"/>
<line x1="1070.2" y1="659.8" x2="1065.5" y2="673.1" stroke="#000080" stroke-width="3" stroke-linecap="square"/>
<line x1="1064.7" y1="677.6" x2="1063.5" y2="685.9" stroke="#000080" stroke-width="3" stroke-linecap="square"/>
<rect x="1068.9" y="659.2" width="3.0" height="3.0" fill="#000080"/>
<line x1="1073.2" y1="659.6" x2="1068.9" y2="670.6" stroke="#000080" stroke-width="3" stroke-linecap="square"/>
<line x1="1068.1" y1="677.7" x2="1066.9" y2="681.6" stroke="#000080" stroke-width="3" stroke-linecap="square"/>
<rect x="1070.8" y="665.2" width="3.0" height="3.0" fill="#000080"/>
<rect x="111.9" y="631.2" width="3.0" height="5.2" fill="#000080"/>
<rect x="113.9" y="655.0" width="3.0" height="2.5" fill="#000080"/>
<rect x="115.0" y="664.5" width="3.0" height="2.5" fill="#000080"/>
<rect x="116.0" y="685.5" width="3.0" height="4.9" fill="#000080"/>
<rect x="116.6" y="700.8" width="3.0" height="5.2" fill="#000080"/>
<rect x="117.5" y="668.0" width="3.0" height="8.0" fill="#000080"/>
<rect x="344.7" y="653.9" width="2.6" height="4.8" fill="#000080"/>
<rect x="347.0" y="663.5" width="3.0" height="20.9" fill="#000080"/>
<rect x="350.8" y="667.0" width="5.2" height="3.5" fill="#000080"/>
<rect x="355.7" y="667.6" width="3.6" height="3.5" fill="#000080"/>
<rect x="359.1" y="667.0" width="4.4" height="3.5" fill="#000080"/>
<rect x="361.3" y="664.5" width="3.0" height="3.0" fill="#000080"/>
<rect x="363.2" y="666.0" width="4.2" height="3.5" fill="#000080"/>
<rect x="367.1" y="665.9" width="5.0" height="3.5" fill="#000080"/>
<rect x="371.8" y="665.5" width="2.3" height="3.5" fill="#000080"/>
<rect x="373.8" y="665.4" width="3.3" height="3.5" fill="#000080"/>
<rect x="372.5" y="667.9" width="3.0" height="3.0" fill="#000080"/>
<rect x="376.8" y="664.5" width="4.7" height="3.5" fill="#000080"/>
<rect x="381.2" y="664.1" width="2.8" height="3.5" fill="#000080"/>
<rect x="383.7" y="663.8" width="4.4" height="3.5" fill="#000080"/>
<rect x="387.8" y="663.2" width="4.4" height="3.5" fill="#000080"/>
<rect x="391.9" y="663.4" width="3.5" height="3.5" fill="#000080"/>
<rect x="395.1" y="661.5" width="4.1" height="3.5" fill="#000080"/>
<rect x="397.4" y="664.0" width="3.0" height="3.0" fill="#000080"/>
<rect x="399.0" y="661.7" width="2.9" height="3.5" fill="#000080"/>
<rect x="401.6" y="660.7" width="3.3" height="3.5" fill="#000080"/>
<rect x="404.6" y="661.7" width="4.0" height="3.5" fill="#000080"/>
<rect x="408.3" y="661.2" width="5.3" height="3.5" fill="#000080"/>
<rect x="413.2" y="660.1" width="2.7" height="3.5" fill="#000080"/>
<rect x="415.7" y="660.7" width="4.1" height="3.5" fill="#000080"/>
<rect x="416.4" y="663.2" width="3.0" height="3.0" fill="#000080"/>
<rect x="419.4" y="660.5" width="2.7" height="3.5" fill="#000080"/>
<rect x="420.0" y="663.0" width="3.0" height="3.0" fill="#000080"/>
<rect x="421.8" y="659.0" width="3.6" height="3.5" fill="#000080"/>
<rect x="421.8" y="656.5" width="3.0" height="3.0" fill="#000080"/>
<rect x="425.2" y="658.8" width="2.4" height="3.5" fill="#000080"/>
<rect x="425.0" y="656.3" width="3.0" height="3.0" fill="#000080"/>
<rect x="427.3" y="660.1" width="3.4" height="3.5" fill="#000080"/>
<rect x="430.4" y="658.5" width="4.2" height="3.5" fill="#000080"/>
<rect x="434.3" y="659.7" width="3.5" height="3.5" fill="#000080"/>
<rect x="435.5" y="662.2" width="3.0" height="3.0" fill="#000080"/>
<rect x="437.5" y="658.2" width="4.7" height="3.5" fill="#000080"/>
<rect x="440.4" y="655.7" width="3.0" height="3.0" fill="#000080"/>
<rect x="442.0" y="658.6" width="4.5" height="3.5" fill="#000080"/>
<rect x="446.2" y="657.7" width="4.9" height="3.5" fill="#000080"/>
<rect x="446.9" y="660.2" width="3.0" height="3.0" fill="#000080"/>
<rect x="450.8" y="658.2" width="2.6" height="3.5" fill="#000080"/>
<rect x="450.6" y="655.7" width="3.0" height="3.0" fill="#000080"/>
<rect x="453.0" y="657.4" width="2.5" height="3.5" fill="#000080"/>
<rect x="455.3" y="657.9" width="2.9" height="3.5" fill="#000080"/>
<rect x="457.8" y="657.1" width="4.2" height="3.5" fill="#000080"/>
<rect x="460.0" y="659.6" width="3.0" height="3.0" fill="#000080"/>
<rect x="461.8" y="657.6" width="3.7" height="3.5" fill="#000080"/>
<rect x="465.2" y="656.7" width="3.0" height="3.5" fill="#000080"/>
<rect x="467.8" y="658.0" width="0.5" height="3.5" fill="#000080"/>
<rect x="468.0" y="655.5" width="3.0" height="3.0" fill="#000080"/>
<rect x="405.7" y="653.9" width="2.6" height="20.8" fill="#000080"/>
<rect x="384.6" y="628.4" width="3.0" height="3.0" fill="#000080"/>
<rect x="387.2" y="644.4" width="3.0" height="3.0" fill="#000080"/>
<rect x="376.6" y="691.5" width="3.0" height="3.0" fill="#000080"/>
<rect x="376.6" y="695.0" width="3.0" height="3.0" fill="#000080"/>
<rect x="383.0" y="682.9" width="3.0" height="3.0" fill="#000080"/>
<rect x="387.2" y="688.5" width="3.0" height="3.0" fill="#000080"/>
<rect x="388.5" y="678.5" width="3.0" height="3.0" fill="#000080"/>
<rect x="381.5" y="665.5" width="3.0" height="3.0" fill="#000080"/>
<rect x="467.5" y="658.7" width="3.0" height="19.3" fill="#000080"/>
<rect x="471.2" y="662.0" width="2.5" height="14.0" fill="#000080"/>
<rect x="475.3" y="647.6" width="3.0" height="3.0" fill="#000080"/>
<rect x="476.0" y="660.4" width="3.2" height="3.2" fill="#000080"/>
<rect x="478.9" y="662.8" width="3.7" height="3.2" fill="#000080"/>
<rect x="479.8" y="665.0" width="3.0" height="3.0" fill="#000080"/>
<rect x="482.3" y="666.1" width="4.0" height="3.2" fill="#000080"/>
<rect x="486.0" y="666.6" width="5.0" height="3.2" fill="#000080"/>
<rect x="490.7" y="667.3" width="3.4" height="3.2" fill="#000080"/>
<rect x="493.8" y="667.2" width="2.8" height="3.2" fill="#000080"/>
<rect x="496.3" y="667.6" width="5.2" height="3.2" fill="#000080"/>
<rect x="501.2" y="668.5" width="3.3" height="3.2" fill="#000080"/>
<rect x="500.3" y="670.7" width="3.0" height="3.0" fill="#000080"/>
<rect x="504.2" y="668.4" width="2.7" height="3.2" fill="#000080"/>
<rect x="506.6" y="668.8" width="4.6" height="3.2" fill="#000080"/>
<rect x="510.9" y="670.1" width="2.9" height="3.2" fill="#000080"/>
<rect x="513.5" y="670.4" width="3.2" height="3.2" fill="#000080"/>
<rect x="516.4" y="670.8" width="3.6" height="3.2" fill="#000080"/>
<rect x="519.7" y="671.2" width="3.8" height="3.2" fill="#000080"/>
<rect x="523.2" y="671.1" width="2.6" height="3.2" fill="#000080"/>
<rect x="525.5" y="672.0" width="4.3" height="3.2" fill="#000080"/>
<rect x="529.6" y="671.8" width="2.6" height="3.2" fill="#000080"/>
<rect x="531.8" y="673.2" width="2.3" height="3.2" fill="#000080"/>
<rect x="533.9" y="672.8" width="3.9" height="3.2" fill="#000080"/>
<rect x="533.1" y="670.3" width="3.0" height="3.0" fill="#000080"/>
<rect x="535.3" y="675.0" width="3.0" height="3.0" fill="#000080"/>
<rect x="537.4" y="673.1" width="2.6" height="3.2" fill="#000080"/>
<rect x="539.8" y="672.8" width="3.8" height="3.2" fill="#000080"/>
<rect x="543.3" y="673.7" width="5.3" height="3.2" fill="#000080"/>
<rect x="545.9" y="671.2" width="3.0" height="3.0" fill="#000080"/>
<rect x="548.3" y="673.5" width="2.6" height="3.2" fill="#000080"/>
<rect x="550.6" y="674.3" width="4.9" height="3.2" fill="#000080"/>
<rect x="555.2" y="675.2" width="5.3" height="3.2" fill="#000080"/>
<rect x="557.3" y="672.7" width="3.0" height="3.0" fill="#000080"/>
<rect x="560.2" y="674.3" width="3.4" height="3.2" fill="#000080"/>
<rect x="559.2" y="676.5" width="3.0" height="3.0" fill="#000080"/>
<rect x="563.3" y="675.0" width="2.7" height="3.2" fill="#000080"/>
<rect x="563.0" y="672.5" width="3.0" height="3.0" fill="#000080"/>
<rect x="565.7" y="675.6" width="4.0" height="3.2" fill="#000080"/>
<rect x="569.4" y="675.1" width="4.5" height="3.2" fill="#000080"/>
<rect x="573.6" y="675.2" width="4.6" height="3.2" fill="#000080"/>
<rect x="577.9" y="675.9" width="4.4" height="3.2" fill="#000080"/>
<rect x="600.0" y="668.3" width="3.0" height="44.9" fill="#000080"/>
<line x1="608.9" y1="667.7" x2="604.0" y2="677.1" stroke="#000080" stroke-width="3" stroke-linecap="square"/>
<rect x="607.5" y="668.3" width="3.0" height="3.0" fill="#000080"/>
<rect x="607.2" y="667.9" width="3.0" height="3.0" fill="#000080"/>
<line x1="611.6" y1="668.4" x2="608.3" y2="679.6" stroke="#000080" stroke-width="3" stroke-linecap="square"/>
<line x1="607.5" y1="678.6" x2="606.3" y2="682.1" stroke="#000080" stroke-width="3" stroke-linecap="square"/>
<rect x="610.5" y="667.6" width="3.0" height="3.0" fill="#000080"/>
<line x1="616.6" y1="668.8" x2="612.8" y2="677.4" stroke="#000080" stroke-width="3" stroke-linecap="square"/>
<rect x="616.3" y="673.0" width="3.0" height="3.0" fill="#000080"/>
<line x1="621.2" y1="668.5" x2="618.0" y2="679.8" stroke="#000080" stroke-width="3" stroke-linecap="square"/>
<line x1="617.2" y1="677.6" x2="616.0" y2="683.7" stroke="#000080" stroke-width="3" stroke-linecap="square"/>
<rect x="619.1" y="668.2" width="3.0" height="3.0" fill="#000080"/>
<line x1="625.3" y1="667.1" x2="622.2" y2="678.6" stroke="#000080" stroke-width="3" stroke-linecap="square"/>
<line x1="621.4" y1="678.6" x2="620.2" y2="685.5" stroke="#000080" stroke-width="3" stroke-linecap="square"/>
<rect x="623.3" y="671.1" width="3.0" height="3.0" fill="#000080"/>
<rect x="623.1" y="668.4" width="3.0" height="3.0" fill="#000080"/>
<rect x="621.9" y="650.8" width="3.0" height="3.0" fill="#000080"/>
<rect x="952.3" y="648.3" width="2.6" height="55.7" fill="#000080"/>
</g>
<g shape-rendering="crispEdges">
<polyline points="104.0,283.5 119.6,283.5 120.5,281.4 122.0,283.0 124.0,286.0 132.1,286.0 133.1,293.9 135.2,296.0 140.4,298.7 143.5,305.3 147.7,315.7 154.0,329.2 157.0,332.0 163.3,332.0 165.4,336.5 175.8,337.1 180.0,341.7 185.1,343.2 195.5,344.2 321.3,344.2 321.3,343.5 330.7,343.5 330.7,283.5 493.5,283.5 494.0,286.5 497.5,286.5 498.3,275.5 559.2,275.5 559.6,283.5 608.9,283.5 612.0,286.7 618.0,296.0 627.0,308.0 632.0,316.0 637.8,330.0 642.6,334.1 650.6,334.8 658.6,345.0 690.0,345.4 720.4,345.4 720.4,344.4 788.0,344.4 788.0,342.7 872.5,342.7 875.2,345.7 882.6,347.1 911.4,347.1 918.1,352.1 951.9,352.1 953.6,350.4 960.4,354.2 965.4,357.2 1071.0,357.2" fill="none" stroke="#ff5a3a" stroke-width="1" />
<polyline points="117.5,395.2 122.7,396.2 123.8,402.5 132.1,402.5 133.1,398.3 142.5,398.3 143.5,401.4 147.7,393.1 152.0,394.8 200.0,396.5 331.7,396.5 493.0,395.5 498.1,394.5 498.1,373.0 499.5,373.0 511.0,395.5 533.2,433.0 555.5,474.6 556.7,474.6 557.2,423.3 558.3,423.3 558.3,392.9 605.7,392.9 608.9,389.6 615.3,387.1 621.8,383.9 631.4,384.9 639.4,381.6 650.6,383.9 669.8,383.9 679.5,385.8 788.0,385.3 788.0,383.6 826.9,383.6 826.9,380.9 855.6,380.9 855.6,382.6 875.9,382.6 877.6,377.5 880.9,377.5 881.0,379.2 910.0,379.2 912.0,378.0 916.0,378.0 917.0,379.2 1071.0,379.2" fill="none" stroke="#ff5a3a" stroke-width="1" />
<polyline points="116.9,512.1 117.5,518.4 120.6,524.6 124.8,537.1 129.0,549.6 135.2,560.0 142.5,562.0 146.6,564.1 162.2,564.5 166.4,569.3 181.0,570.4 182.0,573.5 188.2,574.5 189.3,576.6 301.6,576.2 302.6,571.4 304.6,571.4 305.6,575.8 331.5,576.2 331.5,512.5 605.7,512.5 612.1,515.1 618.6,518.3 621.8,526.3 628.2,534.3 634.6,548.7 641.0,560.0 650.6,561.5 655.4,569.6 666.6,572.8 700.0,574.4 872.5,574.9 872.5,578.6 909.7,578.6 909.7,583.4 950.2,583.4 952.9,578.6 958.7,588.4 999.2,588.4 999.2,591.1 1011.0,591.1 1011.0,593.5 1071.0,593.5" fill="none" stroke="#ff5a3a" stroke-width="1" />
<polyline points="116.9,684.2 118.6,684.2 118.6,669.6 120.6,661.3 122.0,664.0 124.8,667.6 126.0,663.0 131.0,656.1 133.1,643.6 142.5,643.6 143.5,642.0 145.5,642.0 146.6,648.8 156.0,648.8 157.0,655.1 161.2,655.1 162.2,651.0 165.4,651.0 166.4,645.7 168.5,638.4 171.6,638.4 172.6,640.5 174.7,640.5 174.7,646.8 175.7,640.5 184.1,640.5 184.1,632.2 190.3,632.2 190.3,630.1 194.0,630.1 194.0,635.3 197.5,635.3 197.5,630.1 199.7,630.1 199.7,635.3 212.2,635.3 212.2,629.1 212.2,636.0 215.7,636.0 215.7,640.0 219.3,640.0 219.3,636.0 221.6,636.0 221.6,640.0 225.9,640.0 225.9,633.0 227.9,633.0 227.9,636.0 230.0,636.0 230.0,630.0 234.2,630.0 234.2,638.0 240.0,638.0 240.0,633.0 244.3,633.0 244.3,631.0 246.1,631.0 246.1,636.0 251.5,636.0 251.5,630.0 256.5,630.0 256.5,636.0 260.0,636.0 260.0,636.0 263.9,636.0 263.9,636.0 267.6,636.0 267.6,631.0 271.2,631.0 271.2,636.0 274.5,636.0 274.5,631.0 279.2,631.0 279.2,636.0 284.1,636.0 284.1,636.0 285.7,636.0 285.7,631.0 289.0,631.0 289.0,636.0 292.3,636.0 292.3,630.0 297.6,630.0 297.6,630.0 300.0,630.0 300.0,630.0 303.7,630.0 303.7,638.0 307.1,638.0 307.1,636.0 312.1,636.0 312.1,636.0 315.1,636.0 315.1,636.0 318.1,636.0 318.1,638.0 323.0,638.0 323.0,631.0 325.1,631.0 325.1,631.0 326.6,631.0 326.6,640.0 327.6,640.0 327.6,635.0 330.7,643.6 331.4,677.5 604.1,677.5 605.7,684.4 606.5,676.3 618.6,676.3 620.2,661.9 625.0,661.9 628.2,676.3 631.0,660.0 636.2,649.1 641.0,639.5 645.0,639.5 647.4,645.9 650.6,641.0 655.4,641.0 657.0,629.9 668.2,629.2 669.8,632.4 669.8,633.0 672.0,633.0 672.0,637.0 674.3,637.0 674.3,637.0 676.5,637.0 676.5,630.0 679.7,630.0 679.7,635.0 681.7,635.0 681.7,635.0 687.1,635.0 687.1,628.0 689.7,628.0 689.7,633.0 695.2,633.0 695.2,628.0 697.5,628.0 697.5,635.0 703.0,635.0 703.0,634.5 704.7,634.5 704.7,635.5 707.0,635.5 707.0,638.5 708.6,638.5 708.6,638.5 713.4,638.5 713.4,640.5 715.2,640.5 715.2,634.5 717.5,634.5 717.5,636.5 719.1,636.5 719.1,638.5 722.1,638.5 722.1,641.5 724.1,641.5 724.1,641.5 728.9,641.5 728.9,635.5 733.9,635.5 733.9,635.5 737.9,635.5 737.9,638.5 743.0,638.5 743.0,636.5 747.4,636.5 747.4,635.5 751.9,635.5 751.9,642.5 754.2,642.5 754.2,640.5 759.2,640.5 759.2,634.5 762.4,634.5 762.4,634.5 764.3,634.5 764.3,642.5 769.7,642.5 769.7,636.5 774.1,636.5 774.1,640.5 776.7,640.5 776.7,641.5 779.3,641.5 779.3,635.5 784.6,635.5 784.6,634.5 786.6,634.5 786.6,641.5 790.3,641.5 790.3,634.5 792.9,634.5 792.9,636.5 797.4,636.5 797.4,634.5 800.0,634.5 800.0,641.5 802.5,641.5 802.5,633.5 804.7,633.5 804.7,638.5 808.3,638.5 808.3,635.5 810.2,635.5 810.2,635.5 815.3,635.5 815.3,638.5 819.4,638.5 819.4,642.5 823.2,642.5 823.2,635.5 827.1,635.5 827.1,633.5 830.5,633.5 830.5,638.5 834.8,638.5 834.8,633.5 836.4,633.5 836.4,634.5 839.8,634.5 839.8,638.5 842.6,638.5 842.6,634.5 844.4,634.5 844.4,642.5 847.3,642.5 847.3,633.5 852.4,633.5 852.4,635.5 857.1,635.5 857.1,638.5 860.0,638.5 860.0,641.5 865.1,641.5 865.1,640.5 870.4,640.5 870.4,633.5 875.4,633.5 875.4,625.0 879.4,625.0 879.4,632.0 882.4,632.0 882.4,625.0 886.3,625.0 886.3,626.0 888.2,626.0 888.2,626.0 893.6,626.0 893.6,632.0 898.1,632.0 898.1,632.0 903.3,632.0 903.3,633.0 906.6,633.0 906.6,634.0 908.4,634.0 908.4,634.0 910.0,634.0 910.0,626.0 913.4,626.0 913.4,628.0 918.8,628.0 918.8,626.0 922.3,626.0 922.3,633.0 924.8,633.0 924.8,625.0 927.7,625.0 927.7,627.0 932.0,627.0 932.0,628.0 935.5,628.0 935.5,618.5 939.7,618.5 939.7,621.5 943.2,621.5 943.2,616.5 946.0,616.5 946.0,618.5 948.3,618.5 948.3,620.5 953.0,620.5 953.0,616.5 958.0,616.5 958.0,620.5 960.4,620.5 960.4,618.5 962.7,618.5 962.7,615.5 966.2,615.5 966.2,613.5 970.6,613.5 970.6,618.5 975.3,618.5 975.3,614.5 978.6,614.5 978.6,618.5 983.8,618.5 983.8,620.5 986.9,620.5 986.9,622.5 990.4,622.5 990.4,618.5 994.7,618.5 994.7,621.5 997.5,621.5 997.5,613.5 1000.1,613.5 1000.1,613.5 1004.3,613.5 1004.3,618.5 1008.1,618.5 1008.1,618.5 1012.2,618.5 1012.2,609.0 1016.3,609.0 1016.3,616.0 1019.6,616.0 1019.6,609.0 1024.2,609.0 1024.2,614.0 1026.6,614.0 1026.6,611.0 1031.3,611.0 1031.3,610.0 1034.6,610.0 1034.6,618.0 1038.7,618.0 1038.7,614.0 1044.0,614.0 1044.0,612.0 1046.3,612.0 1046.3,617.0 1048.9,617.0 1048.9,609.0 1053.4,609.0 1053.4,618.0 1057.7,618.0 1057.7,611.0 1060.1,611.0 1060.1,614.0 1063.8,614.0 1063.8,618.0 1067.3,618.0 1067.3,611.0 1070.4,611.0 1070.4,612.0 1071.0,612.0" fill="none" stroke="#ff5a3a" stroke-width="1" />
<polyline points="950.5,628.0 951.5,643.2 952.5,628.0" fill="none" stroke="#ff5a3a" stroke-width="1" />
</g>
<g>
<polyline points="104.0,285.5 1072.0,285.5" fill="none" stroke="#229922" stroke-width="1" shape-rendering="crispEdges"/>
<polyline points="104.0,395.5 1072.0,395.5" fill="none" stroke="#229922" stroke-width="1" shape-rendering="crispEdges"/>
<polyline points="104.0,512.5 1072.0,512.5" fill="none" stroke="#229922" stroke-width="1" shape-rendering="crispEdges"/>
<polyline points="104.0,677.5 1072.0,677.5" fill="none" stroke="#229922" stroke-width="1" shape-rendering="crispEdges"/>
</g>
</g>
<g>
<rect x="185.0" y="27.0" width="143.0" height="1.0" fill="#000"/>
<rect x="185.0" y="27.0" width="1.0" height="41.0" fill="#000"/>
<rect x="327.0" y="27.0" width="2.0" height="42.0" fill="#000"/>
<rect x="185.0" y="67.0" width="144.0" height="2.0" fill="#000"/>
<polyline points="192.0,39.5 232.0,39.5" fill="none" stroke="#ff0000" stroke-width="1" shape-rendering="crispEdges"/>
<polyline points="192.0,55.5 232.0,55.5" fill="none" stroke="#0000ff" stroke-width="1" shape-rendering="crispEdges"/>
<text x="237.3" y="43.8" font-size="11.6" xml:space="preserve">LER   1598.1</text>
<text x="237.3" y="59.8" font-size="11.6" xml:space="preserve">HER   1200.0</text>
<rect x="213.0" y="264.0" width="114.0" height="1.0" fill="#000"/>
<rect x="213.0" y="264.0" width="1.0" height="42.0" fill="#000"/>
<rect x="326.0" y="264.0" width="2.0" height="43.0" fill="#000"/>
<rect x="213.0" y="305.0" width="115.0" height="2.0" fill="#000"/>
<polyline points="219.5,276.5 259.5,276.5" fill="none" stroke="#ff5a3a" stroke-width="1" shape-rendering="crispEdges"/>
<polyline points="219.5,292.5 259.5,292.5" fill="none" stroke="#229922" stroke-width="1" shape-rendering="crispEdges"/>
<text x="320.3" y="280.5" font-size="11.6" text-anchor="end">45.504</text>
<text x="320.3" y="296.7" font-size="11.6" text-anchor="end">45.533</text>
<rect x="213.0" y="383.0" width="114.0" height="1.0" fill="#000"/>
<rect x="213.0" y="383.0" width="1.0" height="42.0" fill="#000"/>
<rect x="326.0" y="383.0" width="2.0" height="43.0" fill="#000"/>
<rect x="213.0" y="424.0" width="115.0" height="2.0" fill="#000"/>
<polyline points="219.5,395.5 259.5,395.5" fill="none" stroke="#ff5a3a" stroke-width="1" shape-rendering="crispEdges"/>
<polyline points="219.5,411.5 259.5,411.5" fill="none" stroke="#229922" stroke-width="1" shape-rendering="crispEdges"/>
<text x="320.3" y="399.5" font-size="11.6" text-anchor="end">43.619</text>
<text x="320.3" y="415.7" font-size="11.6" text-anchor="end">43.608</text>
<rect x="213.0" y="501.0" width="114.0" height="1.0" fill="#000"/>
<rect x="213.0" y="501.0" width="1.0" height="42.0" fill="#000"/>
<rect x="326.0" y="501.0" width="2.0" height="43.0" fill="#000"/>
<rect x="213.0" y="542.0" width="115.0" height="2.0" fill="#000"/>
<polyline points="219.5,513.5 259.5,513.5" fill="none" stroke="#ff5a3a" stroke-width="1" shape-rendering="crispEdges"/>
<polyline points="219.5,529.5 259.5,529.5" fill="none" stroke="#229922" stroke-width="1" shape-rendering="crispEdges"/>
<text x="320.3" y="517.5" font-size="11.6" text-anchor="end">44.516</text>
<text x="320.3" y="533.7" font-size="11.6" text-anchor="end">44.538</text>
<rect x="933.0" y="620.0" width="114.0" height="1.0" fill="#000"/>
<rect x="933.0" y="620.0" width="1.0" height="42.0" fill="#000"/>
<rect x="1046.0" y="620.0" width="2.0" height="43.0" fill="#000"/>
<rect x="933.0" y="661.0" width="115.0" height="2.0" fill="#000"/>
<polyline points="939.5,632.5 979.5,632.5" fill="none" stroke="#ff5a3a" stroke-width="1" shape-rendering="crispEdges"/>
<polyline points="939.5,648.5 979.5,648.5" fill="none" stroke="#229922" stroke-width="1" shape-rendering="crispEdges"/>
<text x="1040.3" y="636.5" font-size="11.6" text-anchor="end">46.603</text>
<text x="1040.3" y="652.7" font-size="11.6" text-anchor="end">46.587</text>
</g>
<g>
<text x="100.2" y="98.10" text-anchor="end" font-size="14.6">500</text>
<text x="100.2" y="63.70" text-anchor="end" font-size="14.6">1000</text>
<text x="100.2" y="29.30" text-anchor="end" font-size="14.6">1500</text>
<text x="100.2" y="225.50" text-anchor="end" font-size="14.6">10</text>
<text x="100.2" y="199.90" text-anchor="end" font-size="14.6">20</text>
<text x="100.2" y="174.30" text-anchor="end" font-size="14.6">30</text>
<text x="100.2" y="148.70" text-anchor="end" font-size="14.6">40</text>
<text x="100.2" y="347.00" text-anchor="end" font-size="14.6">45.51</text>
<text x="100.2" y="322.40" text-anchor="end" font-size="14.6">45.52</text>
<text x="100.2" y="297.80" text-anchor="end" font-size="14.6">45.53</text>
<text x="100.2" y="273.20" text-anchor="end" font-size="14.6">45.54</text>
<text x="100.2" y="487.50" text-anchor="end" font-size="14.6">43.54</text>
<text x="100.2" y="461.60" text-anchor="end" font-size="14.6">43.56</text>
<text x="100.2" y="435.70" text-anchor="end" font-size="14.6">43.58</text>
<text x="100.2" y="409.80" text-anchor="end" font-size="14.6">43.6</text>
<text x="100.2" y="383.90" text-anchor="end" font-size="14.6">43.62</text>
<text x="100.2" y="603.80" text-anchor="end" font-size="14.6">44.515</text>
<text x="100.2" y="584.80" text-anchor="end" font-size="14.6">44.52</text>
<text x="100.2" y="565.80" text-anchor="end" font-size="14.6">44.525</text>
<text x="100.2" y="546.80" text-anchor="end" font-size="14.6">44.53</text>
<text x="100.2" y="527.80" text-anchor="end" font-size="14.6">44.535</text>
<text x="100.2" y="508.80" text-anchor="end" font-size="14.6">44.54</text>
<text x="100.2" y="489.80" text-anchor="end" font-size="14.6">44.545</text>
<text x="100.2" y="709.50" text-anchor="end" font-size="14.6">46.58</text>
<text x="100.2" y="689.80" text-anchor="end" font-size="14.6">46.585</text>
<text x="100.2" y="670.10" text-anchor="end" font-size="14.6">46.59</text>
<text x="100.2" y="650.40" text-anchor="end" font-size="14.6">46.595</text>
<text x="100.2" y="630.70" text-anchor="end" font-size="14.6">46.6</text>
<text x="100.2" y="611.00" text-anchor="end" font-size="14.6">46.605</text>
<text x="1075" y="251.70" font-size="14.6">0</text>
<text x="1075" y="225.05" font-size="14.6">20</text>
<text x="1075" y="198.40" font-size="14.6">40</text>
<text x="1075" y="171.75" font-size="14.6">60</text>
<text x="1075" y="145.10" font-size="14.6">80</text>
<text transform="translate(60.8,85.8) rotate(-90)" font-size="12">I[mA]</text>
<text transform="translate(78.4,221) rotate(-90)" font-size="13.4" font-weight="bold">Lum(10<tspan dy="-7.2" font-size="10.5">33</tspan><tspan dy="7.2">)</tspan></text>
<text transform="translate(1097.6,113.8) rotate(90)" font-size="16.6" font-weight="bold">Spec. Lum(10<tspan dy="-8.6" font-size="14.5">30</tspan><tspan dy="8.6">)</tspan></text>
<text transform="translate(44.8,332.6) rotate(-90)" font-size="14.0" font-weight="bold">ν</text>
<text transform="translate(47.8,323.8) rotate(-90)" font-size="10.8" font-weight="bold">x</text>
<text transform="translate(45.2,318.1) rotate(-90)" font-size="13.5" font-weight="bold">(HER)</text>
<text transform="translate(44.4,458.7) rotate(-90)" font-size="17.1" font-weight="bold">ν</text>
<text transform="translate(47.1,447.9) rotate(-90)" font-size="14.2" font-weight="bold">y</text>
<text transform="translate(43.7,441.0) rotate(-90)" font-size="16.5" font-weight="bold">(HER)</text>
<text transform="translate(34.8,576.1) rotate(-90)" font-size="17.1" font-weight="bold">ν</text>
<text transform="translate(37.5,565.3) rotate(-90)" font-size="14.2" font-weight="bold">x</text>
<text transform="translate(34.1,558.4) rotate(-90)" font-size="16.5" font-weight="bold">(LER)</text>
<text transform="translate(34.8,696.1) rotate(-90)" font-size="17.1" font-weight="bold">ν</text>
<text transform="translate(37.5,685.3) rotate(-90)" font-size="14.2" font-weight="bold">y</text>
<text transform="translate(34.1,678.4) rotate(-90)" font-size="16.5" font-weight="bold">(LER)</text>
<text x="191.8" y="749.9" font-size="22">9<tspan dy="-10.1" font-size="17.5">h</tspan><tspan dy="10.1">0</tspan><tspan dy="-10.1" font-size="17.5">m</tspan><tspan dy="10.1">0</tspan><tspan dy="-10.1" font-size="17.5">s</tspan></text>
<text x="318.8" y="749.9" font-size="22" text-anchor="middle">10<tspan dy="-10.1" font-size="18">h</tspan></text>
<text x="426.4" y="749.9" font-size="22" text-anchor="middle">11<tspan dy="-10.1" font-size="18">h</tspan></text>
<text x="534.0" y="749.9" font-size="22" text-anchor="middle">12<tspan dy="-10.1" font-size="18">h</tspan></text>
<text x="641.6" y="749.9" font-size="22" text-anchor="middle">13<tspan dy="-10.1" font-size="18">h</tspan></text>
<text x="749.2" y="749.9" font-size="22" text-anchor="middle">14<tspan dy="-10.1" font-size="18">h</tspan></text>
<text x="856.8" y="749.9" font-size="22" text-anchor="middle">15<tspan dy="-10.1" font-size="18">h</tspan></text>
<text x="964.4" y="749.9" font-size="22" text-anchor="middle">16<tspan dy="-10.1" font-size="18">h</tspan></text>
<text x="1072.0" y="749.9" font-size="22" text-anchor="middle">17<tspan dy="-10.1" font-size="18">h</tspan></text>
<text x="151.5" y="775.5" font-size="22">3/27/2026</text>
</g>
</svg>
</body></html>
